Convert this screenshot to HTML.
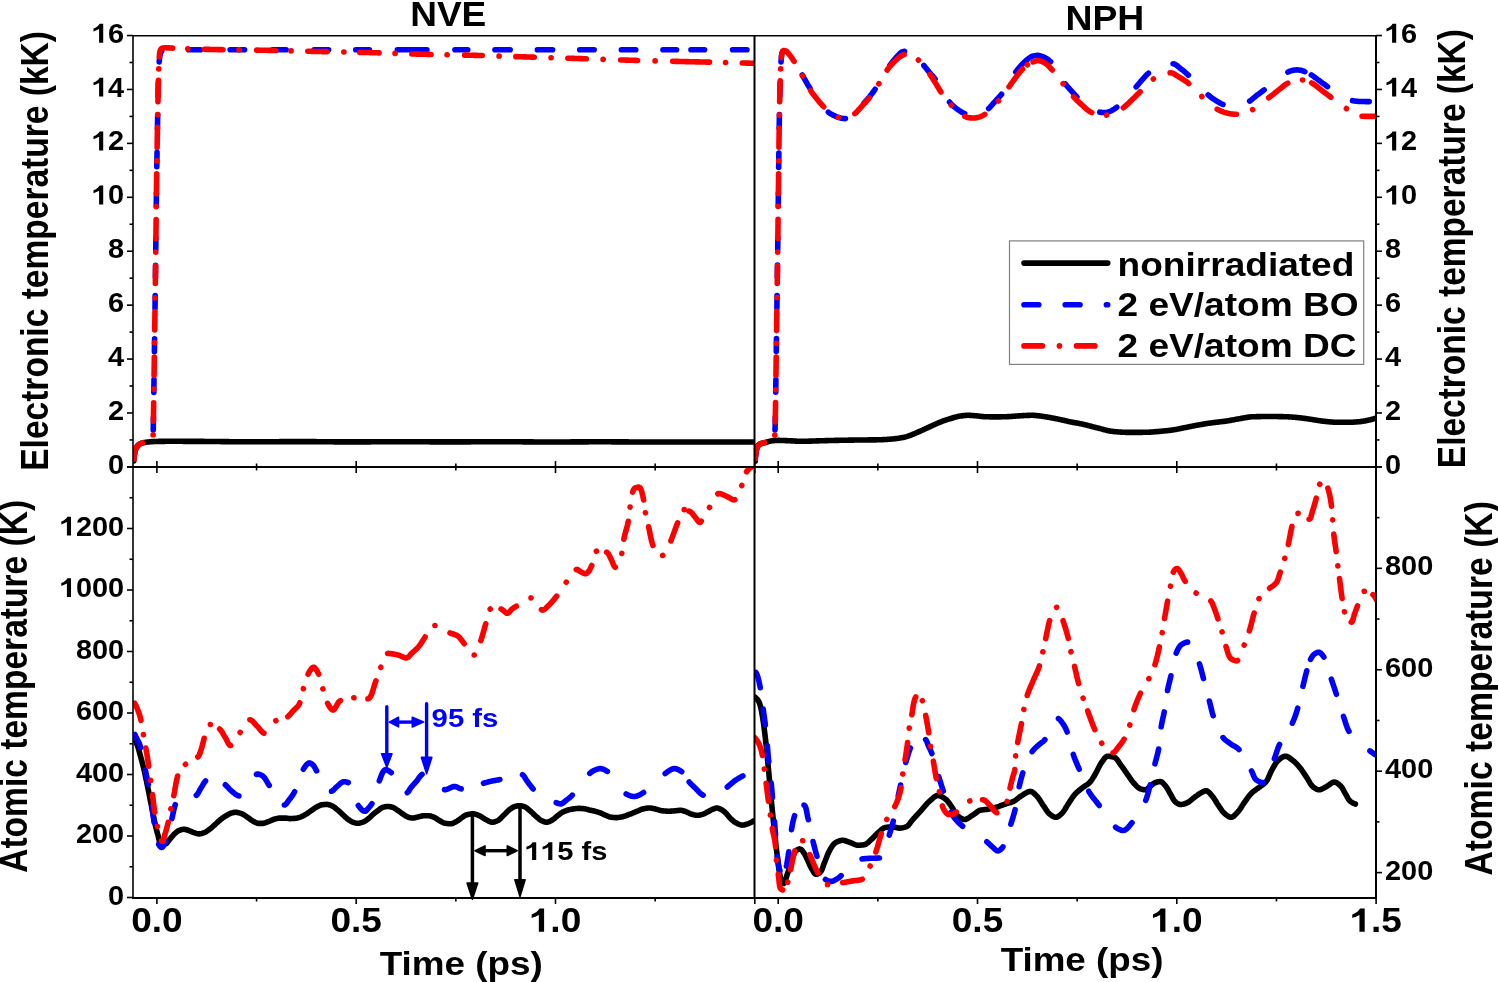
<!DOCTYPE html>
<html><head><meta charset="utf-8"><style>html,body{margin:0;padding:0;background:#fff;overflow:hidden}svg{display:block;will-change:transform}</style></head>
<body>
<svg width="1498" height="982" viewBox="0 0 1498 982">
<rect width="1498" height="982" fill="#fff"/>
<defs><clipPath id="cTL"><rect x="133.3" y="35.6" width="621" height="431.4"/></clipPath><clipPath id="cTR"><rect x="754.3" y="35.6" width="621.6" height="431.4"/></clipPath><clipPath id="cBL"><rect x="133.3" y="467" width="621" height="431.1"/></clipPath><clipPath id="cBR"><rect x="754.3" y="467" width="621.6" height="431.1"/></clipPath></defs>
<g clip-path="url(#cTL)">
<path d="M133.80,461.00 L133.81,460.18 L133.84,459.36 L133.89,458.55 L133.96,457.74 L134.04,456.94 L134.13,456.14 L134.24,455.35 L134.36,454.57 L134.48,453.79 L134.62,453.01 L134.76,452.24 L134.91,451.47 L135.13,450.69 L135.39,449.92 L135.69,449.16 L136.03,448.42 L136.38,447.71 L136.77,447.03 L137.23,446.35 L137.74,445.69 L138.30,445.09 L138.88,444.58 L139.51,444.17 L140.21,443.80 L140.96,443.46 L141.74,443.17 L142.52,442.92 L143.29,442.73 L144.07,442.57 L144.85,442.42 L145.65,442.29 L146.45,442.18 L147.25,442.08 L148.04,442.00 L148.84,441.92 L149.64,441.84 L150.44,441.77 L151.23,441.70 L152.03,441.64 L152.83,441.59 L153.63,441.55 L154.43,441.52 L155.23,441.49 L156.03,441.48 L156.83,441.46 L157.63,441.44 L158.43,441.42 L159.23,441.41 L160.04,441.39 L160.84,441.38 L161.64,441.37 L162.44,441.35 L163.24,441.34 L164.04,441.33 L164.84,441.33 L165.64,441.32 L166.44,441.31 L167.24,441.31 L168.05,441.30 L168.85,441.30 L169.65,441.30 L170.45,441.30 L171.25,441.30 L172.05,441.30 L172.85,441.30 L173.65,441.30 L174.45,441.30 L175.25,441.30 L176.05,441.31 L176.85,441.31 L177.65,441.31 L178.46,441.31 L179.26,441.31 L180.06,441.32 L180.86,441.32 L181.66,441.32 L182.46,441.32 L183.26,441.33 L184.06,441.33 L184.86,441.33 L185.66,441.34 L186.46,441.34 L187.26,441.34 L188.06,441.35 L188.87,441.35 L189.67,441.35 L190.47,441.36 L191.27,441.36 L192.07,441.36 L192.87,441.37 L193.67,441.37 L194.47,441.37 L195.27,441.38 L196.07,441.38 L196.87,441.39 L197.67,441.39 L198.47,441.39 L199.28,441.40 L200.08,441.40 L200.88,441.40 L201.68,441.41 L202.48,441.41 L203.28,441.42 L204.08,441.42 L204.88,441.43 L205.68,441.43 L206.48,441.44 L207.28,441.45 L208.08,441.45 L208.88,441.46 L209.68,441.47 L210.49,441.48 L211.29,441.48 L212.09,441.49 L212.89,441.50 L213.69,441.51 L214.49,441.51 L215.29,441.52 L216.09,441.53 L216.89,441.54 L217.69,441.55 L218.49,441.56 L219.29,441.57 L220.09,441.57 L220.90,441.58 L221.70,441.59 L222.50,441.60 L223.30,441.61 L224.10,441.62 L224.90,441.63 L225.70,441.64 L226.50,441.64 L227.30,441.65 L228.10,441.66 L228.90,441.67 L229.70,441.68 L230.50,441.69 L231.30,441.69 L232.11,441.70 L232.91,441.71 L233.71,441.72 L234.51,441.72 L235.31,441.73 L236.11,441.74 L236.91,441.74 L237.71,441.75 L238.51,441.76 L239.31,441.76 L240.11,441.77 L240.91,441.77 L241.71,441.78 L242.52,441.78 L243.32,441.78 L244.12,441.79 L244.92,441.79 L245.72,441.79 L246.52,441.80 L247.32,441.80 L248.12,441.80 L248.92,441.80 L249.72,441.80 L250.52,441.80 L251.32,441.80 L252.12,441.80 L252.92,441.80 L253.73,441.80 L254.53,441.80 L255.33,441.79 L256.13,441.79 L256.93,441.79 L257.73,441.79 L258.53,441.78 L259.33,441.78 L260.13,441.78 L260.93,441.78 L261.73,441.77 L262.53,441.77 L263.33,441.76 L264.14,441.76 L264.94,441.76 L265.74,441.75 L266.54,441.75 L267.34,441.74 L268.14,441.74 L268.94,441.74 L269.74,441.73 L270.54,441.73 L271.34,441.72 L272.14,441.72 L272.94,441.71 L273.74,441.71 L274.55,441.70 L275.35,441.70 L276.15,441.69 L276.95,441.69 L277.75,441.68 L278.55,441.68 L279.35,441.67 L280.15,441.67 L280.95,441.66 L281.75,441.66 L282.55,441.66 L283.35,441.65 L284.15,441.65 L284.96,441.64 L285.76,441.64 L286.56,441.64 L287.36,441.63 L288.16,441.63 L288.96,441.62 L289.76,441.62 L290.56,441.62 L291.36,441.62 L292.16,441.61 L292.96,441.61 L293.76,441.61 L294.56,441.61 L295.37,441.60 L296.17,441.60 L296.97,441.60 L297.77,441.60 L298.57,441.60 L299.37,441.60 L300.17,441.60 L300.97,441.60 L301.77,441.60 L302.57,441.60 L303.37,441.60 L304.17,441.61 L304.97,441.61 L305.77,441.61 L306.58,441.61 L307.38,441.62 L308.18,441.62 L308.98,441.63 L309.78,441.63 L310.58,441.63 L311.38,441.64 L312.18,441.64 L312.98,441.65 L313.78,441.66 L314.58,441.66 L315.38,441.67 L316.18,441.67 L316.99,441.68 L317.79,441.69 L318.59,441.69 L319.39,441.70 L320.19,441.71 L320.99,441.71 L321.79,441.72 L322.59,441.73 L323.39,441.74 L324.19,441.74 L324.99,441.75 L325.79,441.76 L326.59,441.76 L327.40,441.77 L328.20,441.78 L329.00,441.79 L329.80,441.79 L330.60,441.80 L331.40,441.81 L332.20,441.81 L333.00,441.82 L333.80,441.83 L334.60,441.83 L335.40,441.84 L336.20,441.84 L337.00,441.85 L337.81,441.86 L338.61,441.86 L339.41,441.87 L340.21,441.87 L341.01,441.87 L341.81,441.88 L342.61,441.88 L343.41,441.89 L344.21,441.89 L345.01,441.89 L345.81,441.89 L346.61,441.90 L347.41,441.90 L348.21,441.90 L349.02,441.90 L349.82,441.90 L350.62,441.90 L351.42,441.90 L352.22,441.90 L353.02,441.90 L353.82,441.90 L354.62,441.90 L355.42,441.89 L356.22,441.89 L357.02,441.89 L357.82,441.89 L358.62,441.88 L359.43,441.88 L360.23,441.88 L361.03,441.88 L361.83,441.87 L362.63,441.87 L363.43,441.86 L364.23,441.86 L365.03,441.86 L365.83,441.85 L366.63,441.85 L367.43,441.84 L368.23,441.84 L369.03,441.84 L369.84,441.83 L370.64,441.83 L371.44,441.82 L372.24,441.82 L373.04,441.81 L373.84,441.81 L374.64,441.80 L375.44,441.80 L376.24,441.79 L377.04,441.79 L377.84,441.78 L378.64,441.78 L379.44,441.77 L380.25,441.77 L381.05,441.76 L381.85,441.76 L382.65,441.76 L383.45,441.75 L384.25,441.75 L385.05,441.74 L385.85,441.74 L386.65,441.74 L387.45,441.73 L388.25,441.73 L389.05,441.72 L389.85,441.72 L390.66,441.72 L391.46,441.72 L392.26,441.71 L393.06,441.71 L393.86,441.71 L394.66,441.71 L395.46,441.70 L396.26,441.70 L397.06,441.70 L397.86,441.70 L398.66,441.70 L399.46,441.70 L400.26,441.70 L401.07,441.70 L401.87,441.70 L402.67,441.70 L403.47,441.70 L404.27,441.70 L405.07,441.71 L405.87,441.71 L406.67,441.71 L407.47,441.71 L408.27,441.71 L409.07,441.72 L409.87,441.72 L410.67,441.72 L411.47,441.73 L412.28,441.73 L413.08,441.73 L413.88,441.74 L414.68,441.74 L415.48,441.75 L416.28,441.75 L417.08,441.75 L417.88,441.76 L418.68,441.76 L419.48,441.77 L420.28,441.77 L421.08,441.78 L421.88,441.78 L422.69,441.79 L423.49,441.79 L424.29,441.80 L425.09,441.80 L425.89,441.81 L426.69,441.81 L427.49,441.81 L428.29,441.82 L429.09,441.82 L429.89,441.83 L430.69,441.83 L431.49,441.84 L432.29,441.84 L433.10,441.85 L433.90,441.85 L434.70,441.86 L435.50,441.86 L436.30,441.86 L437.10,441.87 L437.90,441.87 L438.70,441.87 L439.50,441.88 L440.30,441.88 L441.10,441.88 L441.90,441.89 L442.70,441.89 L443.51,441.89 L444.31,441.89 L445.11,441.89 L445.91,441.90 L446.71,441.90 L447.51,441.90 L448.31,441.90 L449.11,441.90 L449.91,441.90 L450.71,441.90 L451.51,441.90 L452.31,441.90 L453.11,441.90 L453.92,441.90 L454.72,441.89 L455.52,441.89 L456.32,441.89 L457.12,441.89 L457.92,441.89 L458.72,441.88 L459.52,441.88 L460.32,441.88 L461.12,441.87 L461.92,441.87 L462.72,441.87 L463.52,441.86 L464.33,441.86 L465.13,441.86 L465.93,441.85 L466.73,441.85 L467.53,441.84 L468.33,441.84 L469.13,441.83 L469.93,441.83 L470.73,441.83 L471.53,441.82 L472.33,441.82 L473.13,441.81 L473.93,441.81 L474.74,441.80 L475.54,441.80 L476.34,441.79 L477.14,441.79 L477.94,441.78 L478.74,441.78 L479.54,441.77 L480.34,441.77 L481.14,441.76 L481.94,441.76 L482.74,441.76 L483.54,441.75 L484.34,441.75 L485.14,441.74 L485.95,441.74 L486.75,441.73 L487.55,441.73 L488.35,441.73 L489.15,441.72 L489.95,441.72 L490.75,441.72 L491.55,441.72 L492.35,441.71 L493.15,441.71 L493.95,441.71 L494.75,441.71 L495.55,441.70 L496.36,441.70 L497.16,441.70 L497.96,441.70 L498.76,441.70 L499.56,441.70 L500.36,441.70 L501.16,441.70 L501.96,441.70 L502.76,441.70 L503.56,441.70 L504.36,441.71 L505.16,441.71 L505.96,441.71 L506.77,441.71 L507.57,441.72 L508.37,441.72 L509.17,441.73 L509.97,441.73 L510.77,441.74 L511.57,441.74 L512.37,441.75 L513.17,441.75 L513.97,441.76 L514.77,441.76 L515.57,441.77 L516.37,441.78 L517.18,441.78 L517.98,441.79 L518.78,441.80 L519.58,441.80 L520.38,441.81 L521.18,441.82 L521.98,441.82 L522.78,441.83 L523.58,441.84 L524.38,441.84 L525.18,441.85 L525.98,441.86 L526.78,441.87 L527.58,441.87 L528.39,441.88 L529.19,441.89 L529.99,441.89 L530.79,441.90 L531.59,441.91 L532.39,441.91 L533.19,441.92 L533.99,441.93 L534.79,441.93 L535.59,441.94 L536.39,441.95 L537.19,441.95 L537.99,441.96 L538.80,441.96 L539.60,441.97 L540.40,441.97 L541.20,441.98 L542.00,441.98 L542.80,441.98 L543.60,441.99 L544.40,441.99 L545.20,441.99 L546.00,441.99 L546.80,442.00 L547.60,442.00 L548.40,442.00 L549.21,442.00 L550.01,442.00 L550.81,442.00 L551.61,442.00 L552.41,442.00 L553.21,442.00 L554.01,442.00 L554.81,441.99 L555.61,441.99 L556.41,441.99 L557.21,441.99 L558.01,441.99 L558.81,441.98 L559.62,441.98 L560.42,441.98 L561.22,441.97 L562.02,441.97 L562.82,441.97 L563.62,441.96 L564.42,441.96 L565.22,441.96 L566.02,441.95 L566.82,441.95 L567.62,441.94 L568.42,441.94 L569.22,441.93 L570.02,441.93 L570.83,441.92 L571.63,441.92 L572.43,441.92 L573.23,441.91 L574.03,441.91 L574.83,441.90 L575.63,441.90 L576.43,441.89 L577.23,441.89 L578.03,441.88 L578.83,441.88 L579.63,441.87 L580.43,441.87 L581.24,441.86 L582.04,441.86 L582.84,441.85 L583.64,441.85 L584.44,441.85 L585.24,441.84 L586.04,441.84 L586.84,441.83 L587.64,441.83 L588.44,441.83 L589.24,441.82 L590.04,441.82 L590.84,441.82 L591.65,441.81 L592.45,441.81 L593.25,441.81 L594.05,441.81 L594.85,441.81 L595.65,441.80 L596.45,441.80 L597.25,441.80 L598.05,441.80 L598.85,441.80 L599.65,441.80 L600.45,441.80 L601.25,441.80 L602.06,441.80 L602.86,441.80 L603.66,441.80 L604.46,441.80 L605.26,441.81 L606.06,441.81 L606.86,441.81 L607.66,441.81 L608.46,441.82 L609.26,441.82 L610.06,441.82 L610.86,441.82 L611.66,441.83 L612.47,441.83 L613.27,441.83 L614.07,441.84 L614.87,441.84 L615.67,441.85 L616.47,441.85 L617.27,441.86 L618.07,441.86 L618.87,441.86 L619.67,441.87 L620.47,441.87 L621.27,441.88 L622.07,441.88 L622.88,441.89 L623.68,441.89 L624.48,441.90 L625.28,441.90 L626.08,441.91 L626.88,441.91 L627.68,441.92 L628.48,441.92 L629.28,441.93 L630.08,441.93 L630.88,441.93 L631.68,441.94 L632.48,441.94 L633.29,441.95 L634.09,441.95 L634.89,441.96 L635.69,441.96 L636.49,441.96 L637.29,441.97 L638.09,441.97 L638.89,441.97 L639.69,441.98 L640.49,441.98 L641.29,441.98 L642.09,441.99 L642.89,441.99 L643.69,441.99 L644.50,441.99 L645.30,442.00 L646.10,442.00 L646.90,442.00 L647.70,442.00 L648.50,442.00 L649.30,442.00 L650.10,442.00 L650.90,442.00 L651.70,442.00 L652.50,442.00 L653.30,442.00 L654.10,442.00 L654.91,442.00 L655.71,442.00 L656.51,442.00 L657.31,442.00 L658.11,442.00 L658.91,442.00 L659.71,442.00 L660.51,442.00 L661.31,442.00 L662.11,442.00 L662.91,442.00 L663.71,442.00 L664.51,442.00 L665.32,442.00 L666.12,442.00 L666.92,442.00 L667.72,442.00 L668.52,442.00 L669.32,442.00 L670.12,442.00 L670.92,442.00 L671.72,442.00 L672.52,442.00 L673.32,442.00 L674.12,442.00 L674.92,442.00 L675.73,442.00 L676.53,442.00 L677.33,442.00 L678.13,442.00 L678.93,442.00 L679.73,442.00 L680.53,442.00 L681.33,442.00 L682.13,442.00 L682.93,442.00 L683.73,442.00 L684.53,442.00 L685.33,442.00 L686.14,442.00 L686.94,442.00 L687.74,442.00 L688.54,442.00 L689.34,442.00 L690.14,442.00 L690.94,442.00 L691.74,442.00 L692.54,442.00 L693.34,442.00 L694.14,442.00 L694.94,442.00 L695.74,442.00 L696.55,442.00 L697.35,442.00 L698.15,442.00 L698.95,442.00 L699.75,442.00 L700.55,442.00 L701.35,442.00 L702.15,442.00 L702.95,442.00 L703.75,442.00 L704.55,442.00 L705.35,442.00 L706.15,442.00 L706.96,442.00 L707.76,442.00 L708.56,442.00 L709.36,442.00 L710.16,442.00 L710.96,442.00 L711.76,442.00 L712.56,442.00 L713.36,442.00 L714.16,442.00 L714.96,442.00 L715.76,442.00 L716.56,442.00 L717.37,442.00 L718.17,442.00 L718.97,442.00 L719.77,442.00 L720.57,442.00 L721.37,442.00 L722.17,442.00 L722.97,442.00 L723.77,442.00 L724.57,442.00 L725.37,442.00 L726.17,442.00 L726.97,442.00 L727.78,442.00 L728.58,442.00 L729.38,442.00 L730.18,442.00 L730.98,442.00 L731.78,442.00 L732.58,442.00 L733.38,442.00 L734.18,442.00 L734.98,442.00 L735.78,442.00 L736.58,442.00 L737.38,442.00 L738.19,442.00 L738.99,442.00 L739.79,442.00 L740.59,442.00 L741.39,442.00 L742.19,442.00 L742.99,442.00 L743.79,442.00 L744.59,442.00 L745.39,442.00 L746.19,442.00 L746.99,442.00 L747.79,442.00 L748.60,442.00 L749.40,442.00 L750.20,442.00 L751.00,442.00 L751.80,442.00 L752.60,442.00 L753.40,442.00" fill="none" stroke="#000" stroke-width="5.6" stroke-linecap="round" stroke-linejoin="round"/>
<path d="M133.80,461.00 L133.81,460.18 L133.84,459.36 L133.89,458.55 L133.96,457.74 L134.04,456.94 L134.13,456.15 L134.24,455.36 L134.36,454.57 L134.48,453.79 L134.62,453.02 L134.75,452.25 L134.91,451.47 L135.12,450.70 L135.39,449.93 L135.69,449.17 L136.02,448.43 L136.38,447.73 L136.76,447.04 L137.22,446.36 L137.73,445.70 L138.28,445.10 L138.87,444.59 L139.50,444.18 L140.20,443.81 L140.95,443.47 L141.72,443.17 L142.50,442.93 L143.27,442.74 L144.05,442.58 L144.83,442.45 L145.63,442.34 L146.43,442.23 L147.23,442.12 L148.02,442.00 L148.88,441.88 L149.79,441.77 L150.64,441.65 L151.31,441.49 L151.73,441.21 L152.09,440.65 L152.42,439.88 L152.68,438.98 L152.88,438.05 L152.99,437.18 L153.03,436.40 L153.07,435.62 L153.10,434.83 L153.13,434.05 L153.16,433.25 L153.18,432.46 L153.21,431.66 L153.23,430.86 L153.24,430.06 L153.26,429.26 L153.27,428.45 L153.29,427.64 L153.30,426.83 L153.31,426.03 L153.32,425.22 L153.33,424.41 L153.34,423.60 L153.35,422.80 L153.37,421.99 L153.38,421.19 L153.39,420.38 L153.41,419.58 L153.42,418.78 L153.44,417.98 L153.45,417.18 L153.47,416.38 L153.48,415.58 L153.49,414.78 L153.51,413.98 L153.52,413.18 L153.53,412.38 L153.55,411.58 L153.56,410.78 L153.57,409.98 L153.59,409.18 L153.60,408.38 L153.61,407.59 L153.62,406.79 L153.63,405.99 L153.65,405.19 L153.66,404.39 L153.67,403.59 L153.68,402.79 L153.69,401.99 L153.71,401.19 L153.72,400.39 L153.73,399.59 L153.74,398.79 L153.75,397.99 L153.76,397.19 L153.77,396.39 L153.78,395.59 L153.79,394.79 L153.81,393.99 L153.82,393.19 L153.83,392.39 L153.84,391.59 L153.85,390.79 L153.86,389.99 L153.87,389.19 L153.88,388.39 L153.89,387.59 L153.90,386.79 L153.92,385.99 L153.93,385.19 L153.94,384.39 L153.95,383.59 L153.96,382.79 L153.97,381.99 L153.98,381.19 L153.99,380.39 L154.01,379.59 L154.02,378.79 L154.03,377.99 L154.04,377.19 L154.05,376.39 L154.06,375.59 L154.08,374.79 L154.09,373.99 L154.10,373.19 L154.11,372.39 L154.12,371.59 L154.13,370.79 L154.14,369.99 L154.15,369.19 L154.17,368.39 L154.18,367.59 L154.19,366.79 L154.20,365.99 L154.21,365.19 L154.22,364.39 L154.23,363.59 L154.24,362.79 L154.26,361.99 L154.27,361.19 L154.28,360.39 L154.29,359.59 L154.30,358.79 L154.31,357.99 L154.32,357.19 L154.33,356.39 L154.34,355.59 L154.36,354.79 L154.37,353.99 L154.38,353.19 L154.39,352.39 L154.40,351.59 L154.41,350.79 L154.42,349.99 L154.43,349.19 L154.44,348.39 L154.46,347.59 L154.47,346.79 L154.48,345.99 L154.49,345.19 L154.50,344.39 L154.51,343.59 L154.52,342.79 L154.53,341.99 L154.54,341.19 L154.56,340.39 L154.57,339.59 L154.58,338.79 L154.59,337.99 L154.60,337.19 L154.61,336.39 L154.62,335.59 L154.63,334.79 L154.64,333.99 L154.66,333.19 L154.67,332.39 L154.68,331.59 L154.69,330.79 L154.70,329.99 L154.71,329.19 L154.72,328.39 L154.73,327.59 L154.75,326.79 L154.76,325.99 L154.77,325.19 L154.78,324.39 L154.79,323.59 L154.80,322.79 L154.81,321.99 L154.82,321.19 L154.84,320.39 L154.85,319.59 L154.86,318.79 L154.87,317.99 L154.88,317.19 L154.89,316.39 L154.90,315.59 L154.92,314.79 L154.93,313.99 L154.94,313.19 L154.95,312.39 L154.96,311.59 L154.97,310.79 L154.99,309.99 L155.00,309.19 L155.01,308.39 L155.02,307.59 L155.03,306.79 L155.04,305.99 L155.05,305.19 L155.07,304.39 L155.08,303.59 L155.09,302.79 L155.10,301.99 L155.11,301.19 L155.12,300.39 L155.13,299.59 L155.14,298.79 L155.16,297.99 L155.17,297.19 L155.18,296.39 L155.19,295.59 L155.20,294.79 L155.21,293.99 L155.22,293.19 L155.23,292.39 L155.25,291.59 L155.26,290.79 L155.27,289.99 L155.28,289.19 L155.29,288.39 L155.30,287.59 L155.31,286.79 L155.32,285.99 L155.33,285.19 L155.34,284.39 L155.35,283.59 L155.36,282.79 L155.37,281.99 L155.38,281.19 L155.39,280.39 L155.41,279.59 L155.42,278.79 L155.43,277.99 L155.44,277.19 L155.45,276.39 L155.46,275.59 L155.47,274.79 L155.48,273.99 L155.49,273.19 L155.50,272.39 L155.51,271.59 L155.52,270.79 L155.53,269.99 L155.54,269.19 L155.55,268.39 L155.56,267.59 L155.57,266.79 L155.57,265.99 L155.58,265.19 L155.59,264.39 L155.60,263.59 L155.61,262.79 L155.62,261.99 L155.63,261.19 L155.64,260.39 L155.65,259.59 L155.66,258.79 L155.67,257.99 L155.68,257.19 L155.69,256.39 L155.70,255.59 L155.71,254.79 L155.72,253.99 L155.73,253.19 L155.74,252.39 L155.75,251.59 L155.76,250.79 L155.76,249.99 L155.77,249.19 L155.78,248.39 L155.79,247.59 L155.80,246.79 L155.81,245.99 L155.82,245.19 L155.83,244.39 L155.84,243.59 L155.85,242.79 L155.86,241.99 L155.87,241.19 L155.88,240.39 L155.89,239.59 L155.90,238.79 L155.91,237.99 L155.91,237.19 L155.92,236.39 L155.93,235.59 L155.94,234.79 L155.95,233.99 L155.96,233.19 L155.97,232.39 L155.98,231.60 L155.99,230.80 L156.00,230.00 L156.01,229.20 L156.02,228.40 L156.03,227.60 L156.04,226.80 L156.05,226.00 L156.06,225.20 L156.07,224.40 L156.08,223.60 L156.08,222.80 L156.09,222.00 L156.10,221.20 L156.11,220.40 L156.12,219.60 L156.13,218.80 L156.14,218.00 L156.15,217.20 L156.16,216.40 L156.17,215.60 L156.18,214.80 L156.19,214.00 L156.19,213.20 L156.20,212.40 L156.21,211.60 L156.22,210.80 L156.23,210.00 L156.24,209.20 L156.25,208.40 L156.26,207.60 L156.27,206.80 L156.28,206.00 L156.29,205.20 L156.30,204.40 L156.30,203.60 L156.31,202.80 L156.32,202.00 L156.33,201.20 L156.34,200.40 L156.35,199.60 L156.36,198.80 L156.37,198.00 L156.38,197.20 L156.39,196.40 L156.40,195.60 L156.41,194.80 L156.42,194.00 L156.43,193.20 L156.44,192.40 L156.45,191.60 L156.46,190.80 L156.47,190.00 L156.48,189.20 L156.49,188.40 L156.50,187.60 L156.51,186.80 L156.52,186.00 L156.53,185.20 L156.54,184.40 L156.55,183.60 L156.56,182.80 L156.57,182.00 L156.58,181.20 L156.59,180.40 L156.61,179.60 L156.62,178.80 L156.63,178.00 L156.64,177.20 L156.65,176.40 L156.66,175.60 L156.67,174.80 L156.69,174.00 L156.70,173.20 L156.71,172.40 L156.72,171.60 L156.74,170.80 L156.75,170.00 L156.76,169.20 L156.77,168.40 L156.79,167.60 L156.80,166.80 L156.81,166.00 L156.82,165.20 L156.84,164.40 L156.85,163.60 L156.86,162.80 L156.88,162.00 L156.89,161.20 L156.90,160.40 L156.92,159.60 L156.93,158.80 L156.94,158.00 L156.96,157.20 L156.97,156.40 L156.98,155.60 L157.00,154.80 L157.01,154.00 L157.02,153.20 L157.04,152.40 L157.05,151.60 L157.07,150.80 L157.08,150.00 L157.09,149.20 L157.11,148.40 L157.12,147.60 L157.13,146.80 L157.15,146.00 L157.16,145.20 L157.18,144.40 L157.19,143.60 L157.20,142.80 L157.22,142.00 L157.23,141.20 L157.24,140.40 L157.26,139.60 L157.27,138.80 L157.29,138.00 L157.30,137.20 L157.31,136.40 L157.33,135.60 L157.34,134.80 L157.36,134.00 L157.37,133.20 L157.39,132.40 L157.40,131.60 L157.41,130.80 L157.43,130.00 L157.44,129.20 L157.46,128.40 L157.47,127.60 L157.49,126.80 L157.50,126.00 L157.52,125.20 L157.53,124.40 L157.55,123.60 L157.56,122.80 L157.57,122.00 L157.59,121.20 L157.60,120.40 L157.62,119.60 L157.63,118.80 L157.65,118.00 L157.66,117.20 L157.68,116.40 L157.69,115.60 L157.71,114.80 L157.72,114.00 L157.74,113.20 L157.75,112.40 L157.77,111.60 L157.78,110.80 L157.80,110.01 L157.82,109.21 L157.83,108.41 L157.85,107.61 L157.86,106.81 L157.88,106.01 L157.89,105.21 L157.90,104.41 L157.92,103.61 L157.93,102.81 L157.95,102.01 L157.96,101.21 L157.98,100.41 L157.99,99.61 L158.01,98.81 L158.02,98.01 L158.04,97.21 L158.06,96.41 L158.07,95.61 L158.09,94.81 L158.10,94.01 L158.12,93.21 L158.14,92.41 L158.15,91.61 L158.17,90.81 L158.19,90.01 L158.20,89.21 L158.22,88.41 L158.24,87.61 L158.26,86.81 L158.28,86.01 L158.29,85.21 L158.31,84.41 L158.33,83.61 L158.35,82.81 L158.37,82.01 L158.39,81.21 L158.41,80.41 L158.43,79.61 L158.45,78.81 L158.47,78.01 L158.49,77.21 L158.51,76.41 L158.53,75.61 L158.55,74.81 L158.58,74.01 L158.60,73.21 L158.63,72.41 L158.66,71.61 L158.69,70.81 L158.72,70.01 L158.75,69.21 L158.78,68.42 L158.82,67.62 L158.86,66.82 L158.90,66.02 L158.95,65.22 L159.00,64.42 L159.06,63.62 L159.12,62.82 L159.18,62.02 L159.25,61.22 L159.33,60.42 L159.41,59.63 L159.50,58.84 L159.59,58.05 L159.70,57.25 L159.82,56.42 L159.95,55.60 L160.11,54.78 L160.30,54.00 L160.52,53.25 L160.77,52.56 L161.14,51.88 L161.69,51.20 L162.34,50.63 L163.01,50.30 L163.72,50.14 L164.50,50.00 L165.32,49.90 L166.16,49.83 L166.98,49.80 L167.78,49.79 L168.58,49.78 L169.37,49.76 L170.17,49.75 L170.97,49.74 L171.77,49.74 L172.57,49.73 L173.37,49.72 L174.17,49.72 L174.98,49.71 L175.78,49.71 L176.58,49.71 L177.38,49.70 L178.18,49.70 L178.98,49.70 L179.78,49.70 L180.58,49.70 L181.38,49.70 L182.18,49.70 L182.98,49.70 L183.78,49.70 L184.58,49.70 L185.38,49.70 L186.18,49.70 L186.98,49.70 L187.78,49.70 L188.58,49.70 L189.38,49.70 L190.18,49.70 L190.98,49.70 L191.78,49.70 L192.58,49.70 L193.38,49.70 L194.18,49.70 L194.98,49.70 L195.78,49.70 L196.58,49.70 L197.38,49.70 L198.18,49.70 L198.98,49.70 L199.78,49.70 L200.58,49.70 L201.38,49.70 L202.18,49.70 L202.98,49.70 L203.78,49.70 L204.58,49.70 L205.38,49.70 L206.18,49.70 L206.98,49.70 L207.78,49.70 L208.58,49.70 L209.38,49.70 L210.18,49.70 L210.98,49.70 L211.78,49.70 L212.58,49.70 L213.38,49.70 L214.18,49.70 L214.98,49.70 L215.78,49.70 L216.58,49.70 L217.38,49.70 L218.18,49.70 L218.98,49.70 L219.78,49.70 L220.58,49.70 L221.38,49.70 L222.18,49.70 L222.98,49.70 L223.78,49.70 L224.58,49.70 L225.38,49.70 L226.18,49.70 L226.98,49.70 L227.78,49.70 L228.58,49.70 L229.38,49.70 L230.18,49.70 L230.98,49.70 L231.78,49.70 L232.58,49.70 L233.38,49.70 L234.18,49.70 L234.98,49.70 L235.78,49.70 L236.58,49.70 L237.38,49.70 L238.18,49.70 L238.98,49.70 L239.78,49.70 L240.58,49.70 L241.38,49.70 L242.18,49.70 L242.98,49.70 L243.78,49.70 L244.58,49.70 L245.38,49.70 L246.18,49.70 L246.98,49.70 L247.78,49.70 L248.58,49.70 L249.38,49.70 L250.18,49.70 L250.98,49.70 L251.78,49.70 L252.58,49.70 L253.38,49.70 L254.18,49.70 L254.98,49.70 L255.78,49.70 L256.58,49.70 L257.38,49.70 L258.18,49.70 L258.98,49.70 L259.78,49.70 L260.58,49.70 L261.38,49.70 L262.18,49.70 L262.98,49.70 L263.78,49.70 L264.58,49.70 L265.38,49.70 L266.18,49.70 L266.98,49.70 L267.78,49.70 L268.58,49.70 L269.38,49.70 L270.18,49.70 L270.98,49.70 L271.78,49.70 L272.58,49.70 L273.38,49.70 L274.18,49.70 L274.98,49.70 L275.78,49.70 L276.58,49.70 L277.38,49.70 L278.18,49.70 L278.98,49.70 L279.78,49.70 L280.58,49.70 L281.38,49.70 L282.18,49.70 L282.98,49.70 L283.78,49.70 L284.58,49.70 L285.38,49.70 L286.18,49.70 L286.98,49.70 L287.78,49.70 L288.58,49.70 L289.38,49.70 L290.18,49.70 L290.98,49.70 L291.78,49.70 L292.58,49.70 L293.38,49.70 L294.18,49.70 L294.98,49.70 L295.78,49.70 L296.58,49.70 L297.38,49.70 L298.18,49.70 L298.98,49.70 L299.78,49.70 L300.58,49.70 L301.38,49.70 L302.18,49.70 L302.98,49.70 L303.78,49.70 L304.58,49.70 L305.38,49.70 L306.18,49.70 L306.98,49.70 L307.78,49.70 L308.58,49.70 L309.38,49.70 L310.18,49.70 L310.98,49.70 L311.78,49.70 L312.58,49.70 L313.38,49.70 L314.18,49.70 L314.98,49.70 L315.78,49.70 L316.58,49.70 L317.38,49.70 L318.18,49.70 L318.98,49.70 L319.78,49.70 L320.58,49.70 L321.38,49.70 L322.18,49.70 L322.98,49.70 L323.78,49.70 L324.58,49.70 L325.38,49.70 L326.18,49.70 L326.98,49.70 L327.78,49.70 L328.58,49.70 L329.38,49.70 L330.18,49.70 L330.98,49.70 L331.78,49.70 L332.58,49.70 L333.38,49.70 L334.18,49.70 L334.98,49.70 L335.78,49.70 L336.58,49.70 L337.38,49.70 L338.18,49.70 L338.98,49.70 L339.78,49.70 L340.58,49.70 L341.38,49.70 L342.18,49.70 L342.98,49.70 L343.78,49.70 L344.58,49.70 L345.38,49.70 L346.18,49.70 L346.98,49.70 L347.78,49.70 L348.58,49.70 L349.38,49.70 L350.18,49.70 L350.98,49.70 L351.78,49.70 L352.58,49.70 L353.38,49.70 L354.18,49.70 L354.98,49.70 L355.78,49.70 L356.58,49.70 L357.38,49.70 L358.18,49.70 L358.98,49.70 L359.78,49.70 L360.58,49.70 L361.38,49.70 L362.18,49.70 L362.98,49.70 L363.78,49.70 L364.58,49.70 L365.38,49.70 L366.18,49.70 L366.98,49.70 L367.78,49.70 L368.58,49.70 L369.38,49.70 L370.18,49.70 L370.98,49.70 L371.78,49.70 L372.58,49.70 L373.38,49.70 L374.18,49.70 L374.98,49.70 L375.78,49.70 L376.58,49.70 L377.38,49.70 L378.18,49.70 L378.98,49.70 L379.78,49.70 L380.58,49.70 L381.38,49.70 L382.18,49.70 L382.98,49.70 L383.78,49.70 L384.58,49.70 L385.38,49.70 L386.18,49.70 L386.98,49.70 L387.78,49.70 L388.58,49.70 L389.38,49.70 L390.18,49.70 L390.98,49.70 L391.78,49.70 L392.59,49.70 L393.39,49.70 L394.19,49.70 L394.99,49.70 L395.79,49.70 L396.59,49.70 L397.39,49.70 L398.19,49.70 L398.99,49.70 L399.79,49.70 L400.59,49.70 L401.39,49.70 L402.19,49.70 L402.99,49.70 L403.79,49.70 L404.59,49.70 L405.39,49.70 L406.19,49.70 L406.99,49.70 L407.79,49.70 L408.59,49.70 L409.39,49.70 L410.19,49.70 L410.99,49.70 L411.79,49.70 L412.59,49.70 L413.39,49.70 L414.19,49.70 L414.99,49.70 L415.79,49.70 L416.59,49.70 L417.39,49.70 L418.19,49.70 L418.99,49.70 L419.79,49.70 L420.59,49.70 L421.39,49.70 L422.19,49.70 L422.99,49.70 L423.79,49.70 L424.59,49.70 L425.39,49.70 L426.19,49.70 L426.99,49.70 L427.79,49.70 L428.59,49.70 L429.39,49.70 L430.19,49.70 L430.99,49.70 L431.79,49.70 L432.59,49.70 L433.39,49.70 L434.19,49.70 L434.99,49.70 L435.79,49.70 L436.59,49.70 L437.39,49.70 L438.19,49.70 L438.99,49.70 L439.79,49.70 L440.59,49.70 L441.39,49.70 L442.19,49.70 L442.99,49.70 L443.79,49.70 L444.59,49.70 L445.39,49.70 L446.19,49.70 L446.99,49.70 L447.79,49.70 L448.59,49.70 L449.39,49.70 L450.19,49.70 L450.99,49.70 L451.79,49.70 L452.59,49.70 L453.39,49.70 L454.19,49.70 L454.99,49.70 L455.79,49.70 L456.59,49.70 L457.39,49.70 L458.19,49.70 L458.99,49.70 L459.79,49.70 L460.59,49.70 L461.39,49.70 L462.19,49.70 L462.99,49.70 L463.79,49.70 L464.59,49.70 L465.39,49.70 L466.19,49.70 L466.99,49.70 L467.79,49.70 L468.59,49.70 L469.39,49.70 L470.19,49.70 L470.99,49.70 L471.79,49.70 L472.59,49.70 L473.39,49.70 L474.19,49.70 L474.99,49.70 L475.79,49.70 L476.59,49.70 L477.39,49.70 L478.19,49.70 L478.99,49.70 L479.79,49.70 L480.59,49.70 L481.39,49.70 L482.19,49.70 L482.99,49.70 L483.79,49.70 L484.59,49.70 L485.39,49.70 L486.19,49.70 L486.99,49.70 L487.79,49.70 L488.59,49.70 L489.39,49.70 L490.19,49.70 L490.99,49.70 L491.79,49.70 L492.59,49.70 L493.39,49.70 L494.19,49.70 L494.99,49.70 L495.79,49.70 L496.59,49.70 L497.39,49.70 L498.19,49.70 L498.99,49.70 L499.79,49.70 L500.59,49.70 L501.39,49.70 L502.19,49.70 L502.99,49.70 L503.79,49.70 L504.59,49.70 L505.39,49.70 L506.19,49.70 L506.99,49.70 L507.79,49.70 L508.59,49.70 L509.39,49.70 L510.19,49.70 L510.99,49.70 L511.79,49.70 L512.59,49.70 L513.39,49.70 L514.19,49.70 L514.99,49.70 L515.79,49.70 L516.59,49.70 L517.39,49.70 L518.19,49.70 L518.99,49.70 L519.79,49.70 L520.59,49.70 L521.39,49.70 L522.19,49.70 L522.99,49.70 L523.79,49.70 L524.59,49.70 L525.39,49.70 L526.19,49.70 L526.99,49.70 L527.79,49.70 L528.59,49.70 L529.39,49.70 L530.19,49.70 L530.99,49.70 L531.79,49.70 L532.59,49.70 L533.39,49.70 L534.19,49.70 L534.99,49.70 L535.79,49.70 L536.59,49.70 L537.39,49.70 L538.19,49.70 L538.99,49.70 L539.79,49.70 L540.59,49.70 L541.39,49.70 L542.19,49.70 L542.99,49.70 L543.79,49.70 L544.59,49.70 L545.39,49.70 L546.19,49.70 L546.99,49.70 L547.79,49.70 L548.59,49.70 L549.39,49.70 L550.19,49.70 L550.99,49.70 L551.79,49.70 L552.59,49.70 L553.39,49.70 L554.19,49.70 L554.99,49.70 L555.79,49.70 L556.59,49.70 L557.39,49.70 L558.19,49.70 L558.99,49.70 L559.79,49.70 L560.59,49.70 L561.39,49.70 L562.19,49.70 L562.99,49.70 L563.79,49.70 L564.59,49.70 L565.39,49.70 L566.19,49.70 L566.99,49.70 L567.79,49.70 L568.59,49.70 L569.39,49.70 L570.19,49.70 L570.99,49.70 L571.79,49.70 L572.59,49.70 L573.39,49.70 L574.19,49.70 L574.99,49.70 L575.79,49.70 L576.59,49.70 L577.39,49.70 L578.19,49.70 L578.99,49.70 L579.79,49.70 L580.59,49.70 L581.39,49.70 L582.19,49.70 L582.99,49.70 L583.79,49.70 L584.59,49.70 L585.39,49.70 L586.19,49.70 L586.99,49.70 L587.79,49.70 L588.59,49.70 L589.39,49.70 L590.19,49.70 L590.99,49.70 L591.79,49.70 L592.59,49.70 L593.39,49.70 L594.19,49.70 L594.99,49.70 L595.79,49.70 L596.59,49.70 L597.39,49.70 L598.19,49.70 L598.99,49.70 L599.79,49.70 L600.59,49.70 L601.39,49.70 L602.19,49.70 L602.99,49.70 L603.79,49.70 L604.59,49.70 L605.39,49.70 L606.19,49.70 L606.99,49.70 L607.79,49.70 L608.59,49.70 L609.39,49.70 L610.19,49.70 L610.99,49.70 L611.79,49.70 L612.59,49.70 L613.39,49.70 L614.19,49.70 L614.99,49.70 L615.79,49.70 L616.59,49.70 L617.39,49.70 L618.19,49.70 L618.99,49.70 L619.79,49.70 L620.59,49.70 L621.39,49.70 L622.19,49.70 L622.99,49.70 L623.79,49.70 L624.59,49.70 L625.39,49.70 L626.19,49.70 L626.99,49.70 L627.79,49.70 L628.59,49.70 L629.39,49.70 L630.19,49.70 L630.99,49.70 L631.79,49.70 L632.59,49.70 L633.39,49.70 L634.19,49.70 L634.99,49.70 L635.79,49.70 L636.59,49.70 L637.39,49.70 L638.19,49.70 L638.99,49.70 L639.79,49.70 L640.59,49.70 L641.39,49.70 L642.19,49.70 L642.99,49.70 L643.79,49.70 L644.59,49.70 L645.39,49.70 L646.19,49.70 L646.99,49.70 L647.79,49.70 L648.59,49.70 L649.39,49.70 L650.19,49.70 L650.99,49.70 L651.79,49.70 L652.59,49.70 L653.39,49.70 L654.19,49.70 L654.99,49.70 L655.79,49.70 L656.59,49.70 L657.39,49.70 L658.19,49.70 L658.99,49.70 L659.79,49.70 L660.59,49.70 L661.39,49.70 L662.19,49.70 L662.99,49.70 L663.79,49.70 L664.60,49.70 L665.40,49.70 L666.20,49.70 L667.00,49.70 L667.80,49.70 L668.60,49.70 L669.40,49.70 L670.20,49.70 L671.00,49.70 L671.80,49.70 L672.60,49.70 L673.40,49.70 L674.20,49.70 L675.00,49.70 L675.80,49.70 L676.60,49.70 L677.40,49.70 L678.20,49.70 L679.00,49.70 L679.80,49.70 L680.60,49.70 L681.40,49.70 L682.20,49.70 L683.00,49.70 L683.80,49.70 L684.60,49.70 L685.40,49.70 L686.20,49.70 L687.00,49.70 L687.80,49.70 L688.60,49.70 L689.40,49.70 L690.20,49.70 L691.00,49.70 L691.80,49.70 L692.60,49.70 L693.40,49.70 L694.20,49.70 L695.00,49.70 L695.80,49.70 L696.60,49.70 L697.40,49.70 L698.20,49.70 L699.00,49.70 L699.80,49.70 L700.60,49.70 L701.40,49.70 L702.20,49.70 L703.00,49.70 L703.80,49.70 L704.60,49.70 L705.40,49.70 L706.20,49.70 L707.00,49.70 L707.80,49.70 L708.60,49.70 L709.40,49.70 L710.20,49.70 L711.00,49.70 L711.80,49.70 L712.60,49.70 L713.40,49.70 L714.20,49.70 L715.00,49.70 L715.80,49.70 L716.60,49.70 L717.40,49.70 L718.20,49.70 L719.00,49.70 L719.80,49.70 L720.60,49.70 L721.40,49.70 L722.20,49.70 L723.00,49.70 L723.80,49.70 L724.60,49.70 L725.40,49.70 L726.20,49.70 L727.00,49.70 L727.80,49.70 L728.60,49.70 L729.40,49.70 L730.20,49.70 L731.00,49.70 L731.80,49.70 L732.60,49.70 L733.40,49.70 L734.20,49.70 L735.00,49.70 L735.80,49.70 L736.60,49.70 L737.40,49.70 L738.20,49.70 L739.00,49.70 L739.80,49.70 L740.60,49.70 L741.40,49.70 L742.20,49.70 L743.00,49.70 L743.80,49.70 L744.60,49.70 L745.40,49.70 L746.20,49.70 L747.00,49.70 L747.80,49.70 L748.60,49.70 L749.40,49.70 L750.20,49.70 L751.00,49.70 L751.80,49.70 L752.60,49.70 L753.40,49.70" fill="none" stroke="#0000ff" stroke-width="5.6" stroke-linecap="round" stroke-linejoin="round" stroke-dasharray="13.24 24.97 12.88 24.80 12.80 28.00 12.80 30.40 12.80 18.40 12.00 15.20 12.00 32.00 12.80 26.40 14.40 24.00 13.60 18.40 13.60 20.81 11.27 27.22 12.00 29.60 14.40 28.00 13.60 28.00 14.40 27.20 13.60 28.00 29.60 28.00 12.80 27.20 15.20 27.20 15.20 27.20 14.40 27.20 14.40 27.20 13.60 14.40 13.60 28.00 14.40 1218.23" stroke-dashoffset="-4.30"/>
<path d="M133.80,461.00 L133.81,460.18 L133.84,459.36 L133.89,458.55 L133.96,457.74 L134.04,456.94 L134.13,456.15 L134.24,455.36 L134.36,454.57 L134.48,453.79 L134.62,453.01 L134.76,452.24 L134.91,451.47 L135.13,450.69 L135.39,449.92 L135.69,449.16 L136.02,448.43 L136.38,447.72 L136.77,447.04 L137.22,446.35 L137.73,445.69 L138.29,445.09 L138.88,444.59 L139.51,444.18 L140.21,443.80 L140.95,443.46 L141.73,443.17 L142.51,442.93 L143.28,442.74 L144.06,442.58 L144.84,442.45 L145.64,442.34 L146.44,442.23 L147.24,442.12 L148.03,441.99 L148.89,441.88 L149.81,441.77 L150.66,441.65 L151.32,441.48 L151.74,441.20 L152.10,440.64 L152.42,439.86 L152.69,438.96 L152.88,438.03 L152.99,437.16 L153.03,436.38 L153.07,435.60 L153.10,434.82 L153.13,434.03 L153.16,433.24 L153.18,432.44 L153.21,431.64 L153.23,430.84 L153.24,430.04 L153.26,429.24 L153.27,428.43 L153.29,427.62 L153.30,426.81 L153.31,426.00 L153.32,425.20 L153.33,424.39 L153.34,423.58 L153.35,422.77 L153.37,421.97 L153.38,421.16 L153.39,420.36 L153.41,419.56 L153.42,418.76 L153.44,417.96 L153.45,417.16 L153.47,416.36 L153.48,415.56 L153.49,414.76 L153.51,413.96 L153.52,413.16 L153.53,412.36 L153.55,411.56 L153.56,410.76 L153.57,409.96 L153.59,409.16 L153.60,408.36 L153.61,407.56 L153.62,406.75 L153.64,405.95 L153.65,405.15 L153.66,404.35 L153.67,403.55 L153.68,402.75 L153.69,401.95 L153.71,401.15 L153.72,400.35 L153.73,399.55 L153.74,398.75 L153.75,397.95 L153.76,397.15 L153.77,396.35 L153.78,395.55 L153.80,394.75 L153.81,393.95 L153.82,393.15 L153.83,392.35 L153.84,391.55 L153.85,390.75 L153.86,389.95 L153.87,389.15 L153.88,388.35 L153.89,387.55 L153.90,386.75 L153.92,385.95 L153.93,385.15 L153.94,384.35 L153.95,383.55 L153.96,382.75 L153.97,381.94 L153.98,381.14 L154.00,380.34 L154.01,379.54 L154.02,378.74 L154.03,377.94 L154.04,377.14 L154.05,376.34 L154.06,375.54 L154.08,374.74 L154.09,373.94 L154.10,373.14 L154.11,372.34 L154.12,371.54 L154.13,370.74 L154.14,369.94 L154.16,369.14 L154.17,368.34 L154.18,367.54 L154.19,366.74 L154.20,365.94 L154.21,365.14 L154.22,364.34 L154.23,363.54 L154.25,362.74 L154.26,361.94 L154.27,361.14 L154.28,360.34 L154.29,359.54 L154.30,358.74 L154.31,357.94 L154.32,357.14 L154.33,356.33 L154.35,355.53 L154.36,354.73 L154.37,353.93 L154.38,353.13 L154.39,352.33 L154.40,351.53 L154.41,350.73 L154.42,349.93 L154.43,349.13 L154.45,348.33 L154.46,347.53 L154.47,346.73 L154.48,345.93 L154.49,345.13 L154.50,344.33 L154.51,343.53 L154.52,342.73 L154.53,341.93 L154.55,341.13 L154.56,340.33 L154.57,339.53 L154.58,338.73 L154.59,337.93 L154.60,337.13 L154.61,336.33 L154.62,335.53 L154.63,334.73 L154.65,333.93 L154.66,333.13 L154.67,332.33 L154.68,331.53 L154.69,330.72 L154.70,329.92 L154.71,329.12 L154.72,328.32 L154.73,327.52 L154.75,326.72 L154.76,325.92 L154.77,325.12 L154.78,324.32 L154.79,323.52 L154.80,322.72 L154.81,321.92 L154.83,321.12 L154.84,320.32 L154.85,319.52 L154.86,318.72 L154.87,317.92 L154.88,317.12 L154.89,316.32 L154.91,315.52 L154.92,314.72 L154.93,313.92 L154.94,313.12 L154.95,312.32 L154.96,311.52 L154.97,310.72 L154.99,309.92 L155.00,309.12 L155.01,308.32 L155.02,307.52 L155.03,306.72 L155.04,305.91 L155.06,305.11 L155.07,304.31 L155.08,303.51 L155.09,302.71 L155.10,301.91 L155.11,301.11 L155.12,300.31 L155.13,299.51 L155.15,298.71 L155.16,297.91 L155.17,297.11 L155.18,296.31 L155.19,295.51 L155.20,294.71 L155.21,293.91 L155.22,293.11 L155.24,292.31 L155.25,291.51 L155.26,290.71 L155.27,289.91 L155.28,289.11 L155.29,288.31 L155.30,287.51 L155.31,286.71 L155.32,285.91 L155.33,285.11 L155.34,284.31 L155.35,283.51 L155.36,282.71 L155.38,281.91 L155.39,281.11 L155.40,280.30 L155.41,279.50 L155.42,278.70 L155.43,277.90 L155.44,277.10 L155.45,276.30 L155.46,275.50 L155.47,274.70 L155.48,273.90 L155.49,273.10 L155.50,272.30 L155.51,271.50 L155.52,270.70 L155.53,269.90 L155.54,269.10 L155.55,268.30 L155.56,267.50 L155.57,266.70 L155.58,265.90 L155.59,265.10 L155.60,264.30 L155.60,263.50 L155.61,262.70 L155.62,261.90 L155.63,261.10 L155.64,260.30 L155.65,259.50 L155.66,258.70 L155.67,257.90 L155.68,257.10 L155.69,256.29 L155.70,255.49 L155.71,254.69 L155.72,253.89 L155.73,253.09 L155.74,252.29 L155.75,251.49 L155.76,250.69 L155.77,249.89 L155.78,249.09 L155.78,248.29 L155.79,247.49 L155.80,246.69 L155.81,245.89 L155.82,245.09 L155.83,244.29 L155.84,243.49 L155.85,242.69 L155.86,241.89 L155.87,241.09 L155.88,240.29 L155.89,239.49 L155.90,238.69 L155.91,237.89 L155.92,237.09 L155.93,236.29 L155.93,235.49 L155.94,234.69 L155.95,233.89 L155.96,233.08 L155.97,232.28 L155.98,231.48 L155.99,230.68 L156.00,229.88 L156.01,229.08 L156.02,228.28 L156.03,227.48 L156.04,226.68 L156.05,225.88 L156.06,225.08 L156.07,224.28 L156.08,223.48 L156.09,222.68 L156.10,221.88 L156.10,221.08 L156.11,220.28 L156.12,219.48 L156.13,218.68 L156.14,217.88 L156.15,217.08 L156.16,216.28 L156.17,215.48 L156.18,214.68 L156.19,213.88 L156.20,213.08 L156.20,212.28 L156.21,211.48 L156.22,210.68 L156.23,209.88 L156.24,209.07 L156.25,208.27 L156.26,207.47 L156.27,206.67 L156.28,205.87 L156.29,205.07 L156.30,204.27 L156.31,203.47 L156.32,202.67 L156.32,201.87 L156.33,201.07 L156.34,200.27 L156.35,199.47 L156.36,198.67 L156.37,197.87 L156.38,197.07 L156.39,196.27 L156.40,195.47 L156.41,194.67 L156.42,193.87 L156.43,193.07 L156.44,192.27 L156.45,191.47 L156.46,190.67 L156.47,189.87 L156.48,189.07 L156.49,188.27 L156.50,187.47 L156.51,186.67 L156.52,185.86 L156.53,185.06 L156.54,184.26 L156.55,183.46 L156.56,182.66 L156.57,181.86 L156.59,181.06 L156.60,180.26 L156.61,179.46 L156.62,178.66 L156.63,177.86 L156.64,177.06 L156.65,176.26 L156.67,175.46 L156.68,174.66 L156.69,173.86 L156.70,173.06 L156.71,172.26 L156.73,171.46 L156.74,170.66 L156.75,169.86 L156.76,169.06 L156.78,168.26 L156.79,167.46 L156.80,166.66 L156.81,165.86 L156.83,165.06 L156.84,164.26 L156.85,163.46 L156.87,162.66 L156.88,161.86 L156.89,161.06 L156.91,160.26 L156.92,159.45 L156.93,158.65 L156.95,157.85 L156.96,157.05 L156.97,156.25 L156.99,155.45 L157.00,154.65 L157.01,153.85 L157.03,153.05 L157.04,152.25 L157.05,151.45 L157.07,150.65 L157.08,149.85 L157.10,149.05 L157.11,148.25 L157.12,147.45 L157.14,146.65 L157.15,145.85 L157.16,145.05 L157.18,144.25 L157.19,143.45 L157.21,142.65 L157.22,141.85 L157.23,141.05 L157.25,140.25 L157.26,139.45 L157.28,138.65 L157.29,137.85 L157.30,137.05 L157.32,136.25 L157.33,135.45 L157.35,134.65 L157.36,133.85 L157.37,133.05 L157.39,132.25 L157.40,131.45 L157.42,130.65 L157.43,129.84 L157.45,129.04 L157.46,128.24 L157.47,127.44 L157.49,126.64 L157.50,125.84 L157.52,125.04 L157.53,124.24 L157.55,123.44 L157.56,122.64 L157.58,121.84 L157.59,121.04 L157.61,120.24 L157.62,119.44 L157.64,118.64 L157.65,117.84 L157.67,117.04 L157.68,116.24 L157.70,115.44 L157.71,114.64 L157.73,113.84 L157.74,113.04 L157.76,112.24 L157.77,111.44 L157.79,110.64 L157.80,109.84 L157.82,109.04 L157.83,108.24 L157.85,107.44 L157.86,106.64 L157.88,105.84 L157.89,105.04 L157.91,104.24 L157.92,103.44 L157.94,102.64 L157.95,101.84 L157.97,101.04 L157.98,100.24 L158.00,99.43 L158.01,98.63 L158.03,97.83 L158.04,97.03 L158.06,96.23 L158.07,95.43 L158.09,94.63 L158.11,93.83 L158.12,93.03 L158.14,92.23 L158.16,91.43 L158.17,90.63 L158.19,89.83 L158.21,89.03 L158.22,88.23 L158.24,87.43 L158.26,86.63 L158.28,85.83 L158.30,85.03 L158.32,84.23 L158.34,83.43 L158.36,82.63 L158.38,81.83 L158.40,81.03 L158.42,80.23 L158.44,79.43 L158.46,78.63 L158.49,77.83 L158.51,77.03 L158.53,76.23 L158.56,75.43 L158.58,74.63 L158.60,73.83 L158.63,73.03 L158.66,72.23 L158.68,71.43 L158.71,70.63 L158.74,69.83 L158.76,69.03 L158.79,68.23 L158.82,67.43 L158.85,66.63 L158.88,65.83 L158.91,65.03 L158.93,64.23 L158.96,63.43 L159.00,62.63 L159.03,61.83 L159.07,61.03 L159.11,60.23 L159.15,59.43 L159.19,58.63 L159.24,57.83 L159.30,57.04 L159.36,56.23 L159.42,55.41 L159.50,54.58 L159.59,53.75 L159.70,52.94 L159.83,52.15 L159.98,51.39 L160.15,50.67 L160.42,49.95 L160.90,49.21 L161.50,48.59 L162.13,48.26 L162.85,48.06 L163.67,47.91 L164.52,47.82 L165.32,47.80 L166.12,47.81 L166.91,47.83 L167.71,47.85 L168.51,47.88 L169.31,47.92 L170.11,47.96 L170.91,48.00 L171.72,48.04 L172.52,48.09 L173.32,48.13 L174.12,48.16 L174.92,48.20 L175.72,48.23 L176.52,48.26 L177.32,48.29 L178.12,48.32 L178.92,48.35 L179.72,48.38 L180.52,48.41 L181.32,48.44 L182.12,48.47 L182.92,48.50 L183.72,48.53 L184.52,48.57 L185.32,48.60 L186.12,48.63 L186.92,48.66 L187.72,48.69 L188.52,48.72 L189.32,48.75 L190.12,48.78 L190.92,48.81 L191.72,48.84 L192.52,48.87 L193.32,48.90 L194.12,48.93 L194.92,48.96 L195.72,48.99 L196.52,49.02 L197.32,49.05 L198.12,49.07 L198.92,49.10 L199.72,49.13 L200.52,49.15 L201.32,49.18 L202.12,49.21 L202.92,49.23 L203.72,49.26 L204.52,49.28 L205.32,49.30 L206.12,49.33 L206.92,49.35 L207.72,49.37 L208.52,49.39 L209.32,49.41 L210.12,49.43 L210.92,49.45 L211.72,49.47 L212.52,49.49 L213.32,49.51 L214.12,49.52 L214.92,49.54 L215.72,49.56 L216.52,49.57 L217.32,49.59 L218.12,49.60 L218.92,49.62 L219.72,49.63 L220.52,49.65 L221.32,49.66 L222.12,49.67 L222.92,49.69 L223.72,49.70 L224.52,49.71 L225.32,49.72 L226.12,49.74 L226.92,49.75 L227.72,49.76 L228.52,49.77 L229.32,49.78 L230.12,49.80 L230.92,49.81 L231.72,49.82 L232.52,49.83 L233.32,49.84 L234.12,49.85 L234.92,49.86 L235.72,49.87 L236.53,49.88 L237.33,49.89 L238.13,49.90 L238.93,49.91 L239.73,49.92 L240.53,49.93 L241.33,49.94 L242.13,49.95 L242.93,49.96 L243.73,49.97 L244.53,49.98 L245.33,49.99 L246.13,50.00 L246.93,50.02 L247.73,50.03 L248.53,50.04 L249.33,50.05 L250.13,50.06 L250.93,50.07 L251.73,50.08 L252.53,50.09 L253.33,50.10 L254.13,50.11 L254.93,50.12 L255.73,50.13 L256.53,50.15 L257.33,50.16 L258.13,50.17 L258.94,50.18 L259.74,50.19 L260.54,50.21 L261.34,50.22 L262.14,50.23 L262.94,50.25 L263.74,50.26 L264.54,50.27 L265.34,50.29 L266.14,50.30 L266.94,50.32 L267.74,50.33 L268.54,50.35 L269.34,50.36 L270.14,50.38 L270.94,50.39 L271.74,50.41 L272.54,50.43 L273.34,50.44 L274.14,50.46 L274.94,50.48 L275.74,50.50 L276.54,50.51 L277.34,50.53 L278.14,50.55 L278.94,50.57 L279.74,50.58 L280.54,50.60 L281.34,50.62 L282.14,50.64 L282.94,50.66 L283.74,50.68 L284.54,50.70 L285.34,50.71 L286.14,50.73 L286.94,50.75 L287.74,50.77 L288.54,50.79 L289.34,50.81 L290.14,50.83 L290.94,50.85 L291.74,50.87 L292.54,50.89 L293.34,50.91 L294.14,50.93 L294.94,50.95 L295.74,50.97 L296.54,50.99 L297.35,51.01 L298.15,51.03 L298.95,51.05 L299.75,51.07 L300.55,51.09 L301.35,51.11 L302.15,51.13 L302.95,51.15 L303.75,51.16 L304.55,51.18 L305.35,51.20 L306.15,51.22 L306.95,51.24 L307.75,51.26 L308.55,51.28 L309.35,51.30 L310.15,51.32 L310.95,51.34 L311.75,51.36 L312.55,51.38 L313.35,51.39 L314.15,51.41 L314.95,51.43 L315.75,51.45 L316.55,51.47 L317.35,51.49 L318.15,51.50 L318.95,51.52 L319.75,51.54 L320.55,51.56 L321.35,51.57 L322.15,51.59 L322.95,51.61 L323.75,51.62 L324.55,51.64 L325.35,51.66 L326.15,51.67 L326.95,51.69 L327.75,51.71 L328.55,51.72 L329.35,51.74 L330.15,51.75 L330.95,51.77 L331.75,51.79 L332.55,51.80 L333.35,51.82 L334.15,51.83 L334.95,51.85 L335.75,51.87 L336.55,51.88 L337.36,51.90 L338.16,51.91 L338.96,51.93 L339.76,51.95 L340.56,51.96 L341.36,51.98 L342.16,51.99 L342.96,52.01 L343.76,52.02 L344.56,52.04 L345.36,52.06 L346.16,52.07 L346.96,52.09 L347.76,52.10 L348.56,52.12 L349.36,52.14 L350.16,52.15 L350.96,52.17 L351.76,52.19 L352.56,52.20 L353.36,52.22 L354.16,52.24 L354.96,52.25 L355.76,52.27 L356.56,52.29 L357.36,52.30 L358.16,52.32 L358.96,52.34 L359.76,52.36 L360.56,52.38 L361.36,52.39 L362.16,52.41 L362.96,52.43 L363.76,52.45 L364.56,52.47 L365.36,52.49 L366.16,52.51 L366.96,52.52 L367.76,52.54 L368.56,52.56 L369.36,52.58 L370.16,52.60 L370.96,52.62 L371.76,52.65 L372.56,52.67 L373.36,52.69 L374.16,52.71 L374.96,52.73 L375.76,52.76 L376.56,52.78 L377.36,52.80 L378.16,52.83 L378.96,52.85 L379.76,52.88 L380.56,52.90 L381.36,52.93 L382.16,52.95 L382.96,52.98 L383.76,53.00 L384.56,53.03 L385.36,53.06 L386.16,53.08 L386.96,53.11 L387.76,53.14 L388.56,53.16 L389.36,53.19 L390.16,53.22 L390.96,53.24 L391.76,53.27 L392.56,53.30 L393.36,53.33 L394.16,53.35 L394.96,53.38 L395.76,53.41 L396.56,53.44 L397.36,53.46 L398.16,53.49 L398.96,53.52 L399.76,53.55 L400.56,53.57 L401.36,53.60 L402.16,53.63 L402.96,53.65 L403.76,53.68 L404.56,53.71 L405.36,53.73 L406.16,53.76 L406.96,53.79 L407.76,53.81 L408.56,53.84 L409.36,53.86 L410.16,53.89 L410.96,53.91 L411.76,53.94 L412.56,53.96 L413.36,53.99 L414.16,54.01 L414.96,54.04 L415.76,54.06 L416.56,54.08 L417.36,54.10 L418.16,54.13 L418.96,54.15 L419.76,54.17 L420.56,54.19 L421.36,54.21 L422.16,54.23 L422.96,54.25 L423.76,54.27 L424.56,54.29 L425.36,54.31 L426.16,54.32 L426.96,54.34 L427.76,54.36 L428.56,54.38 L429.37,54.40 L430.17,54.41 L430.97,54.43 L431.77,54.45 L432.57,54.47 L433.37,54.48 L434.17,54.50 L434.97,54.52 L435.77,54.53 L436.57,54.55 L437.37,54.56 L438.17,54.58 L438.97,54.60 L439.77,54.61 L440.57,54.63 L441.37,54.64 L442.17,54.66 L442.97,54.67 L443.77,54.69 L444.57,54.70 L445.37,54.72 L446.17,54.74 L446.97,54.75 L447.77,54.77 L448.57,54.78 L449.37,54.80 L450.17,54.81 L450.97,54.83 L451.77,54.84 L452.57,54.86 L453.37,54.87 L454.17,54.89 L454.97,54.91 L455.77,54.92 L456.57,54.94 L457.37,54.95 L458.17,54.97 L458.97,54.99 L459.77,55.00 L460.57,55.02 L461.38,55.03 L462.18,55.05 L462.98,55.07 L463.78,55.09 L464.58,55.10 L465.38,55.12 L466.18,55.14 L466.98,55.16 L467.78,55.17 L468.58,55.19 L469.38,55.21 L470.18,55.23 L470.98,55.25 L471.78,55.27 L472.58,55.29 L473.38,55.31 L474.18,55.33 L474.98,55.35 L475.78,55.37 L476.58,55.39 L477.38,55.41 L478.18,55.44 L478.98,55.46 L479.78,55.48 L480.58,55.50 L481.38,55.52 L482.18,55.55 L482.98,55.57 L483.78,55.59 L484.58,55.62 L485.38,55.64 L486.18,55.66 L486.98,55.69 L487.78,55.71 L488.58,55.74 L489.38,55.76 L490.18,55.78 L490.98,55.81 L491.78,55.83 L492.58,55.86 L493.38,55.88 L494.18,55.91 L494.98,55.93 L495.78,55.96 L496.58,55.99 L497.38,56.01 L498.18,56.04 L498.98,56.06 L499.78,56.09 L500.58,56.11 L501.38,56.14 L502.18,56.17 L502.98,56.19 L503.78,56.22 L504.58,56.24 L505.38,56.27 L506.18,56.30 L506.98,56.32 L507.78,56.35 L508.58,56.37 L509.38,56.40 L510.18,56.43 L510.98,56.45 L511.78,56.48 L512.58,56.50 L513.38,56.53 L514.18,56.56 L514.98,56.58 L515.78,56.61 L516.58,56.63 L517.38,56.66 L518.18,56.69 L518.98,56.71 L519.78,56.74 L520.58,56.76 L521.38,56.79 L522.18,56.81 L522.98,56.84 L523.78,56.86 L524.58,56.89 L525.38,56.91 L526.18,56.94 L526.98,56.96 L527.78,56.99 L528.58,57.01 L529.38,57.03 L530.18,57.06 L530.98,57.08 L531.78,57.11 L532.58,57.13 L533.38,57.16 L534.18,57.18 L534.98,57.21 L535.78,57.23 L536.58,57.25 L537.38,57.28 L538.18,57.30 L538.98,57.33 L539.78,57.35 L540.58,57.38 L541.38,57.40 L542.18,57.43 L542.98,57.45 L543.78,57.47 L544.58,57.50 L545.38,57.52 L546.18,57.55 L546.98,57.57 L547.78,57.60 L548.58,57.62 L549.38,57.64 L550.18,57.67 L550.98,57.69 L551.78,57.72 L552.58,57.74 L553.38,57.77 L554.18,57.79 L554.98,57.82 L555.78,57.84 L556.58,57.86 L557.38,57.89 L558.18,57.91 L558.98,57.94 L559.78,57.96 L560.58,57.99 L561.38,58.01 L562.18,58.04 L562.98,58.06 L563.78,58.09 L564.58,58.11 L565.38,58.14 L566.18,58.16 L566.98,58.19 L567.78,58.21 L568.58,58.24 L569.38,58.26 L570.18,58.29 L570.98,58.31 L571.78,58.34 L572.58,58.36 L573.38,58.39 L574.18,58.41 L574.98,58.44 L575.78,58.46 L576.58,58.49 L577.38,58.51 L578.18,58.54 L578.98,58.56 L579.78,58.59 L580.58,58.61 L581.38,58.64 L582.18,58.67 L582.98,58.69 L583.78,58.72 L584.58,58.75 L585.38,58.77 L586.18,58.80 L586.98,58.83 L587.78,58.85 L588.58,58.88 L589.38,58.91 L590.18,58.93 L590.98,58.96 L591.78,58.99 L592.58,59.02 L593.38,59.04 L594.18,59.07 L594.98,59.10 L595.78,59.13 L596.58,59.15 L597.38,59.18 L598.18,59.21 L598.98,59.24 L599.78,59.26 L600.58,59.29 L601.38,59.32 L602.18,59.34 L602.98,59.37 L603.78,59.40 L604.58,59.43 L605.38,59.45 L606.18,59.48 L606.98,59.51 L607.78,59.53 L608.58,59.56 L609.38,59.59 L610.18,59.61 L610.98,59.64 L611.78,59.67 L612.58,59.69 L613.38,59.72 L614.18,59.75 L614.98,59.77 L615.78,59.80 L616.58,59.82 L617.38,59.85 L618.18,59.88 L618.98,59.90 L619.78,59.93 L620.58,59.95 L621.38,59.97 L622.18,60.00 L622.98,60.02 L623.78,60.05 L624.58,60.07 L625.38,60.10 L626.18,60.12 L626.98,60.14 L627.78,60.17 L628.58,60.19 L629.38,60.21 L630.18,60.23 L630.98,60.26 L631.78,60.28 L632.58,60.30 L633.38,60.32 L634.18,60.34 L634.98,60.36 L635.78,60.39 L636.58,60.41 L637.38,60.43 L638.18,60.45 L638.98,60.47 L639.78,60.49 L640.58,60.51 L641.38,60.53 L642.18,60.55 L642.98,60.57 L643.78,60.59 L644.58,60.61 L645.38,60.63 L646.18,60.65 L646.98,60.67 L647.78,60.69 L648.58,60.71 L649.38,60.73 L650.18,60.75 L650.98,60.77 L651.78,60.79 L652.58,60.81 L653.38,60.83 L654.18,60.85 L654.98,60.87 L655.78,60.89 L656.58,60.91 L657.38,60.93 L658.18,60.95 L658.98,60.97 L659.78,60.98 L660.58,61.00 L661.38,61.02 L662.18,61.04 L662.98,61.06 L663.78,61.08 L664.58,61.10 L665.38,61.12 L666.18,61.13 L666.98,61.15 L667.78,61.17 L668.58,61.19 L669.38,61.21 L670.18,61.23 L670.98,61.25 L671.79,61.27 L672.59,61.28 L673.39,61.30 L674.19,61.32 L674.99,61.34 L675.79,61.36 L676.59,61.38 L677.39,61.40 L678.19,61.42 L678.99,61.44 L679.79,61.45 L680.59,61.47 L681.39,61.49 L682.19,61.51 L682.99,61.53 L683.79,61.55 L684.59,61.57 L685.39,61.59 L686.19,61.61 L686.99,61.63 L687.79,61.65 L688.59,61.67 L689.39,61.69 L690.19,61.70 L690.99,61.72 L691.79,61.74 L692.59,61.76 L693.39,61.78 L694.19,61.80 L694.99,61.82 L695.79,61.84 L696.59,61.86 L697.39,61.88 L698.19,61.90 L698.99,61.92 L699.79,61.94 L700.59,61.95 L701.39,61.97 L702.19,61.99 L702.99,62.01 L703.79,62.03 L704.59,62.05 L705.39,62.07 L706.19,62.09 L706.99,62.10 L707.79,62.12 L708.59,62.14 L709.39,62.16 L710.19,62.18 L710.99,62.20 L711.79,62.22 L712.59,62.23 L713.39,62.25 L714.19,62.27 L714.99,62.29 L715.79,62.31 L716.59,62.33 L717.40,62.35 L718.20,62.37 L719.00,62.38 L719.80,62.40 L720.60,62.42 L721.40,62.44 L722.20,62.46 L723.00,62.48 L723.80,62.50 L724.60,62.52 L725.40,62.54 L726.20,62.56 L727.00,62.58 L727.80,62.60 L728.60,62.62 L729.40,62.64 L730.20,62.66 L731.00,62.68 L731.80,62.70 L732.60,62.72 L733.40,62.74 L734.20,62.76 L735.00,62.78 L735.80,62.80 L736.60,62.82 L737.40,62.84 L738.20,62.86 L739.00,62.88 L739.80,62.90 L740.60,62.92 L741.40,62.94 L742.20,62.97 L743.00,62.99 L743.80,63.01 L744.60,63.03 L745.40,63.05 L746.20,63.08 L747.00,63.10 L747.80,63.12 L748.60,63.15 L749.40,63.17 L750.20,63.20 L751.00,63.22 L751.80,63.25 L752.60,63.27 L753.40,63.30" fill="none" stroke="#ff0000" stroke-width="5.6" stroke-linecap="round" stroke-linejoin="round" stroke-dasharray="20.06 16.06 0.10 13.56 18.41 13.61 0.10 13.51 18.41 14.41 0.10 12.71 18.41 13.61 0.10 14.31 17.61 13.61 0.10 13.51 19.21 12.81 0.10 12.71 20.01 12.81 0.10 13.51 20.01 12.81 0.10 12.71 21.61 11.21 0.10 11.91 20.10 15.21 0.10 16.71 18.41 16.01 0.10 17.51 19.21 15.21 0.10 16.71 19.21 16.81 0.10 15.91 19.21 16.01 0.10 16.71 19.21 16.01 0.10 17.51 17.61 16.81 0.10 16.71 18.41 16.81 0.10 16.71 18.41 16.81 0.10 17.51 16.81 17.61 0.10 17.51 36.82 16.01 0.10 16.71 11.21 1218.43" stroke-dashoffset="-1.64"/>
</g>
<g clip-path="url(#cTR)">
<path d="M755.20,461.20 L755.21,460.39 L755.23,459.58 L755.27,458.77 L755.32,457.97 L755.39,457.17 L755.46,456.37 L755.54,455.58 L755.64,454.79 L755.73,454.00 L755.84,453.21 L755.94,452.42 L756.05,451.64 L756.19,450.83 L756.35,450.02 L756.54,449.21 L756.76,448.42 L757.01,447.66 L757.30,446.94 L757.62,446.28 L758.07,445.62 L758.65,444.99 L759.29,444.44 L759.95,444.03 L760.63,443.73 L761.36,443.48 L762.14,443.27 L762.94,443.08 L763.76,442.90 L764.56,442.72 L765.33,442.51 L766.11,442.28 L766.87,442.04 L767.64,441.80 L768.42,441.57 L769.19,441.36 L769.96,441.18 L770.75,441.04 L771.53,440.93 L772.32,440.83 L773.12,440.73 L773.91,440.64 L774.71,440.56 L775.52,440.49 L776.32,440.44 L777.12,440.41 L777.92,440.40 L778.72,440.40 L779.51,440.41 L780.31,440.43 L781.11,440.45 L781.91,440.47 L782.71,440.50 L783.51,440.53 L784.31,440.56 L785.11,440.59 L785.92,440.63 L786.72,440.66 L787.52,440.70 L788.32,440.73 L789.12,440.77 L789.92,440.80 L790.72,440.83 L791.52,440.87 L792.31,440.91 L793.11,440.95 L793.91,441.00 L794.71,441.05 L795.51,441.10 L796.31,441.14 L797.11,441.18 L797.91,441.22 L798.71,441.25 L799.51,441.28 L800.31,441.29 L801.11,441.30 L801.91,441.30 L802.71,441.29 L803.51,441.29 L804.31,441.28 L805.11,441.26 L805.91,441.25 L806.71,441.23 L807.51,441.21 L808.31,441.18 L809.11,441.16 L809.91,441.14 L810.71,441.11 L811.51,441.08 L812.31,441.05 L813.11,441.03 L813.91,441.00 L814.71,440.97 L815.51,440.94 L816.31,440.91 L817.11,440.89 L817.91,440.86 L818.71,440.84 L819.51,440.81 L820.31,440.79 L821.11,440.77 L821.91,440.75 L822.71,440.73 L823.51,440.71 L824.31,440.68 L825.11,440.66 L825.91,440.64 L826.71,440.62 L827.51,440.59 L828.31,440.57 L829.11,440.55 L829.91,440.53 L830.71,440.51 L831.51,440.49 L832.31,440.47 L833.11,440.45 L833.91,440.43 L834.71,440.42 L835.51,440.40 L836.31,440.38 L837.11,440.37 L837.91,440.35 L838.71,440.34 L839.51,440.32 L840.31,440.31 L841.11,440.29 L841.92,440.28 L842.72,440.26 L843.52,440.25 L844.32,440.23 L845.12,440.22 L845.92,440.21 L846.72,440.19 L847.52,440.18 L848.32,440.17 L849.12,440.16 L849.92,440.14 L850.72,440.13 L851.52,440.12 L852.32,440.11 L853.12,440.09 L853.92,440.08 L854.72,440.07 L855.52,440.06 L856.32,440.05 L857.12,440.04 L857.92,440.03 L858.72,440.02 L859.52,440.01 L860.32,440.00 L861.12,439.99 L861.92,439.98 L862.72,439.97 L863.52,439.96 L864.32,439.95 L865.12,439.95 L865.92,439.94 L866.72,439.93 L867.53,439.93 L868.33,439.92 L869.13,439.91 L869.93,439.91 L870.73,439.90 L871.53,439.89 L872.33,439.88 L873.13,439.87 L873.93,439.87 L874.73,439.86 L875.53,439.84 L876.33,439.83 L877.13,439.82 L877.93,439.81 L878.73,439.79 L879.53,439.77 L880.33,439.74 L881.13,439.72 L881.93,439.68 L882.73,439.65 L883.53,439.61 L884.33,439.57 L885.13,439.52 L885.93,439.47 L886.73,439.42 L887.53,439.37 L888.32,439.32 L889.12,439.26 L889.92,439.21 L890.72,439.15 L891.51,439.08 L892.31,439.00 L893.11,438.93 L893.90,438.84 L894.70,438.75 L895.50,438.65 L896.29,438.55 L897.08,438.44 L897.88,438.34 L898.67,438.22 L899.46,438.11 L900.25,437.98 L901.04,437.85 L901.83,437.71 L902.62,437.56 L903.41,437.40 L904.19,437.23 L904.97,437.06 L905.74,436.87 L906.51,436.66 L907.27,436.43 L908.03,436.18 L908.79,435.91 L909.54,435.63 L910.29,435.34 L911.04,435.04 L911.78,434.74 L912.53,434.45 L913.27,434.15 L914.01,433.85 L914.75,433.54 L915.48,433.22 L916.21,432.90 L916.95,432.58 L917.68,432.25 L918.41,431.92 L919.14,431.59 L919.87,431.26 L920.60,430.93 L921.33,430.60 L922.06,430.27 L922.79,429.95 L923.51,429.61 L924.24,429.28 L924.97,428.95 L925.70,428.61 L926.42,428.27 L927.15,427.94 L927.87,427.60 L928.60,427.27 L929.33,426.93 L930.06,426.60 L930.78,426.27 L931.51,425.94 L932.24,425.61 L932.97,425.28 L933.70,424.95 L934.43,424.62 L935.16,424.28 L935.89,423.95 L936.62,423.63 L937.36,423.30 L938.09,422.98 L938.83,422.67 L939.57,422.37 L940.31,422.07 L941.05,421.78 L941.80,421.50 L942.55,421.22 L943.30,420.95 L944.06,420.68 L944.81,420.42 L945.57,420.16 L946.33,419.90 L947.09,419.65 L947.86,419.41 L948.62,419.17 L949.38,418.93 L950.15,418.70 L950.91,418.47 L951.68,418.23 L952.45,418.00 L953.22,417.76 L953.99,417.53 L954.76,417.30 L955.53,417.08 L956.30,416.87 L957.08,416.68 L957.86,416.51 L958.64,416.36 L959.43,416.23 L960.21,416.10 L961.00,415.98 L961.80,415.86 L962.59,415.74 L963.39,415.63 L964.19,415.53 L964.99,415.45 L965.79,415.38 L966.58,415.33 L967.38,415.31 L968.18,415.30 L968.98,415.31 L969.78,415.34 L970.58,415.38 L971.38,415.43 L972.17,415.49 L972.97,415.55 L973.77,415.62 L974.57,415.69 L975.37,415.75 L976.17,415.81 L976.97,415.88 L977.76,415.97 L978.56,416.06 L979.35,416.16 L980.15,416.25 L980.95,416.35 L981.74,416.44 L982.54,416.53 L983.33,416.60 L984.13,416.66 L984.93,416.70 L985.73,416.72 L986.53,416.75 L987.33,416.77 L988.13,416.80 L988.93,416.82 L989.73,416.84 L990.53,416.85 L991.33,416.87 L992.13,416.88 L992.93,416.89 L993.73,416.90 L994.53,416.90 L995.33,416.90 L996.13,416.90 L996.93,416.89 L997.73,416.88 L998.53,416.87 L999.33,416.86 L1000.13,416.85 L1000.93,416.83 L1001.74,416.82 L1002.54,416.80 L1003.34,416.78 L1004.14,416.76 L1004.94,416.74 L1005.74,416.72 L1006.53,416.70 L1007.33,416.67 L1008.13,416.63 L1008.93,416.59 L1009.73,416.54 L1010.53,416.49 L1011.33,416.43 L1012.13,416.37 L1012.92,416.31 L1013.72,416.25 L1014.52,416.18 L1015.32,416.12 L1016.12,416.06 L1016.92,416.00 L1017.71,415.94 L1018.51,415.89 L1019.31,415.84 L1020.11,415.79 L1020.91,415.75 L1021.71,415.71 L1022.51,415.66 L1023.31,415.62 L1024.11,415.57 L1024.91,415.53 L1025.71,415.49 L1026.51,415.45 L1027.31,415.41 L1028.11,415.38 L1028.91,415.35 L1029.71,415.33 L1030.51,415.31 L1031.31,415.30 L1032.11,415.30 L1032.90,415.31 L1033.70,415.35 L1034.50,415.39 L1035.30,415.46 L1036.10,415.53 L1036.90,415.61 L1037.69,415.70 L1038.49,415.80 L1039.29,415.89 L1040.08,415.99 L1040.88,416.09 L1041.67,416.18 L1042.46,416.29 L1043.25,416.40 L1044.04,416.52 L1044.83,416.65 L1045.62,416.79 L1046.41,416.93 L1047.20,417.06 L1047.99,417.20 L1048.78,417.34 L1049.57,417.48 L1050.36,417.62 L1051.14,417.76 L1051.93,417.91 L1052.72,418.05 L1053.50,418.20 L1054.29,418.35 L1055.08,418.50 L1055.86,418.66 L1056.65,418.81 L1057.43,418.97 L1058.22,419.13 L1059.00,419.29 L1059.78,419.45 L1060.57,419.62 L1061.35,419.79 L1062.13,419.97 L1062.91,420.15 L1063.69,420.34 L1064.47,420.53 L1065.24,420.71 L1066.02,420.90 L1066.80,421.09 L1067.58,421.27 L1068.36,421.45 L1069.14,421.62 L1069.92,421.78 L1070.71,421.94 L1071.49,422.09 L1072.28,422.24 L1073.07,422.38 L1073.86,422.52 L1074.65,422.66 L1075.44,422.80 L1076.23,422.93 L1077.01,423.07 L1077.80,423.21 L1078.59,423.35 L1079.38,423.50 L1080.16,423.65 L1080.95,423.81 L1081.73,423.97 L1082.51,424.14 L1083.29,424.32 L1084.07,424.50 L1084.85,424.69 L1085.62,424.88 L1086.40,425.07 L1087.17,425.27 L1087.95,425.47 L1088.72,425.67 L1089.50,425.88 L1090.27,426.08 L1091.05,426.29 L1091.82,426.49 L1092.60,426.69 L1093.37,426.89 L1094.15,427.09 L1094.92,427.29 L1095.70,427.49 L1096.48,427.68 L1097.26,427.86 L1098.03,428.05 L1098.81,428.25 L1099.59,428.45 L1100.37,428.66 L1101.15,428.87 L1101.92,429.08 L1102.70,429.29 L1103.48,429.50 L1104.26,429.71 L1105.04,429.91 L1105.81,430.11 L1106.59,430.30 L1107.37,430.48 L1108.16,430.66 L1108.94,430.82 L1109.72,430.98 L1110.51,431.12 L1111.29,431.24 L1112.08,431.35 L1112.87,431.45 L1113.66,431.52 L1114.45,431.60 L1115.24,431.67 L1116.03,431.74 L1116.83,431.80 L1117.63,431.87 L1118.43,431.93 L1119.22,431.99 L1120.02,432.05 L1120.83,432.10 L1121.63,432.16 L1122.43,432.20 L1123.23,432.24 L1124.03,432.28 L1124.83,432.32 L1125.64,432.34 L1126.44,432.37 L1127.24,432.38 L1128.04,432.40 L1128.84,432.40 L1129.64,432.40 L1130.44,432.40 L1131.24,432.40 L1132.04,432.40 L1132.84,432.39 L1133.64,432.39 L1134.44,432.39 L1135.24,432.38 L1136.04,432.38 L1136.84,432.38 L1137.64,432.37 L1138.45,432.37 L1139.25,432.36 L1140.05,432.35 L1140.85,432.35 L1141.65,432.34 L1142.45,432.33 L1143.25,432.32 L1144.05,432.32 L1144.85,432.31 L1145.65,432.30 L1146.45,432.28 L1147.25,432.26 L1148.05,432.23 L1148.84,432.19 L1149.64,432.14 L1150.44,432.09 L1151.24,432.04 L1152.04,431.98 L1152.84,431.92 L1153.64,431.86 L1154.44,431.79 L1155.23,431.73 L1156.03,431.66 L1156.83,431.59 L1157.63,431.53 L1158.43,431.47 L1159.22,431.40 L1160.02,431.34 L1160.82,431.27 L1161.62,431.20 L1162.42,431.13 L1163.21,431.06 L1164.01,430.99 L1164.81,430.91 L1165.61,430.83 L1166.40,430.75 L1167.20,430.66 L1167.99,430.57 L1168.79,430.48 L1169.58,430.39 L1170.38,430.29 L1171.17,430.19 L1171.96,430.08 L1172.75,429.97 L1173.54,429.84 L1174.33,429.71 L1175.11,429.57 L1175.90,429.42 L1176.69,429.28 L1177.47,429.12 L1178.26,428.96 L1179.05,428.81 L1179.83,428.64 L1180.62,428.48 L1181.40,428.32 L1182.19,428.16 L1182.97,428.00 L1183.76,427.84 L1184.54,427.69 L1185.33,427.54 L1186.11,427.39 L1186.90,427.23 L1187.68,427.08 L1188.47,426.92 L1189.26,426.76 L1190.04,426.61 L1190.82,426.45 L1191.61,426.29 L1192.39,426.13 L1193.18,425.98 L1193.97,425.82 L1194.75,425.67 L1195.54,425.52 L1196.32,425.37 L1197.11,425.22 L1197.90,425.08 L1198.68,424.94 L1199.47,424.80 L1200.26,424.66 L1201.05,424.53 L1201.84,424.39 L1202.63,424.26 L1203.42,424.13 L1204.21,423.99 L1205.00,423.86 L1205.79,423.74 L1206.58,423.61 L1207.37,423.49 L1208.16,423.36 L1208.95,423.24 L1209.74,423.13 L1210.53,423.01 L1211.33,422.90 L1212.12,422.78 L1212.91,422.68 L1213.70,422.57 L1214.50,422.47 L1215.29,422.37 L1216.09,422.28 L1216.88,422.19 L1217.68,422.10 L1218.47,422.01 L1219.27,421.92 L1220.07,421.82 L1220.86,421.73 L1221.66,421.64 L1222.45,421.55 L1223.25,421.45 L1224.04,421.35 L1224.83,421.25 L1225.63,421.14 L1226.42,421.03 L1227.21,420.91 L1228.00,420.78 L1228.79,420.65 L1229.58,420.52 L1230.36,420.38 L1231.15,420.23 L1231.94,420.09 L1232.73,419.94 L1233.51,419.79 L1234.30,419.64 L1235.09,419.49 L1235.87,419.35 L1236.66,419.20 L1237.45,419.06 L1238.24,418.93 L1239.03,418.80 L1239.82,418.66 L1240.61,418.52 L1241.40,418.38 L1242.19,418.23 L1242.98,418.08 L1243.77,417.93 L1244.56,417.78 L1245.35,417.64 L1246.14,417.50 L1246.93,417.37 L1247.72,417.25 L1248.51,417.13 L1249.31,417.04 L1250.10,416.95 L1250.89,416.88 L1251.69,416.83 L1252.48,416.79 L1253.28,416.77 L1254.08,416.74 L1254.87,416.72 L1255.67,416.69 L1256.47,416.67 L1257.27,416.65 L1258.07,416.63 L1258.87,416.61 L1259.67,416.59 L1260.48,416.58 L1261.28,416.56 L1262.08,416.55 L1262.88,416.54 L1263.68,416.53 L1264.48,416.52 L1265.29,416.51 L1266.09,416.51 L1266.89,416.50 L1267.69,416.50 L1268.49,416.50 L1269.29,416.50 L1270.09,416.50 L1270.89,416.51 L1271.69,416.51 L1272.49,416.52 L1273.29,416.53 L1274.09,416.53 L1274.89,416.54 L1275.69,416.55 L1276.49,416.56 L1277.29,416.57 L1278.09,416.58 L1278.89,416.60 L1279.69,416.61 L1280.50,416.63 L1281.30,416.64 L1282.10,416.66 L1282.89,416.67 L1283.69,416.69 L1284.49,416.70 L1285.29,416.73 L1286.09,416.75 L1286.89,416.79 L1287.69,416.82 L1288.49,416.87 L1289.29,416.91 L1290.09,416.96 L1290.89,417.02 L1291.69,417.07 L1292.49,417.13 L1293.29,417.20 L1294.09,417.26 L1294.88,417.33 L1295.68,417.40 L1296.48,417.47 L1297.27,417.54 L1298.07,417.61 L1298.87,417.68 L1299.66,417.76 L1300.46,417.85 L1301.25,417.94 L1302.04,418.04 L1302.84,418.15 L1303.63,418.26 L1304.42,418.37 L1305.22,418.48 L1306.01,418.60 L1306.80,418.72 L1307.59,418.83 L1308.39,418.95 L1309.18,419.07 L1309.97,419.19 L1310.76,419.31 L1311.56,419.42 L1312.35,419.54 L1313.14,419.65 L1313.93,419.77 L1314.72,419.90 L1315.51,420.03 L1316.30,420.15 L1317.09,420.29 L1317.89,420.41 L1318.68,420.54 L1319.47,420.67 L1320.26,420.79 L1321.05,420.91 L1321.84,421.02 L1322.63,421.13 L1323.43,421.23 L1324.22,421.32 L1325.02,421.40 L1325.81,421.48 L1326.61,421.56 L1327.40,421.64 L1328.20,421.71 L1329.00,421.79 L1329.80,421.87 L1330.60,421.94 L1331.39,422.01 L1332.19,422.07 L1332.99,422.13 L1333.79,422.18 L1334.59,422.22 L1335.39,422.25 L1336.19,422.28 L1336.99,422.30 L1337.79,422.30 L1338.59,422.30 L1339.39,422.30 L1340.19,422.30 L1340.99,422.30 L1341.79,422.30 L1342.59,422.30 L1343.39,422.30 L1344.19,422.30 L1344.99,422.30 L1345.79,422.30 L1346.60,422.30 L1347.40,422.30 L1348.20,422.30 L1349.00,422.30 L1349.80,422.29 L1350.60,422.28 L1351.40,422.25 L1352.20,422.22 L1353.00,422.18 L1353.80,422.13 L1354.60,422.07 L1355.40,422.01 L1356.19,421.95 L1356.99,421.88 L1357.79,421.81 L1358.59,421.74 L1359.38,421.67 L1360.18,421.59 L1360.97,421.50 L1361.77,421.40 L1362.56,421.29 L1363.35,421.16 L1364.14,421.03 L1364.94,420.89 L1365.72,420.75 L1366.51,420.60 L1367.29,420.44 L1368.07,420.28 L1368.85,420.11 L1369.63,419.93 L1370.40,419.73 L1371.17,419.52 L1371.94,419.29 L1372.71,419.06 L1373.48,418.81 L1374.24,418.56 L1375.00,418.30" fill="none" stroke="#000" stroke-width="5.6" stroke-linecap="round" stroke-linejoin="round"/>
<path d="M755.20,461.20 L755.21,460.39 L755.23,459.58 L755.27,458.78 L755.32,457.97 L755.39,457.17 L755.46,456.37 L755.54,455.58 L755.64,454.79 L755.73,454.00 L755.84,453.21 L755.94,452.42 L756.05,451.64 L756.19,450.83 L756.35,450.02 L756.54,449.21 L756.76,448.42 L757.01,447.66 L757.30,446.94 L757.62,446.28 L758.07,445.62 L758.65,445.00 L759.29,444.45 L759.95,444.03 L760.62,443.73 L761.36,443.48 L762.13,443.26 L762.94,443.07 L763.75,442.89 L764.55,442.71 L765.33,442.52 L766.12,442.34 L766.91,442.18 L767.70,442.02 L768.49,441.86 L769.27,441.68 L770.04,441.49 L770.80,441.27 L771.59,441.00 L772.49,440.69 L773.34,440.33 L774.00,439.92 L774.31,439.46 L774.43,438.92 L774.52,438.29 L774.61,437.58 L774.68,436.81 L774.75,435.98 L774.80,435.11 L774.85,434.22 L774.88,433.32 L774.92,432.41 L774.95,431.53 L774.98,430.67 L775.01,429.85 L775.03,429.06 L775.06,428.26 L775.08,427.46 L775.11,426.66 L775.13,425.86 L775.15,425.06 L775.17,424.26 L775.19,423.46 L775.21,422.66 L775.23,421.86 L775.25,421.06 L775.27,420.26 L775.28,419.46 L775.30,418.66 L775.32,417.86 L775.33,417.06 L775.35,416.26 L775.36,415.46 L775.37,414.66 L775.39,413.86 L775.40,413.06 L775.41,412.26 L775.43,411.46 L775.44,410.66 L775.45,409.86 L775.46,409.06 L775.47,408.26 L775.49,407.46 L775.50,406.66 L775.51,405.86 L775.52,405.06 L775.53,404.26 L775.55,403.45 L775.56,402.65 L775.57,401.85 L775.58,401.05 L775.60,400.25 L775.61,399.45 L775.62,398.65 L775.64,397.85 L775.65,397.05 L775.66,396.25 L775.67,395.45 L775.69,394.65 L775.70,393.85 L775.71,393.05 L775.72,392.25 L775.74,391.45 L775.75,390.65 L775.76,389.85 L775.77,389.05 L775.78,388.25 L775.79,387.45 L775.81,386.65 L775.82,385.85 L775.83,385.05 L775.84,384.25 L775.85,383.45 L775.86,382.65 L775.87,381.85 L775.89,381.05 L775.90,380.25 L775.91,379.45 L775.92,378.65 L775.93,377.85 L775.94,377.05 L775.95,376.25 L775.96,375.45 L775.97,374.65 L775.98,373.85 L775.99,373.05 L776.00,372.25 L776.01,371.45 L776.02,370.65 L776.03,369.85 L776.05,369.05 L776.06,368.25 L776.07,367.45 L776.08,366.65 L776.09,365.85 L776.10,365.05 L776.11,364.25 L776.12,363.45 L776.13,362.65 L776.14,361.85 L776.15,361.05 L776.16,360.25 L776.17,359.45 L776.18,358.65 L776.19,357.85 L776.20,357.05 L776.21,356.25 L776.23,355.45 L776.24,354.65 L776.25,353.85 L776.26,353.05 L776.27,352.25 L776.28,351.45 L776.29,350.65 L776.30,349.85 L776.31,349.05 L776.32,348.25 L776.34,347.45 L776.35,346.65 L776.36,345.85 L776.37,345.05 L776.38,344.25 L776.39,343.45 L776.40,342.65 L776.41,341.85 L776.43,341.05 L776.44,340.25 L776.45,339.45 L776.46,338.65 L776.47,337.85 L776.48,337.05 L776.49,336.25 L776.50,335.45 L776.51,334.65 L776.53,333.85 L776.54,333.05 L776.55,332.25 L776.56,331.45 L776.57,330.65 L776.58,329.85 L776.59,329.05 L776.60,328.25 L776.62,327.45 L776.63,326.65 L776.64,325.85 L776.65,325.05 L776.66,324.25 L776.67,323.45 L776.68,322.65 L776.69,321.85 L776.71,321.05 L776.72,320.25 L776.73,319.45 L776.74,318.65 L776.75,317.85 L776.76,317.05 L776.77,316.25 L776.78,315.45 L776.79,314.65 L776.81,313.85 L776.82,313.05 L776.83,312.25 L776.84,311.45 L776.85,310.65 L776.86,309.85 L776.87,309.05 L776.88,308.25 L776.90,307.45 L776.91,306.65 L776.92,305.84 L776.93,305.04 L776.94,304.24 L776.95,303.44 L776.96,302.64 L776.97,301.84 L776.99,301.04 L777.00,300.24 L777.01,299.44 L777.02,298.64 L777.03,297.84 L777.04,297.04 L777.05,296.24 L777.06,295.44 L777.08,294.64 L777.09,293.84 L777.10,293.04 L777.11,292.24 L777.12,291.44 L777.13,290.64 L777.14,289.84 L777.16,289.04 L777.17,288.24 L777.18,287.44 L777.19,286.64 L777.20,285.84 L777.21,285.04 L777.22,284.24 L777.24,283.44 L777.25,282.64 L777.26,281.84 L777.27,281.04 L777.28,280.24 L777.29,279.44 L777.30,278.64 L777.32,277.84 L777.33,277.04 L777.34,276.24 L777.35,275.44 L777.36,274.64 L777.37,273.84 L777.38,273.04 L777.40,272.24 L777.41,271.44 L777.42,270.64 L777.43,269.84 L777.44,269.04 L777.45,268.24 L777.46,267.44 L777.47,266.64 L777.49,265.84 L777.50,265.04 L777.51,264.24 L777.52,263.44 L777.53,262.64 L777.54,261.84 L777.55,261.04 L777.56,260.24 L777.57,259.44 L777.59,258.64 L777.60,257.84 L777.61,257.04 L777.62,256.24 L777.63,255.44 L777.64,254.64 L777.65,253.84 L777.66,253.04 L777.67,252.24 L777.68,251.44 L777.69,250.64 L777.70,249.84 L777.71,249.04 L777.72,248.24 L777.73,247.44 L777.74,246.64 L777.75,245.84 L777.76,245.04 L777.77,244.24 L777.78,243.44 L777.79,242.64 L777.80,241.84 L777.81,241.04 L777.82,240.24 L777.83,239.44 L777.84,238.64 L777.85,237.84 L777.86,237.04 L777.87,236.24 L777.88,235.44 L777.89,234.64 L777.90,233.84 L777.91,233.04 L777.92,232.24 L777.93,231.44 L777.94,230.64 L777.95,229.84 L777.96,229.04 L777.97,228.24 L777.98,227.44 L777.99,226.64 L778.00,225.84 L778.01,225.04 L778.01,224.24 L778.02,223.44 L778.03,222.64 L778.04,221.84 L778.05,221.04 L778.06,220.24 L778.07,219.44 L778.08,218.64 L778.09,217.84 L778.10,217.04 L778.11,216.24 L778.12,215.44 L778.13,214.64 L778.14,213.84 L778.15,213.03 L778.16,212.23 L778.16,211.43 L778.17,210.63 L778.18,209.83 L778.19,209.03 L778.20,208.23 L778.21,207.43 L778.22,206.63 L778.23,205.83 L778.24,205.03 L778.25,204.23 L778.26,203.43 L778.27,202.63 L778.28,201.83 L778.29,201.03 L778.30,200.23 L778.31,199.43 L778.32,198.63 L778.33,197.83 L778.34,197.03 L778.34,196.23 L778.35,195.43 L778.36,194.63 L778.37,193.83 L778.38,193.03 L778.39,192.23 L778.40,191.43 L778.41,190.63 L778.42,189.83 L778.43,189.03 L778.44,188.23 L778.45,187.43 L778.46,186.63 L778.47,185.83 L778.48,185.03 L778.48,184.23 L778.49,183.43 L778.50,182.63 L778.51,181.83 L778.52,181.03 L778.53,180.23 L778.54,179.43 L778.55,178.63 L778.56,177.83 L778.57,177.03 L778.58,176.23 L778.59,175.43 L778.60,174.63 L778.60,173.83 L778.61,173.03 L778.62,172.23 L778.63,171.43 L778.64,170.63 L778.65,169.83 L778.66,169.03 L778.67,168.23 L778.68,167.43 L778.69,166.63 L778.70,165.83 L778.71,165.03 L778.72,164.23 L778.73,163.43 L778.74,162.63 L778.75,161.83 L778.76,161.03 L778.77,160.23 L778.78,159.43 L778.79,158.63 L778.80,157.83 L778.81,157.03 L778.82,156.23 L778.83,155.43 L778.84,154.63 L778.85,153.83 L778.86,153.03 L778.87,152.23 L778.88,151.43 L778.89,150.63 L778.90,149.83 L778.91,149.03 L778.92,148.23 L778.93,147.43 L778.95,146.63 L778.96,145.83 L778.97,145.03 L778.98,144.23 L778.99,143.43 L779.00,142.63 L779.01,141.83 L779.02,141.03 L779.03,140.23 L779.04,139.43 L779.05,138.63 L779.06,137.83 L779.07,137.03 L779.09,136.23 L779.10,135.43 L779.11,134.63 L779.12,133.83 L779.13,133.03 L779.14,132.23 L779.15,131.43 L779.16,130.62 L779.18,129.82 L779.19,129.02 L779.20,128.22 L779.21,127.42 L779.22,126.62 L779.23,125.82 L779.25,125.02 L779.26,124.22 L779.27,123.42 L779.28,122.62 L779.30,121.82 L779.31,121.02 L779.32,120.22 L779.34,119.42 L779.35,118.62 L779.36,117.82 L779.37,117.02 L779.39,116.22 L779.40,115.42 L779.42,114.62 L779.43,113.82 L779.44,113.02 L779.46,112.22 L779.47,111.42 L779.49,110.62 L779.50,109.82 L779.52,109.02 L779.53,108.22 L779.55,107.42 L779.57,106.62 L779.58,105.82 L779.60,105.02 L779.61,104.22 L779.63,103.42 L779.65,102.62 L779.67,101.82 L779.68,101.02 L779.70,100.22 L779.72,99.42 L779.74,98.62 L779.76,97.82 L779.78,97.02 L779.80,96.22 L779.82,95.42 L779.84,94.62 L779.86,93.82 L779.88,93.02 L779.90,92.22 L779.92,91.42 L779.94,90.62 L779.96,89.82 L779.98,89.03 L780.01,88.23 L780.03,87.43 L780.05,86.63 L780.08,85.83 L780.10,85.03 L780.12,84.23 L780.15,83.43 L780.17,82.63 L780.20,81.83 L780.23,81.03 L780.25,80.23 L780.28,79.43 L780.31,78.63 L780.34,77.83 L780.37,77.03 L780.40,76.23 L780.43,75.43 L780.46,74.63 L780.49,73.83 L780.52,73.03 L780.56,72.23 L780.59,71.43 L780.63,70.63 L780.66,69.83 L780.70,69.03 L780.73,68.23 L780.77,67.43 L780.80,66.63 L780.84,65.83 L780.87,65.03 L780.91,64.23 L780.95,63.43 L780.99,62.62 L781.03,61.82 L781.08,61.02 L781.13,60.23 L781.19,59.43 L781.25,58.63 L781.32,57.84 L781.39,57.05 L781.48,56.24 L781.59,55.41 L781.72,54.56 L781.88,53.73 L782.08,52.94 L782.31,52.21 L782.57,51.56 L783.01,50.92 L783.69,50.31 L784.42,50.00 L785.09,50.14 L785.80,50.56 L786.50,51.10 L787.14,51.61 L787.75,52.12 L788.34,52.67 L788.90,53.25 L789.45,53.85 L789.96,54.46 L790.46,55.07 L790.93,55.71 L791.39,56.36 L791.84,57.03 L792.27,57.71 L792.70,58.39 L793.12,59.08 L793.54,59.76 L793.96,60.44 L794.38,61.12 L794.80,61.81 L795.21,62.49 L795.62,63.18 L796.02,63.87 L796.42,64.56 L796.82,65.26 L797.21,65.95 L797.60,66.65 L798.00,67.35 L798.39,68.05 L798.77,68.75 L799.16,69.45 L799.55,70.15 L799.94,70.85 L800.33,71.55 L800.72,72.25 L801.11,72.95 L801.51,73.64 L801.91,74.34 L802.30,75.03 L802.70,75.73 L803.10,76.42 L803.49,77.12 L803.88,77.82 L804.27,78.52 L804.67,79.22 L805.06,79.91 L805.45,80.61 L805.84,81.31 L806.24,82.01 L806.64,82.70 L807.04,83.40 L807.44,84.09 L807.84,84.78 L808.25,85.46 L808.66,86.15 L809.08,86.83 L809.50,87.51 L809.93,88.19 L810.36,88.86 L810.79,89.53 L811.23,90.20 L811.67,90.87 L812.12,91.53 L812.57,92.20 L813.02,92.86 L813.48,93.52 L813.94,94.17 L814.40,94.83 L814.87,95.48 L815.34,96.12 L815.82,96.76 L816.30,97.40 L816.79,98.03 L817.28,98.66 L817.79,99.28 L818.31,99.88 L818.84,100.49 L819.37,101.08 L819.91,101.68 L820.45,102.27 L820.99,102.86 L821.53,103.45 L822.06,104.05 L822.59,104.66 L823.11,105.27 L823.61,105.89 L824.09,106.53 L824.56,107.19 L825.00,107.88 L825.44,108.58 L825.88,109.27 L826.33,109.94 L826.80,110.59 L827.30,111.19 L827.83,111.73 L828.40,112.23 L829.02,112.70 L829.68,113.15 L830.36,113.58 L831.07,113.99 L831.79,114.38 L832.52,114.76 L833.25,115.13 L833.97,115.48 L834.68,115.84 L835.40,116.20 L836.13,116.55 L836.87,116.88 L837.62,117.17 L838.37,117.43 L839.13,117.63 L839.91,117.82 L840.69,118.00 L841.49,118.16 L842.29,118.31 L843.09,118.44 L843.89,118.53 L844.68,118.59 L845.45,118.59 L846.23,118.49 L847.02,118.29 L847.79,118.01 L848.55,117.69 L849.29,117.34 L850.00,117.00 L850.68,116.63 L851.34,116.20 L851.99,115.71 L852.62,115.20 L853.23,114.65 L853.84,114.11 L854.43,113.57 L855.01,113.03 L855.58,112.48 L856.14,111.91 L856.69,111.33 L857.24,110.75 L857.77,110.15 L858.31,109.55 L858.83,108.95 L859.36,108.34 L859.88,107.73 L860.41,107.12 L860.93,106.51 L861.46,105.90 L861.99,105.31 L862.53,104.71 L863.07,104.12 L863.61,103.53 L864.15,102.93 L864.68,102.34 L865.22,101.75 L865.76,101.15 L866.29,100.55 L866.82,99.95 L867.35,99.35 L867.87,98.75 L868.39,98.14 L868.90,97.53 L869.41,96.91 L869.91,96.29 L870.41,95.66 L870.90,95.03 L871.39,94.39 L871.87,93.76 L872.35,93.11 L872.82,92.47 L873.30,91.82 L873.76,91.17 L874.23,90.52 L874.70,89.87 L875.16,89.22 L875.62,88.56 L876.08,87.91 L876.53,87.25 L876.98,86.59 L877.43,85.92 L877.87,85.26 L878.31,84.59 L878.74,83.91 L879.16,83.24 L879.58,82.55 L879.99,81.87 L880.39,81.17 L880.79,80.48 L881.18,79.78 L881.56,79.08 L881.95,78.37 L882.33,77.67 L882.71,76.96 L883.09,76.25 L883.47,75.55 L883.86,74.84 L884.24,74.14 L884.63,73.44 L885.03,72.75 L885.43,72.06 L885.84,71.37 L886.25,70.69 L886.67,70.01 L887.10,69.34 L887.54,68.68 L887.99,68.01 L888.45,67.36 L888.91,66.70 L889.37,66.05 L889.85,65.40 L890.32,64.76 L890.81,64.12 L891.29,63.48 L891.78,62.85 L892.28,62.21 L892.77,61.59 L893.27,60.96 L893.77,60.34 L894.27,59.71 L894.78,59.09 L895.30,58.47 L895.82,57.86 L896.34,57.26 L896.88,56.67 L897.43,56.09 L897.98,55.52 L898.55,54.93 L899.11,54.31 L899.69,53.69 L900.29,53.11 L900.90,52.60 L901.55,52.19 L902.23,51.92 L902.97,51.69 L903.76,51.49 L904.58,51.33 L905.39,51.23 L906.18,51.20 L906.97,51.29 L907.76,51.48 L908.54,51.73 L909.30,52.02 L910.03,52.31 L910.74,52.64 L911.42,53.03 L912.09,53.47 L912.75,53.95 L913.39,54.46 L914.02,54.98 L914.64,55.50 L915.25,56.01 L915.85,56.54 L916.44,57.08 L917.01,57.63 L917.58,58.20 L918.14,58.78 L918.69,59.37 L919.24,59.96 L919.78,60.55 L920.31,61.15 L920.83,61.75 L921.34,62.37 L921.84,62.99 L922.34,63.62 L922.84,64.24 L923.34,64.87 L923.84,65.50 L924.34,66.12 L924.84,66.74 L925.34,67.37 L925.85,67.99 L926.35,68.61 L926.85,69.24 L927.35,69.86 L927.85,70.48 L928.35,71.11 L928.86,71.73 L929.37,72.34 L929.88,72.96 L930.41,73.56 L930.94,74.17 L931.47,74.76 L932.01,75.36 L932.54,75.96 L933.07,76.56 L933.60,77.17 L934.11,77.78 L934.61,78.40 L935.10,79.03 L935.57,79.67 L936.03,80.32 L936.48,80.98 L936.92,81.64 L937.35,82.31 L937.78,82.99 L938.20,83.67 L938.61,84.36 L939.03,85.04 L939.44,85.73 L939.85,86.42 L940.26,87.12 L940.67,87.81 L941.08,88.49 L941.49,89.18 L941.91,89.86 L942.33,90.54 L942.75,91.23 L943.15,91.93 L943.56,92.63 L943.95,93.34 L944.35,94.04 L944.75,94.75 L945.15,95.45 L945.55,96.15 L945.95,96.85 L946.37,97.54 L946.78,98.22 L947.21,98.90 L947.65,99.56 L948.10,100.21 L948.56,100.85 L949.03,101.47 L949.53,102.07 L950.04,102.67 L950.57,103.26 L951.12,103.85 L951.68,104.43 L952.25,104.99 L952.84,105.55 L953.44,106.10 L954.05,106.64 L954.67,107.16 L955.29,107.68 L955.91,108.18 L956.55,108.66 L957.18,109.13 L957.82,109.60 L958.48,110.06 L959.14,110.51 L959.82,110.95 L960.50,111.38 L961.19,111.80 L961.89,112.21 L962.60,112.59 L963.31,112.96 L964.03,113.30 L964.75,113.62 L965.48,113.94 L966.22,114.28 L966.97,114.62 L967.73,114.95 L968.49,115.25 L969.26,115.52 L970.04,115.74 L970.81,115.90 L971.59,115.99 L972.37,116.00 L973.16,115.96 L973.96,115.90 L974.77,115.81 L975.58,115.69 L976.38,115.55 L977.18,115.40 L977.96,115.24 L978.72,115.07 L979.47,114.87 L980.20,114.59 L980.92,114.24 L981.63,113.84 L982.33,113.41 L983.01,112.96 L983.69,112.51 L984.35,112.07 L985.00,111.61 L985.65,111.13 L986.28,110.63 L986.90,110.12 L987.51,109.59 L988.11,109.06 L988.69,108.52 L989.26,107.97 L989.82,107.40 L990.36,106.82 L990.90,106.23 L991.43,105.63 L991.96,105.02 L992.48,104.41 L993.00,103.80 L993.52,103.19 L994.05,102.58 L994.58,101.97 L995.11,101.38 L995.65,100.79 L996.20,100.20 L996.75,99.62 L997.30,99.04 L997.86,98.45 L998.41,97.87 L998.96,97.28 L999.50,96.69 L1000.03,96.10 L1000.55,95.49 L1001.06,94.88 L1001.55,94.26 L1002.04,93.63 L1002.51,92.99 L1002.97,92.34 L1003.42,91.68 L1003.87,91.02 L1004.31,90.35 L1004.74,89.67 L1005.18,89.00 L1005.60,88.32 L1006.03,87.64 L1006.46,86.96 L1006.88,86.27 L1007.31,85.59 L1007.73,84.92 L1008.16,84.24 L1008.59,83.56 L1009.01,82.88 L1009.42,82.19 L1009.83,81.50 L1010.24,80.81 L1010.65,80.12 L1011.05,79.43 L1011.46,78.73 L1011.87,78.04 L1012.27,77.35 L1012.69,76.67 L1013.10,75.98 L1013.53,75.30 L1013.95,74.63 L1014.39,73.96 L1014.83,73.30 L1015.28,72.64 L1015.75,72.00 L1016.22,71.36 L1016.70,70.72 L1017.19,70.08 L1017.68,69.45 L1018.19,68.83 L1018.70,68.21 L1019.21,67.59 L1019.74,66.98 L1020.27,66.38 L1020.80,65.78 L1021.34,65.20 L1021.89,64.62 L1022.44,64.04 L1023.00,63.47 L1023.57,62.90 L1024.14,62.34 L1024.73,61.79 L1025.32,61.24 L1025.92,60.70 L1026.53,60.18 L1027.14,59.67 L1027.77,59.18 L1028.40,58.69 L1029.04,58.18 L1029.70,57.68 L1030.37,57.20 L1031.05,56.79 L1031.76,56.48 L1032.49,56.26 L1033.25,56.05 L1034.04,55.87 L1034.84,55.70 L1035.65,55.56 L1036.45,55.46 L1037.25,55.41 L1038.04,55.41 L1038.83,55.49 L1039.61,55.65 L1040.40,55.87 L1041.18,56.13 L1041.95,56.40 L1042.69,56.69 L1043.42,56.96 L1044.15,57.28 L1044.88,57.63 L1045.60,58.02 L1046.32,58.43 L1047.01,58.87 L1047.69,59.33 L1048.35,59.81 L1048.97,60.30 L1049.57,60.80 L1050.13,61.30 L1050.67,61.85 L1051.19,62.42 L1051.69,63.02 L1052.18,63.64 L1052.65,64.29 L1053.11,64.95 L1053.57,65.62 L1054.01,66.31 L1054.45,67.00 L1054.89,67.70 L1055.32,68.40 L1055.76,69.10 L1056.20,69.78 L1056.64,70.46 L1057.09,71.13 L1057.53,71.79 L1057.97,72.46 L1058.40,73.14 L1058.83,73.82 L1059.25,74.50 L1059.67,75.18 L1060.09,75.87 L1060.50,76.56 L1060.92,77.24 L1061.34,77.93 L1061.76,78.61 L1062.18,79.29 L1062.61,79.97 L1063.04,80.64 L1063.48,81.31 L1063.92,81.97 L1064.38,82.63 L1064.84,83.28 L1065.31,83.91 L1065.80,84.54 L1066.29,85.17 L1066.81,85.78 L1067.32,86.39 L1067.85,86.99 L1068.38,87.59 L1068.92,88.19 L1069.46,88.78 L1070.00,89.38 L1070.53,89.98 L1071.07,90.57 L1071.60,91.17 L1072.13,91.77 L1072.66,92.36 L1073.20,92.96 L1073.74,93.55 L1074.28,94.14 L1074.81,94.74 L1075.36,95.33 L1075.90,95.91 L1076.44,96.50 L1076.98,97.09 L1077.52,97.68 L1078.06,98.28 L1078.60,98.88 L1079.13,99.48 L1079.66,100.09 L1080.20,100.69 L1080.74,101.28 L1081.29,101.87 L1081.84,102.45 L1082.40,103.02 L1082.97,103.57 L1083.55,104.11 L1084.15,104.63 L1084.75,105.15 L1085.37,105.67 L1085.99,106.19 L1086.63,106.71 L1087.27,107.21 L1087.93,107.69 L1088.59,108.15 L1089.27,108.58 L1089.95,108.98 L1090.65,109.34 L1091.35,109.65 L1092.07,109.96 L1092.81,110.27 L1093.56,110.56 L1094.32,110.84 L1095.09,111.10 L1095.86,111.35 L1096.65,111.57 L1097.43,111.77 L1098.22,111.95 L1099.01,112.09 L1099.79,112.20 L1100.58,112.29 L1101.38,112.38 L1102.18,112.46 L1102.99,112.52 L1103.79,112.57 L1104.58,112.60 L1105.37,112.59 L1106.16,112.50 L1106.95,112.33 L1107.74,112.10 L1108.51,111.84 L1109.27,111.57 L1110.01,111.30 L1110.74,111.01 L1111.46,110.68 L1112.18,110.31 L1112.88,109.91 L1113.58,109.49 L1114.26,109.05 L1114.93,108.59 L1115.59,108.12 L1116.24,107.65 L1116.87,107.18 L1117.48,106.69 L1118.09,106.18 L1118.68,105.66 L1119.26,105.12 L1119.84,104.57 L1120.41,104.01 L1120.97,103.43 L1121.53,102.85 L1122.08,102.26 L1122.63,101.66 L1123.17,101.06 L1123.72,100.47 L1124.26,99.87 L1124.81,99.27 L1125.35,98.68 L1125.90,98.10 L1126.46,97.52 L1127.01,96.94 L1127.56,96.36 L1128.10,95.78 L1128.65,95.19 L1129.19,94.60 L1129.74,94.02 L1130.28,93.43 L1130.82,92.84 L1131.36,92.24 L1131.89,91.65 L1132.43,91.06 L1132.97,90.46 L1133.50,89.86 L1134.03,89.27 L1134.56,88.67 L1135.09,88.07 L1135.62,87.47 L1136.15,86.87 L1136.68,86.27 L1137.20,85.66 L1137.72,85.05 L1138.23,84.44 L1138.74,83.82 L1139.26,83.21 L1139.77,82.59 L1140.29,81.98 L1140.80,81.37 L1141.33,80.76 L1141.85,80.16 L1142.39,79.57 L1142.92,78.97 L1143.45,78.36 L1143.98,77.76 L1144.52,77.16 L1145.06,76.56 L1145.60,75.97 L1146.15,75.39 L1146.71,74.82 L1147.27,74.25 L1147.85,73.70 L1148.43,73.17 L1149.03,72.64 L1149.63,72.12 L1150.25,71.60 L1150.87,71.08 L1151.50,70.57 L1152.13,70.07 L1152.78,69.58 L1153.43,69.11 L1154.10,68.66 L1154.76,68.23 L1155.44,67.82 L1156.13,67.43 L1156.82,67.06 L1157.53,66.69 L1158.25,66.33 L1158.99,65.99 L1159.73,65.66 L1160.47,65.35 L1161.23,65.06 L1161.98,64.80 L1162.74,64.57 L1163.51,64.36 L1164.28,64.14 L1165.06,63.94 L1165.85,63.75 L1166.65,63.61 L1167.44,63.52 L1168.23,63.50 L1169.04,63.51 L1169.86,63.54 L1170.68,63.58 L1171.49,63.64 L1172.28,63.70 L1173.05,63.77 L1173.78,63.88 L1174.49,64.09 L1175.19,64.40 L1175.88,64.80 L1176.55,65.26 L1177.21,65.77 L1177.87,66.31 L1178.52,66.87 L1179.16,67.42 L1179.80,67.96 L1180.44,68.46 L1181.08,68.93 L1181.72,69.42 L1182.34,69.91 L1182.97,70.42 L1183.59,70.93 L1184.20,71.44 L1184.81,71.96 L1185.42,72.49 L1186.02,73.02 L1186.62,73.55 L1187.21,74.09 L1187.80,74.63 L1188.39,75.17 L1188.97,75.72 L1189.54,76.28 L1190.11,76.84 L1190.67,77.41 L1191.23,77.98 L1191.78,78.55 L1192.34,79.13 L1192.89,79.71 L1193.44,80.30 L1193.99,80.88 L1194.54,81.46 L1195.09,82.04 L1195.65,82.62 L1196.21,83.20 L1196.77,83.77 L1197.33,84.33 L1197.89,84.90 L1198.45,85.48 L1199.01,86.05 L1199.57,86.63 L1200.13,87.20 L1200.69,87.78 L1201.25,88.36 L1201.81,88.93 L1202.37,89.50 L1202.94,90.07 L1203.51,90.64 L1204.08,91.20 L1204.65,91.76 L1205.23,92.31 L1205.81,92.85 L1206.40,93.39 L1207.00,93.92 L1207.60,94.44 L1208.20,94.96 L1208.82,95.47 L1209.44,95.97 L1210.07,96.47 L1210.70,96.97 L1211.34,97.45 L1211.98,97.93 L1212.63,98.40 L1213.29,98.86 L1213.95,99.32 L1214.62,99.75 L1215.29,100.18 L1215.96,100.61 L1216.64,101.04 L1217.33,101.46 L1218.02,101.88 L1218.72,102.30 L1219.42,102.69 L1220.13,103.08 L1220.84,103.44 L1221.57,103.79 L1222.29,104.11 L1223.02,104.40 L1223.76,104.67 L1224.52,104.94 L1225.28,105.21 L1226.05,105.47 L1226.82,105.70 L1227.61,105.91 L1228.39,106.09 L1229.18,106.22 L1229.97,106.30 L1230.76,106.34 L1231.56,106.38 L1232.36,106.42 L1233.17,106.45 L1233.97,106.47 L1234.77,106.49 L1235.57,106.50 L1236.36,106.49 L1237.14,106.40 L1237.92,106.24 L1238.69,106.02 L1239.47,105.76 L1240.23,105.47 L1240.99,105.18 L1241.75,104.89 L1242.49,104.62 L1243.24,104.33 L1243.98,104.03 L1244.72,103.71 L1245.46,103.37 L1246.18,103.02 L1246.90,102.66 L1247.62,102.28 L1248.32,101.90 L1249.00,101.50 L1249.68,101.09 L1250.33,100.66 L1250.97,100.19 L1251.60,99.70 L1252.22,99.19 L1252.84,98.67 L1253.45,98.14 L1254.06,97.61 L1254.67,97.09 L1255.29,96.57 L1255.91,96.07 L1256.54,95.58 L1257.18,95.10 L1257.82,94.62 L1258.46,94.14 L1259.11,93.66 L1259.75,93.19 L1260.40,92.71 L1261.04,92.24 L1261.68,91.76 L1262.32,91.28 L1262.96,90.80 L1263.60,90.31 L1264.23,89.82 L1264.85,89.32 L1265.48,88.82 L1266.10,88.32 L1266.72,87.81 L1267.33,87.30 L1267.95,86.79 L1268.57,86.28 L1269.18,85.77 L1269.80,85.26 L1270.42,84.76 L1271.05,84.25 L1271.67,83.76 L1272.30,83.26 L1272.93,82.77 L1273.57,82.28 L1274.20,81.80 L1274.84,81.31 L1275.47,80.82 L1276.11,80.34 L1276.75,79.86 L1277.40,79.39 L1278.04,78.91 L1278.69,78.44 L1279.34,77.97 L1279.99,77.51 L1280.64,77.04 L1281.29,76.57 L1281.94,76.09 L1282.59,75.61 L1283.24,75.13 L1283.89,74.66 L1284.55,74.19 L1285.21,73.74 L1285.88,73.31 L1286.56,72.89 L1287.25,72.49 L1287.95,72.12 L1288.66,71.78 L1289.39,71.43 L1290.13,71.10 L1290.88,70.81 L1291.65,70.58 L1292.41,70.42 L1293.20,70.27 L1293.99,70.14 L1294.79,70.03 L1295.59,69.95 L1296.39,69.91 L1297.19,69.90 L1297.99,69.94 L1298.80,70.01 L1299.60,70.10 L1300.39,70.21 L1301.17,70.33 L1301.94,70.52 L1302.69,70.79 L1303.44,71.10 L1304.18,71.42 L1304.92,71.73 L1305.66,72.05 L1306.39,72.37 L1307.12,72.70 L1307.85,73.05 L1308.57,73.40 L1309.28,73.77 L1309.99,74.15 L1310.69,74.53 L1311.38,74.93 L1312.06,75.34 L1312.72,75.77 L1313.38,76.22 L1314.03,76.69 L1314.67,77.17 L1315.31,77.66 L1315.94,78.15 L1316.57,78.65 L1317.21,79.14 L1317.84,79.63 L1318.48,80.12 L1319.13,80.59 L1319.78,81.06 L1320.42,81.53 L1321.07,82.00 L1321.72,82.47 L1322.37,82.94 L1323.02,83.41 L1323.67,83.87 L1324.32,84.34 L1324.97,84.81 L1325.62,85.28 L1326.27,85.74 L1326.92,86.21 L1327.57,86.68 L1328.22,87.14 L1328.86,87.61 L1329.51,88.09 L1330.16,88.56 L1330.80,89.03 L1331.45,89.50 L1332.10,89.97 L1332.75,90.43 L1333.40,90.90 L1334.06,91.35 L1334.72,91.81 L1335.38,92.26 L1336.04,92.71 L1336.70,93.17 L1337.36,93.63 L1338.03,94.09 L1338.69,94.54 L1339.37,94.98 L1340.04,95.40 L1340.73,95.81 L1341.42,96.20 L1342.12,96.56 L1342.83,96.92 L1343.55,97.28 L1344.27,97.65 L1345.00,98.01 L1345.73,98.36 L1346.47,98.70 L1347.22,99.03 L1347.96,99.34 L1348.72,99.63 L1349.47,99.89 L1350.23,100.13 L1351.00,100.34 L1351.77,100.52 L1352.54,100.66 L1353.31,100.79 L1354.10,100.92 L1354.89,101.04 L1355.69,101.15 L1356.49,101.25 L1357.29,101.33 L1358.09,101.40 L1358.90,101.46 L1359.70,101.49 L1360.50,101.51 L1361.29,101.52 L1362.09,101.54 L1362.89,101.55 L1363.69,101.56 L1364.49,101.57 L1365.29,101.58 L1366.10,101.59 L1366.90,101.59 L1367.70,101.60 L1368.50,101.60 L1369.30,101.60 L1370.10,101.60 L1370.90,101.60 L1371.70,101.60 L1372.50,101.60 L1373.30,101.60 L1374.10,101.60 L1374.90,101.60 L1375.70,101.60 L1376.50,101.60" fill="none" stroke="#0000ff" stroke-width="5.6" stroke-linecap="round" stroke-linejoin="round" stroke-dasharray="13.23 25.08 12.80 24.81 12.80 28.01 12.80 30.41 12.80 18.40 12.00 15.20 12.00 32.01 12.80 25.61 14.40 24.81 13.60 18.40 13.60 20.82 9.72 34.42 16.00 29.60 18.48 24.88 17.60 28.01 20.86 24.88 17.61 27.21 19.26 26.51 19.22 26.41 43.28 26.51 17.61 28.08 18.46 28.03 18.41 27.28 19.30 28.01 17.64 28.07 18.42 29.63 17.63 7.21 20.01 28.85 16.82 1423.66" stroke-dashoffset="-5.07"/>
<path d="M755.20,461.20 L755.21,460.39 L755.23,459.58 L755.27,458.77 L755.32,457.97 L755.39,457.17 L755.46,456.37 L755.54,455.58 L755.64,454.79 L755.73,453.99 L755.84,453.21 L755.94,452.42 L756.05,451.63 L756.19,450.83 L756.35,450.01 L756.54,449.21 L756.76,448.41 L757.02,447.65 L757.30,446.94 L757.62,446.28 L758.08,445.62 L758.65,444.99 L759.29,444.44 L759.95,444.02 L760.63,443.73 L761.36,443.48 L762.14,443.26 L762.95,443.07 L763.76,442.89 L764.56,442.71 L765.34,442.52 L766.13,442.34 L766.92,442.17 L767.71,442.02 L768.50,441.85 L769.28,441.68 L770.05,441.49 L770.81,441.26 L771.60,441.00 L772.50,440.69 L773.35,440.32 L774.01,439.91 L774.31,439.45 L774.43,438.91 L774.53,438.28 L774.61,437.57 L774.68,436.79 L774.75,435.96 L774.80,435.09 L774.85,434.20 L774.88,433.30 L774.92,432.40 L774.95,431.51 L774.98,430.65 L775.01,429.84 L775.03,429.04 L775.06,428.24 L775.08,427.44 L775.11,426.64 L775.13,425.84 L775.15,425.04 L775.17,424.24 L775.19,423.44 L775.21,422.64 L775.23,421.84 L775.25,421.04 L775.27,420.24 L775.29,419.44 L775.30,418.64 L775.32,417.84 L775.33,417.04 L775.35,416.24 L775.36,415.44 L775.37,414.64 L775.39,413.84 L775.40,413.04 L775.41,412.23 L775.43,411.43 L775.44,410.63 L775.45,409.83 L775.46,409.03 L775.47,408.23 L775.49,407.43 L775.50,406.63 L775.51,405.83 L775.52,405.03 L775.53,404.23 L775.55,403.43 L775.56,402.63 L775.57,401.83 L775.58,401.03 L775.60,400.23 L775.61,399.43 L775.62,398.62 L775.64,397.82 L775.65,397.02 L775.66,396.22 L775.67,395.42 L775.69,394.62 L775.70,393.82 L775.71,393.02 L775.72,392.22 L775.74,391.42 L775.75,390.62 L775.76,389.82 L775.77,389.02 L775.78,388.22 L775.80,387.42 L775.81,386.62 L775.82,385.82 L775.83,385.02 L775.84,384.22 L775.85,383.42 L775.86,382.62 L775.87,381.82 L775.89,381.02 L775.90,380.22 L775.91,379.42 L775.92,378.62 L775.93,377.81 L775.94,377.01 L775.95,376.21 L775.96,375.41 L775.97,374.61 L775.98,373.81 L775.99,373.01 L776.00,372.21 L776.01,371.41 L776.03,370.61 L776.04,369.81 L776.05,369.01 L776.06,368.21 L776.07,367.41 L776.08,366.61 L776.09,365.81 L776.10,365.01 L776.11,364.21 L776.12,363.41 L776.13,362.61 L776.14,361.81 L776.15,361.01 L776.16,360.21 L776.17,359.41 L776.18,358.61 L776.19,357.80 L776.20,357.00 L776.21,356.20 L776.23,355.40 L776.24,354.60 L776.25,353.80 L776.26,353.00 L776.27,352.20 L776.28,351.40 L776.29,350.60 L776.30,349.80 L776.31,349.00 L776.33,348.20 L776.34,347.40 L776.35,346.60 L776.36,345.80 L776.37,345.00 L776.38,344.20 L776.39,343.40 L776.40,342.60 L776.41,341.80 L776.43,341.00 L776.44,340.20 L776.45,339.40 L776.46,338.60 L776.47,337.79 L776.48,336.99 L776.49,336.19 L776.50,335.39 L776.52,334.59 L776.53,333.79 L776.54,332.99 L776.55,332.19 L776.56,331.39 L776.57,330.59 L776.58,329.79 L776.59,328.99 L776.61,328.19 L776.62,327.39 L776.63,326.59 L776.64,325.79 L776.65,324.99 L776.66,324.19 L776.67,323.39 L776.68,322.59 L776.69,321.79 L776.71,320.99 L776.72,320.19 L776.73,319.39 L776.74,318.59 L776.75,317.78 L776.76,316.98 L776.77,316.18 L776.78,315.38 L776.80,314.58 L776.81,313.78 L776.82,312.98 L776.83,312.18 L776.84,311.38 L776.85,310.58 L776.86,309.78 L776.87,308.98 L776.89,308.18 L776.90,307.38 L776.91,306.58 L776.92,305.78 L776.93,304.98 L776.94,304.18 L776.95,303.38 L776.96,302.58 L776.98,301.78 L776.99,300.98 L777.00,300.18 L777.01,299.38 L777.02,298.58 L777.03,297.77 L777.04,296.97 L777.05,296.17 L777.07,295.37 L777.08,294.57 L777.09,293.77 L777.10,292.97 L777.11,292.17 L777.12,291.37 L777.13,290.57 L777.14,289.77 L777.16,288.97 L777.17,288.17 L777.18,287.37 L777.19,286.57 L777.20,285.77 L777.21,284.97 L777.23,284.17 L777.24,283.37 L777.25,282.57 L777.26,281.77 L777.27,280.97 L777.28,280.17 L777.29,279.37 L777.31,278.57 L777.32,277.77 L777.33,276.96 L777.34,276.16 L777.35,275.36 L777.36,274.56 L777.37,273.76 L777.39,272.96 L777.40,272.16 L777.41,271.36 L777.42,270.56 L777.43,269.76 L777.44,268.96 L777.45,268.16 L777.46,267.36 L777.48,266.56 L777.49,265.76 L777.50,264.96 L777.51,264.16 L777.52,263.36 L777.53,262.56 L777.54,261.76 L777.55,260.96 L777.56,260.16 L777.58,259.36 L777.59,258.56 L777.60,257.76 L777.61,256.95 L777.62,256.15 L777.63,255.35 L777.64,254.55 L777.65,253.75 L777.66,252.95 L777.67,252.15 L777.68,251.35 L777.69,250.55 L777.70,249.75 L777.71,248.95 L777.72,248.15 L777.73,247.35 L777.74,246.55 L777.75,245.75 L777.76,244.95 L777.77,244.15 L777.78,243.35 L777.79,242.55 L777.80,241.75 L777.81,240.95 L777.82,240.15 L777.83,239.35 L777.84,238.55 L777.85,237.75 L777.86,236.94 L777.87,236.14 L777.88,235.34 L777.89,234.54 L777.90,233.74 L777.91,232.94 L777.92,232.14 L777.93,231.34 L777.94,230.54 L777.95,229.74 L777.96,228.94 L777.97,228.14 L777.98,227.34 L777.99,226.54 L778.00,225.74 L778.01,224.94 L778.02,224.14 L778.03,223.34 L778.03,222.54 L778.04,221.74 L778.05,220.94 L778.06,220.14 L778.07,219.34 L778.08,218.54 L778.09,217.73 L778.10,216.93 L778.11,216.13 L778.12,215.33 L778.13,214.53 L778.14,213.73 L778.15,212.93 L778.16,212.13 L778.17,211.33 L778.18,210.53 L778.18,209.73 L778.19,208.93 L778.20,208.13 L778.21,207.33 L778.22,206.53 L778.23,205.73 L778.24,204.93 L778.25,204.13 L778.26,203.33 L778.27,202.53 L778.28,201.73 L778.29,200.93 L778.30,200.13 L778.31,199.33 L778.32,198.52 L778.33,197.72 L778.34,196.92 L778.35,196.12 L778.36,195.32 L778.36,194.52 L778.37,193.72 L778.38,192.92 L778.39,192.12 L778.40,191.32 L778.41,190.52 L778.42,189.72 L778.43,188.92 L778.44,188.12 L778.45,187.32 L778.46,186.52 L778.47,185.72 L778.48,184.92 L778.49,184.12 L778.50,183.32 L778.50,182.52 L778.51,181.72 L778.52,180.92 L778.53,180.12 L778.54,179.31 L778.55,178.51 L778.56,177.71 L778.57,176.91 L778.58,176.11 L778.59,175.31 L778.60,174.51 L778.61,173.71 L778.62,172.91 L778.63,172.11 L778.63,171.31 L778.64,170.51 L778.65,169.71 L778.66,168.91 L778.67,168.11 L778.68,167.31 L778.69,166.51 L778.70,165.71 L778.71,164.91 L778.72,164.11 L778.73,163.31 L778.74,162.51 L778.75,161.71 L778.76,160.91 L778.77,160.10 L778.78,159.30 L778.79,158.50 L778.80,157.70 L778.81,156.90 L778.82,156.10 L778.83,155.30 L778.84,154.50 L778.85,153.70 L778.86,152.90 L778.87,152.10 L778.88,151.30 L778.89,150.50 L778.90,149.70 L778.91,148.90 L778.93,148.10 L778.94,147.30 L778.95,146.50 L778.96,145.70 L778.97,144.90 L778.98,144.10 L778.99,143.30 L779.00,142.50 L779.01,141.70 L779.02,140.89 L779.03,140.09 L779.04,139.29 L779.05,138.49 L779.07,137.69 L779.08,136.89 L779.09,136.09 L779.10,135.29 L779.11,134.49 L779.12,133.69 L779.13,132.89 L779.14,132.09 L779.15,131.29 L779.17,130.49 L779.18,129.69 L779.19,128.89 L779.20,128.09 L779.21,127.29 L779.22,126.49 L779.24,125.69 L779.25,124.89 L779.26,124.09 L779.27,123.29 L779.29,122.49 L779.30,121.69 L779.31,120.89 L779.32,120.08 L779.34,119.28 L779.35,118.48 L779.36,117.68 L779.38,116.88 L779.39,116.08 L779.40,115.28 L779.42,114.48 L779.43,113.68 L779.45,112.88 L779.46,112.08 L779.48,111.28 L779.49,110.48 L779.51,109.68 L779.52,108.88 L779.54,108.08 L779.55,107.28 L779.57,106.48 L779.58,105.68 L779.60,104.88 L779.62,104.08 L779.64,103.28 L779.65,102.48 L779.67,101.68 L779.69,100.88 L779.71,100.08 L779.72,99.28 L779.74,98.48 L779.76,97.68 L779.78,96.88 L779.80,96.08 L779.82,95.27 L779.84,94.47 L779.86,93.67 L779.88,92.87 L779.90,92.07 L779.92,91.27 L779.94,90.47 L779.97,89.67 L779.99,88.87 L780.01,88.07 L780.03,87.27 L780.06,86.47 L780.08,85.67 L780.10,84.87 L780.13,84.07 L780.15,83.27 L780.18,82.47 L780.20,81.67 L780.23,80.87 L780.26,80.07 L780.29,79.27 L780.31,78.47 L780.34,77.67 L780.37,76.87 L780.40,76.07 L780.43,75.27 L780.46,74.47 L780.50,73.67 L780.53,72.87 L780.56,72.07 L780.60,71.27 L780.63,70.47 L780.67,69.67 L780.71,68.87 L780.74,68.07 L780.78,67.27 L780.81,66.47 L780.85,65.67 L780.88,64.87 L780.92,64.07 L780.96,63.27 L781.00,62.47 L781.05,61.67 L781.10,60.87 L781.15,60.07 L781.21,59.28 L781.27,58.48 L781.34,57.68 L781.41,56.89 L781.51,56.09 L781.64,55.30 L781.80,54.52 L781.99,53.66 L782.24,52.68 L782.54,51.75 L782.89,50.99 L783.30,50.55 L783.82,50.52 L784.63,50.65 L785.52,50.85 L786.23,51.11 L786.84,51.58 L787.39,52.22 L787.92,52.88 L788.44,53.49 L788.95,54.10 L789.45,54.72 L789.94,55.35 L790.43,55.99 L790.90,56.64 L791.37,57.30 L791.83,57.95 L792.29,58.62 L792.74,59.28 L793.18,59.95 L793.62,60.62 L794.06,61.29 L794.50,61.96 L794.93,62.63 L795.35,63.31 L795.77,63.99 L796.18,64.67 L796.59,65.36 L797.00,66.05 L797.40,66.74 L797.80,67.43 L798.20,68.13 L798.60,68.82 L798.99,69.52 L799.38,70.22 L799.77,70.92 L800.16,71.63 L800.55,72.33 L800.94,73.03 L801.33,73.73 L801.72,74.43 L802.11,75.13 L802.50,75.83 L802.89,76.52 L803.28,77.22 L803.66,77.93 L804.04,78.64 L804.42,79.35 L804.79,80.06 L805.16,80.77 L805.54,81.48 L805.91,82.19 L806.28,82.91 L806.65,83.62 L807.03,84.32 L807.41,85.03 L807.79,85.74 L808.17,86.44 L808.57,87.13 L808.96,87.83 L809.37,88.51 L809.78,89.19 L810.20,89.87 L810.63,90.54 L811.07,91.20 L811.51,91.86 L811.97,92.52 L812.44,93.16 L812.92,93.81 L813.40,94.45 L813.89,95.09 L814.38,95.72 L814.88,96.35 L815.38,96.98 L815.88,97.61 L816.38,98.23 L816.88,98.86 L817.39,99.48 L817.89,100.10 L818.40,100.71 L818.92,101.33 L819.43,101.94 L819.96,102.55 L820.48,103.15 L821.00,103.76 L821.53,104.36 L822.06,104.96 L822.59,105.56 L823.13,106.16 L823.66,106.75 L824.19,107.36 L824.72,107.97 L825.24,108.58 L825.77,109.19 L826.30,109.80 L826.84,110.40 L827.38,110.99 L827.95,111.55 L828.52,112.09 L829.12,112.60 L829.74,113.10 L830.38,113.59 L831.03,114.07 L831.71,114.53 L832.39,114.96 L833.09,115.36 L833.80,115.71 L834.52,116.02 L835.26,116.30 L836.02,116.56 L836.79,116.81 L837.57,117.03 L838.35,117.24 L839.12,117.44 L839.90,117.65 L840.68,117.86 L841.47,118.04 L842.26,118.16 L843.05,118.20 L843.85,118.17 L844.65,118.09 L845.46,117.98 L846.25,117.84 L847.02,117.70 L847.77,117.51 L848.52,117.27 L849.27,116.97 L850.01,116.63 L850.74,116.25 L851.45,115.84 L852.16,115.40 L852.84,114.95 L853.51,114.50 L854.16,114.04 L854.79,113.59 L855.40,113.11 L855.99,112.60 L856.57,112.06 L857.13,111.50 L857.69,110.92 L858.23,110.32 L858.77,109.71 L859.31,109.09 L859.84,108.47 L860.37,107.85 L860.90,107.24 L861.43,106.63 L861.97,106.03 L862.51,105.44 L863.06,104.85 L863.60,104.27 L864.14,103.68 L864.68,103.08 L865.22,102.49 L865.76,101.90 L866.29,101.30 L866.82,100.70 L867.35,100.09 L867.87,99.48 L868.38,98.87 L868.89,98.26 L869.39,97.63 L869.89,97.01 L870.37,96.38 L870.86,95.74 L871.33,95.09 L871.81,94.45 L872.27,93.80 L872.74,93.14 L873.20,92.48 L873.65,91.83 L874.11,91.16 L874.56,90.50 L875.01,89.84 L875.45,89.18 L875.89,88.51 L876.33,87.84 L876.76,87.16 L877.19,86.48 L877.61,85.81 L878.04,85.13 L878.46,84.45 L878.88,83.77 L879.30,83.08 L879.71,82.40 L880.12,81.70 L880.52,81.01 L880.92,80.31 L881.32,79.61 L881.71,78.91 L882.11,78.21 L882.50,77.51 L882.90,76.81 L883.29,76.11 L883.69,75.42 L884.10,74.73 L884.51,74.04 L884.92,73.35 L885.34,72.68 L885.77,72.00 L886.21,71.34 L886.65,70.68 L887.11,70.03 L887.57,69.39 L888.05,68.75 L888.54,68.12 L889.04,67.49 L889.55,66.86 L890.06,66.25 L890.59,65.64 L891.12,65.03 L891.66,64.44 L892.20,63.85 L892.75,63.27 L893.30,62.69 L893.85,62.12 L894.42,61.55 L894.99,60.98 L895.57,60.42 L896.16,59.87 L896.76,59.33 L897.36,58.80 L897.98,58.29 L898.60,57.80 L899.24,57.33 L899.88,56.85 L900.55,56.38 L901.22,55.93 L901.92,55.52 L902.62,55.16 L903.35,54.86 L904.10,54.56 L904.88,54.29 L905.66,54.09 L906.44,54.00 L907.23,54.04 L908.04,54.15 L908.84,54.31 L909.62,54.50 L910.36,54.71 L911.09,55.01 L911.80,55.39 L912.50,55.81 L913.18,56.26 L913.86,56.71 L914.53,57.14 L915.20,57.59 L915.86,58.05 L916.50,58.53 L917.14,59.03 L917.76,59.53 L918.35,60.06 L918.93,60.60 L919.49,61.16 L920.04,61.74 L920.57,62.33 L921.10,62.94 L921.62,63.56 L922.13,64.18 L922.64,64.81 L923.14,65.44 L923.65,66.06 L924.15,66.68 L924.65,67.31 L925.15,67.93 L925.64,68.56 L926.14,69.19 L926.62,69.83 L927.11,70.47 L927.59,71.11 L928.06,71.75 L928.54,72.40 L929.01,73.05 L929.47,73.70 L929.93,74.36 L930.39,75.01 L930.83,75.67 L931.28,76.34 L931.72,77.01 L932.15,77.68 L932.59,78.35 L933.02,79.03 L933.44,79.71 L933.87,80.39 L934.29,81.06 L934.72,81.74 L935.14,82.42 L935.56,83.10 L935.98,83.79 L936.40,84.47 L936.81,85.16 L937.22,85.85 L937.62,86.54 L938.03,87.23 L938.44,87.92 L938.85,88.61 L939.26,89.29 L939.68,89.98 L940.10,90.66 L940.53,91.33 L940.97,92.00 L941.41,92.66 L941.86,93.33 L942.31,93.99 L942.77,94.64 L943.23,95.30 L943.70,95.95 L944.18,96.59 L944.65,97.24 L945.13,97.88 L945.62,98.51 L946.11,99.14 L946.61,99.77 L947.11,100.40 L947.61,101.02 L948.12,101.64 L948.64,102.25 L949.16,102.86 L949.69,103.46 L950.23,104.06 L950.77,104.65 L951.31,105.23 L951.87,105.80 L952.43,106.38 L952.99,106.94 L953.56,107.51 L954.14,108.07 L954.72,108.62 L955.31,109.17 L955.90,109.71 L956.50,110.24 L957.11,110.76 L957.72,111.27 L958.34,111.78 L958.96,112.29 L959.58,112.82 L960.21,113.34 L960.85,113.86 L961.49,114.37 L962.14,114.86 L962.80,115.31 L963.48,115.74 L964.16,116.12 L964.86,116.46 L965.58,116.75 L966.33,117.03 L967.09,117.29 L967.88,117.51 L968.67,117.69 L969.46,117.80 L970.25,117.86 L971.05,117.91 L971.85,117.96 L972.66,117.99 L973.46,118.00 L974.25,117.98 L975.05,117.91 L975.85,117.80 L976.65,117.66 L977.45,117.48 L978.23,117.29 L979.00,117.08 L979.76,116.87 L980.51,116.64 L981.25,116.35 L981.98,116.00 L982.70,115.62 L983.41,115.20 L984.09,114.77 L984.75,114.33 L985.39,113.88 L986.01,113.39 L986.61,112.88 L987.20,112.34 L987.78,111.78 L988.35,111.20 L988.91,110.62 L989.48,110.04 L990.04,109.46 L990.61,108.88 L991.18,108.32 L991.76,107.77 L992.34,107.21 L992.92,106.66 L993.50,106.11 L994.08,105.55 L994.66,104.99 L995.23,104.43 L995.80,103.86 L996.36,103.29 L996.91,102.72 L997.46,102.14 L997.99,101.55 L998.52,100.95 L999.04,100.34 L999.54,99.72 L1000.04,99.10 L1000.53,98.46 L1001.02,97.83 L1001.50,97.19 L1001.98,96.54 L1002.46,95.90 L1002.94,95.25 L1003.42,94.61 L1003.89,93.97 L1004.37,93.33 L1004.84,92.68 L1005.31,92.03 L1005.77,91.38 L1006.24,90.73 L1006.70,90.07 L1007.16,89.42 L1007.63,88.77 L1008.09,88.11 L1008.55,87.46 L1009.02,86.81 L1009.49,86.16 L1009.95,85.51 L1010.42,84.86 L1010.88,84.20 L1011.34,83.55 L1011.81,82.90 L1012.27,82.25 L1012.74,81.60 L1013.21,80.95 L1013.68,80.30 L1014.15,79.65 L1014.62,79.01 L1015.10,78.37 L1015.58,77.72 L1016.05,77.08 L1016.53,76.43 L1017.00,75.78 L1017.48,75.13 L1017.96,74.48 L1018.44,73.84 L1018.93,73.21 L1019.42,72.57 L1019.92,71.95 L1020.43,71.34 L1020.95,70.73 L1021.48,70.14 L1022.02,69.56 L1022.57,68.97 L1023.13,68.38 L1023.70,67.80 L1024.28,67.23 L1024.87,66.68 L1025.47,66.15 L1026.09,65.65 L1026.73,65.19 L1027.37,64.76 L1028.05,64.34 L1028.74,63.94 L1029.45,63.55 L1030.18,63.19 L1030.91,62.84 L1031.65,62.52 L1032.40,62.22 L1033.14,61.95 L1033.90,61.67 L1034.67,61.38 L1035.44,61.11 L1036.23,60.88 L1037.01,60.70 L1037.78,60.61 L1038.55,60.62 L1039.34,60.72 L1040.13,60.91 L1040.91,61.15 L1041.69,61.45 L1042.46,61.77 L1043.19,62.11 L1043.89,62.45 L1044.56,62.79 L1045.22,63.19 L1045.85,63.63 L1046.48,64.11 L1047.09,64.63 L1047.69,65.17 L1048.28,65.74 L1048.86,66.33 L1049.43,66.93 L1050.00,67.54 L1050.56,68.14 L1051.12,68.75 L1051.67,69.34 L1052.22,69.93 L1052.77,70.50 L1053.31,71.09 L1053.84,71.69 L1054.37,72.30 L1054.89,72.91 L1055.40,73.53 L1055.91,74.15 L1056.42,74.77 L1056.92,75.39 L1057.41,76.02 L1057.90,76.65 L1058.38,77.29 L1058.85,77.94 L1059.33,78.58 L1059.79,79.23 L1060.26,79.89 L1060.73,80.54 L1061.19,81.19 L1061.66,81.84 L1062.14,82.48 L1062.62,83.12 L1063.10,83.76 L1063.59,84.40 L1064.08,85.03 L1064.57,85.66 L1065.06,86.29 L1065.56,86.92 L1066.05,87.55 L1066.55,88.18 L1067.05,88.81 L1067.55,89.43 L1068.05,90.06 L1068.54,90.68 L1069.04,91.31 L1069.53,91.95 L1070.03,92.58 L1070.52,93.21 L1071.02,93.84 L1071.53,94.46 L1072.03,95.08 L1072.55,95.69 L1073.07,96.30 L1073.60,96.89 L1074.14,97.48 L1074.69,98.06 L1075.24,98.64 L1075.80,99.21 L1076.36,99.78 L1076.93,100.34 L1077.51,100.90 L1078.09,101.45 L1078.68,102.00 L1079.26,102.55 L1079.86,103.09 L1080.45,103.63 L1081.05,104.16 L1081.65,104.69 L1082.25,105.22 L1082.85,105.75 L1083.45,106.30 L1084.05,106.86 L1084.65,107.42 L1085.26,107.98 L1085.87,108.53 L1086.49,109.07 L1087.11,109.60 L1087.74,110.11 L1088.38,110.59 L1089.02,111.05 L1089.68,111.48 L1090.35,111.88 L1091.03,112.23 L1091.73,112.54 L1092.45,112.84 L1093.18,113.12 L1093.94,113.40 L1094.71,113.65 L1095.49,113.89 L1096.28,114.11 L1097.07,114.31 L1097.86,114.48 L1098.65,114.64 L1099.43,114.77 L1100.22,114.91 L1101.01,115.03 L1101.81,115.15 L1102.61,115.23 L1103.41,115.29 L1104.20,115.30 L1105.00,115.27 L1105.80,115.20 L1106.61,115.11 L1107.41,114.99 L1108.20,114.85 L1108.99,114.70 L1109.77,114.55 L1110.53,114.38 L1111.29,114.15 L1112.04,113.88 L1112.78,113.56 L1113.52,113.23 L1114.25,112.87 L1114.97,112.51 L1115.69,112.15 L1116.41,111.80 L1117.13,111.44 L1117.84,111.07 L1118.55,110.69 L1119.25,110.30 L1119.95,109.89 L1120.64,109.48 L1121.33,109.06 L1122.00,108.62 L1122.66,108.18 L1123.30,107.73 L1123.94,107.26 L1124.56,106.77 L1125.17,106.26 L1125.78,105.74 L1126.38,105.21 L1126.97,104.67 L1127.56,104.12 L1128.14,103.56 L1128.72,103.00 L1129.29,102.44 L1129.87,101.87 L1130.44,101.31 L1131.02,100.74 L1131.60,100.19 L1132.18,99.63 L1132.76,99.08 L1133.33,98.53 L1133.91,97.97 L1134.48,97.41 L1135.06,96.86 L1135.63,96.30 L1136.20,95.73 L1136.77,95.17 L1137.34,94.60 L1137.90,94.04 L1138.46,93.47 L1139.03,92.90 L1139.59,92.33 L1140.14,91.75 L1140.70,91.17 L1141.24,90.59 L1141.78,90.00 L1142.32,89.40 L1142.86,88.81 L1143.40,88.21 L1143.94,87.62 L1144.49,87.04 L1145.04,86.46 L1145.60,85.89 L1146.17,85.33 L1146.75,84.78 L1147.33,84.23 L1147.91,83.68 L1148.50,83.14 L1149.09,82.60 L1149.69,82.06 L1150.30,81.53 L1150.90,81.01 L1151.51,80.49 L1152.13,79.98 L1152.75,79.47 L1153.37,78.98 L1154.00,78.48 L1154.64,77.99 L1155.27,77.49 L1155.92,77.00 L1156.57,76.52 L1157.23,76.06 L1157.90,75.63 L1158.58,75.23 L1159.28,74.86 L1159.99,74.48 L1160.72,74.10 L1161.46,73.75 L1162.21,73.44 L1162.98,73.19 L1163.74,73.03 L1164.52,72.95 L1165.31,72.89 L1166.12,72.83 L1166.94,72.79 L1167.75,72.75 L1168.56,72.72 L1169.35,72.70 L1170.12,72.70 L1170.88,72.77 L1171.63,72.92 L1172.37,73.16 L1173.11,73.46 L1173.83,73.82 L1174.56,74.22 L1175.27,74.65 L1175.99,75.10 L1176.69,75.56 L1177.40,76.02 L1178.10,76.46 L1178.79,76.88 L1179.48,77.27 L1180.18,77.67 L1180.87,78.07 L1181.56,78.49 L1182.25,78.91 L1182.93,79.34 L1183.61,79.77 L1184.29,80.22 L1184.95,80.67 L1185.61,81.13 L1186.26,81.60 L1186.91,82.08 L1187.54,82.56 L1188.16,83.06 L1188.77,83.56 L1189.36,84.08 L1189.94,84.62 L1190.50,85.18 L1191.06,85.76 L1191.61,86.34 L1192.15,86.94 L1192.69,87.54 L1193.23,88.14 L1193.78,88.73 L1194.33,89.32 L1194.89,89.89 L1195.46,90.45 L1196.03,91.01 L1196.60,91.57 L1197.18,92.13 L1197.75,92.68 L1198.33,93.24 L1198.91,93.79 L1199.49,94.34 L1200.08,94.89 L1200.66,95.44 L1201.24,95.98 L1201.83,96.53 L1202.42,97.07 L1203.00,97.62 L1203.59,98.17 L1204.17,98.71 L1204.76,99.26 L1205.35,99.80 L1205.94,100.34 L1206.54,100.88 L1207.14,101.41 L1207.74,101.93 L1208.35,102.45 L1208.96,102.97 L1209.57,103.48 L1210.19,104.00 L1210.81,104.52 L1211.43,105.04 L1212.05,105.56 L1212.68,106.07 L1213.31,106.58 L1213.95,107.07 L1214.59,107.55 L1215.25,108.00 L1215.91,108.44 L1216.58,108.85 L1217.26,109.23 L1217.96,109.60 L1218.67,109.96 L1219.39,110.31 L1220.11,110.65 L1220.85,110.98 L1221.60,111.30 L1222.35,111.60 L1223.11,111.89 L1223.87,112.15 L1224.63,112.40 L1225.40,112.63 L1226.16,112.84 L1226.93,113.04 L1227.71,113.23 L1228.49,113.41 L1229.28,113.58 L1230.07,113.73 L1230.87,113.86 L1231.66,113.96 L1232.45,114.05 L1233.25,114.12 L1234.05,114.19 L1234.86,114.25 L1235.65,114.29 L1236.45,114.30 L1237.24,114.26 L1238.02,114.17 L1238.81,114.02 L1239.59,113.83 L1240.37,113.62 L1241.14,113.38 L1241.92,113.14 L1242.69,112.89 L1243.46,112.65 L1244.23,112.44 L1245.01,112.22 L1245.79,112.01 L1246.57,111.79 L1247.35,111.56 L1248.13,111.33 L1248.90,111.08 L1249.67,110.83 L1250.42,110.56 L1251.16,110.27 L1251.89,109.97 L1252.59,109.65 L1253.28,109.30 L1253.94,108.90 L1254.59,108.45 L1255.23,107.98 L1255.86,107.47 L1256.48,106.95 L1257.10,106.42 L1257.71,105.88 L1258.33,105.34 L1258.96,104.82 L1259.59,104.31 L1260.23,103.83 L1260.87,103.36 L1261.53,102.90 L1262.18,102.43 L1262.84,101.98 L1263.49,101.52 L1264.15,101.06 L1264.81,100.60 L1265.47,100.15 L1266.12,99.69 L1266.78,99.23 L1267.43,98.76 L1268.07,98.29 L1268.72,97.81 L1269.35,97.33 L1269.99,96.84 L1270.62,96.35 L1271.25,95.86 L1271.88,95.36 L1272.50,94.86 L1273.13,94.36 L1273.75,93.86 L1274.38,93.36 L1275.00,92.86 L1275.63,92.36 L1276.25,91.86 L1276.88,91.36 L1277.52,90.87 L1278.15,90.38 L1278.78,89.89 L1279.41,89.38 L1280.04,88.86 L1280.66,88.33 L1281.28,87.81 L1281.91,87.28 L1282.53,86.76 L1283.17,86.25 L1283.80,85.76 L1284.44,85.28 L1285.10,84.82 L1285.76,84.38 L1286.43,83.97 L1287.11,83.59 L1287.80,83.25 L1288.51,82.93 L1289.24,82.60 L1289.99,82.29 L1290.74,81.99 L1291.51,81.71 L1292.28,81.46 L1293.06,81.23 L1293.84,81.03 L1294.62,80.87 L1295.39,80.74 L1296.18,80.62 L1296.97,80.50 L1297.77,80.39 L1298.57,80.29 L1299.37,80.20 L1300.17,80.12 L1300.98,80.06 L1301.78,80.02 L1302.57,80.00 L1303.36,80.02 L1304.16,80.11 L1304.95,80.26 L1305.74,80.45 L1306.52,80.67 L1307.28,80.88 L1308.03,81.13 L1308.78,81.43 L1309.51,81.77 L1310.24,82.13 L1310.95,82.50 L1311.65,82.88 L1312.33,83.28 L1313.00,83.70 L1313.66,84.14 L1314.32,84.60 L1314.96,85.07 L1315.60,85.56 L1316.24,86.05 L1316.87,86.55 L1317.51,87.06 L1318.14,87.56 L1318.77,88.06 L1319.41,88.55 L1320.05,89.03 L1320.69,89.51 L1321.33,89.99 L1321.97,90.48 L1322.60,90.96 L1323.24,91.45 L1323.88,91.93 L1324.51,92.42 L1325.15,92.90 L1325.78,93.39 L1326.42,93.88 L1327.05,94.37 L1327.69,94.86 L1328.32,95.35 L1328.95,95.83 L1329.59,96.32 L1330.22,96.81 L1330.86,97.30 L1331.49,97.79 L1332.12,98.28 L1332.75,98.78 L1333.38,99.27 L1334.01,99.76 L1334.64,100.26 L1335.27,100.75 L1335.91,101.24 L1336.55,101.72 L1337.19,102.20 L1337.83,102.68 L1338.48,103.14 L1339.13,103.61 L1339.78,104.07 L1340.44,104.53 L1341.10,104.98 L1341.76,105.43 L1342.43,105.88 L1343.09,106.32 L1343.76,106.77 L1344.42,107.21 L1345.09,107.66 L1345.76,108.10 L1346.42,108.55 L1347.08,109.01 L1347.74,109.47 L1348.40,109.95 L1349.05,110.42 L1349.71,110.89 L1350.37,111.35 L1351.04,111.81 L1351.71,112.24 L1352.39,112.65 L1353.08,113.04 L1353.78,113.40 L1354.49,113.73 L1355.22,114.07 L1355.96,114.42 L1356.70,114.76 L1357.46,115.09 L1358.22,115.39 L1358.98,115.65 L1359.76,115.88 L1360.53,116.05 L1361.31,116.17 L1362.09,116.22 L1362.88,116.26 L1363.67,116.30 L1364.47,116.33 L1365.28,116.36 L1366.09,116.38 L1366.89,116.39 L1367.70,116.40 L1368.50,116.40 L1369.30,116.40 L1370.10,116.39 L1370.90,116.38 L1371.70,116.37 L1372.50,116.35 L1373.30,116.33 L1374.10,116.31 L1374.90,116.28 L1375.70,116.24 L1376.50,116.20" fill="none" stroke="#ff0000" stroke-width="5.6" stroke-linecap="round" stroke-linejoin="round" stroke-dasharray="20.87 14.84 0.10 13.16 19.22 12.81 0.10 14.31 18.41 13.61 0.10 12.71 19.21 13.61 0.10 14.31 17.61 13.61 0.10 13.51 19.21 12.81 0.10 12.71 20.01 12.81 0.10 13.51 19.21 12.81 0.10 13.51 20.81 12.01 0.10 11.11 23.40 16.81 0.10 16.71 20.82 18.44 0.10 17.58 21.65 16.81 0.10 15.92 23.25 16.06 0.10 18.32 20.81 16.81 0.10 17.57 20.86 19.23 0.10 17.51 22.42 6.32 0.10 6.42 22.55 17.61 0.10 16.71 24.05 15.26 0.10 18.34 23.23 18.42 0.10 18.35 21.76 18.42 0.10 19.93 20.04 16.86 0.10 19.93 24.04 15.25 0.10 9.52 24.03 19.21 0.10 17.57 14.42 1408.71" stroke-dashoffset="-2.43"/>
</g>
<g clip-path="url(#cBL)">
<path d="M133.50,738.00 L133.94,738.68 L134.37,739.37 L134.79,740.06 L135.20,740.75 L135.59,741.45 L135.97,742.16 L136.32,742.87 L136.66,743.59 L136.97,744.32 L137.26,745.05 L137.53,745.80 L137.79,746.55 L138.04,747.30 L138.28,748.07 L138.52,748.83 L138.74,749.60 L138.96,750.38 L139.17,751.16 L139.38,751.94 L139.59,752.71 L139.80,753.49 L140.00,754.27 L140.21,755.05 L140.42,755.82 L140.64,756.59 L140.85,757.37 L141.06,758.14 L141.27,758.91 L141.48,759.69 L141.68,760.46 L141.89,761.23 L142.09,762.01 L142.29,762.78 L142.49,763.56 L142.69,764.34 L142.89,765.11 L143.08,765.89 L143.28,766.67 L143.47,767.45 L143.65,768.22 L143.84,769.00 L144.03,769.78 L144.21,770.56 L144.39,771.34 L144.56,772.12 L144.74,772.90 L144.91,773.68 L145.09,774.47 L145.26,775.25 L145.43,776.03 L145.59,776.81 L145.76,777.60 L145.92,778.38 L146.09,779.17 L146.25,779.95 L146.41,780.73 L146.58,781.52 L146.74,782.30 L146.90,783.09 L147.06,783.87 L147.22,784.66 L147.38,785.44 L147.54,786.23 L147.70,787.01 L147.87,787.79 L148.02,788.58 L148.18,789.36 L148.34,790.15 L148.50,790.93 L148.66,791.72 L148.81,792.50 L148.97,793.29 L149.12,794.08 L149.28,794.86 L149.43,795.65 L149.59,796.43 L149.74,797.22 L149.90,798.00 L150.05,798.79 L150.21,799.58 L150.36,800.36 L150.52,801.15 L150.67,801.93 L150.83,802.72 L150.98,803.50 L151.14,804.29 L151.29,805.08 L151.45,805.86 L151.60,806.65 L151.75,807.43 L151.90,808.22 L152.05,809.01 L152.20,809.80 L152.35,810.58 L152.50,811.37 L152.65,812.16 L152.81,812.94 L152.96,813.73 L153.11,814.52 L153.27,815.30 L153.42,816.09 L153.58,816.87 L153.74,817.66 L153.90,818.44 L154.06,819.22 L154.23,820.01 L154.40,820.79 L154.57,821.57 L154.75,822.35 L154.92,823.13 L155.10,823.91 L155.27,824.70 L155.45,825.48 L155.64,826.26 L155.82,827.04 L156.01,827.82 L156.19,828.60 L156.39,829.38 L156.58,830.16 L156.78,830.93 L156.98,831.71 L157.19,832.48 L157.40,833.25 L157.61,834.02 L157.83,834.79 L158.06,835.56 L158.28,836.36 L158.49,837.27 L158.70,838.25 L158.92,839.25 L159.14,840.25 L159.37,841.19 L159.63,842.06 L159.91,842.80 L160.23,843.38 L160.58,843.76 L160.98,843.90 L161.55,843.90 L162.34,843.90 L163.26,843.90 L164.18,843.90 L164.98,843.90 L165.64,843.81 L166.26,843.50 L166.85,843.00 L167.41,842.37 L167.95,841.66 L168.48,840.91 L169.01,840.17 L169.55,839.49 L170.09,838.89 L170.62,838.28 L171.14,837.67 L171.65,837.05 L172.17,836.42 L172.69,835.81 L173.21,835.21 L173.76,834.62 L174.32,834.07 L174.90,833.53 L175.51,832.98 L176.12,832.42 L176.76,831.89 L177.41,831.39 L178.07,830.95 L178.76,830.58 L179.46,830.30 L180.21,830.04 L180.98,829.80 L181.78,829.58 L182.58,829.42 L183.38,829.32 L184.17,829.31 L184.95,829.39 L185.73,829.55 L186.52,829.77 L187.30,830.02 L188.07,830.27 L188.83,830.50 L189.58,830.78 L190.32,831.09 L191.05,831.42 L191.79,831.76 L192.52,832.09 L193.26,832.40 L194.01,832.68 L194.77,832.91 L195.54,833.16 L196.32,833.40 L197.10,833.62 L197.89,833.79 L198.67,833.88 L199.46,833.89 L200.25,833.80 L201.04,833.65 L201.83,833.44 L202.61,833.20 L203.38,832.94 L204.11,832.69 L204.83,832.38 L205.54,832.03 L206.24,831.62 L206.93,831.19 L207.61,830.73 L208.28,830.26 L208.93,829.79 L209.58,829.31 L210.21,828.84 L210.83,828.33 L211.44,827.81 L212.03,827.27 L212.63,826.73 L213.22,826.18 L213.81,825.64 L214.41,825.10 L215.00,824.57 L215.59,824.02 L216.18,823.48 L216.77,822.93 L217.35,822.38 L217.94,821.84 L218.54,821.30 L219.14,820.78 L219.75,820.26 L220.37,819.76 L221.00,819.27 L221.64,818.78 L222.28,818.29 L222.93,817.82 L223.58,817.35 L224.25,816.90 L224.92,816.46 L225.59,816.04 L226.28,815.64 L226.97,815.23 L227.67,814.81 L228.38,814.41 L229.09,814.02 L229.82,813.66 L230.55,813.34 L231.30,813.07 L232.05,812.86 L232.82,812.67 L233.62,812.50 L234.42,812.37 L235.21,812.30 L236.00,812.32 L236.80,812.40 L237.60,812.53 L238.40,812.70 L239.19,812.90 L239.97,813.12 L240.73,813.35 L241.47,813.59 L242.19,813.88 L242.89,814.23 L243.59,814.64 L244.27,815.07 L244.95,815.53 L245.62,816.00 L246.29,816.46 L246.97,816.91 L247.63,817.36 L248.29,817.82 L248.94,818.31 L249.58,818.80 L250.22,819.29 L250.87,819.76 L251.53,820.22 L252.19,820.65 L252.88,821.04 L253.58,821.41 L254.30,821.80 L255.03,822.20 L255.78,822.57 L256.53,822.90 L257.29,823.17 L258.06,823.34 L258.83,823.40 L259.62,823.40 L260.42,823.40 L261.23,823.40 L262.04,823.40 L262.82,823.38 L263.60,823.27 L264.38,823.08 L265.15,822.84 L265.92,822.56 L266.68,822.27 L267.44,821.97 L268.20,821.70 L268.95,821.42 L269.69,821.11 L270.42,820.77 L271.15,820.43 L271.88,820.09 L272.62,819.77 L273.37,819.50 L274.12,819.27 L274.89,819.05 L275.67,818.83 L276.45,818.62 L277.24,818.43 L278.03,818.27 L278.82,818.16 L279.62,818.10 L280.41,818.10 L281.21,818.10 L282.01,818.10 L282.81,818.10 L283.62,818.10 L284.42,818.10 L285.22,818.10 L286.02,818.11 L286.82,818.18 L287.61,818.31 L288.40,818.44 L289.20,818.55 L290.00,818.60 L290.80,818.59 L291.60,818.57 L292.40,818.53 L293.20,818.47 L294.00,818.41 L294.80,818.35 L295.59,818.27 L296.38,818.15 L297.16,817.99 L297.95,817.79 L298.72,817.56 L299.49,817.31 L300.25,817.06 L301.00,816.79 L301.73,816.50 L302.46,816.16 L303.18,815.80 L303.89,815.42 L304.59,815.02 L305.29,814.62 L305.98,814.21 L306.66,813.80 L307.33,813.36 L307.99,812.91 L308.65,812.45 L309.30,811.98 L309.95,811.51 L310.61,811.05 L311.27,810.59 L311.93,810.14 L312.59,809.68 L313.24,809.21 L313.90,808.74 L314.56,808.29 L315.23,807.85 L315.91,807.43 L316.61,807.05 L317.31,806.68 L318.03,806.30 L318.76,805.93 L319.50,805.58 L320.25,805.27 L321.01,805.01 L321.77,804.84 L322.54,804.73 L323.34,804.63 L324.14,804.54 L324.95,804.47 L325.76,804.42 L326.55,804.40 L327.34,804.42 L328.14,804.54 L328.93,804.72 L329.72,804.96 L330.49,805.23 L331.23,805.52 L331.95,805.80 L332.65,806.15 L333.33,806.55 L333.99,807.00 L334.65,807.49 L335.29,808.00 L335.92,808.52 L336.55,809.04 L337.18,809.54 L337.79,810.05 L338.39,810.57 L338.99,811.11 L339.58,811.66 L340.16,812.21 L340.74,812.76 L341.33,813.31 L341.92,813.85 L342.51,814.39 L343.10,814.94 L343.69,815.49 L344.27,816.04 L344.86,816.59 L345.45,817.14 L346.05,817.67 L346.66,818.19 L347.28,818.68 L347.91,819.16 L348.56,819.63 L349.23,820.10 L349.90,820.56 L350.59,821.00 L351.28,821.41 L351.99,821.77 L352.71,822.09 L353.45,822.36 L354.21,822.64 L354.98,822.89 L355.77,823.11 L356.56,823.25 L357.35,823.30 L358.14,823.26 L358.93,823.16 L359.73,823.00 L360.53,822.81 L361.31,822.59 L362.08,822.36 L362.82,822.13 L363.55,821.84 L364.26,821.49 L364.97,821.09 L365.66,820.66 L366.34,820.20 L367.00,819.72 L367.65,819.25 L368.29,818.78 L368.91,818.29 L369.51,817.76 L370.10,817.22 L370.68,816.66 L371.26,816.09 L371.83,815.53 L372.42,814.98 L373.02,814.44 L373.63,813.93 L374.24,813.42 L374.87,812.91 L375.49,812.41 L376.12,811.91 L376.76,811.42 L377.40,810.94 L378.04,810.47 L378.69,810.00 L379.35,809.52 L380.00,809.01 L380.66,808.51 L381.33,808.05 L382.02,807.65 L382.72,807.35 L383.46,807.15 L384.23,806.96 L385.03,806.79 L385.83,806.65 L386.64,806.55 L387.45,806.50 L388.24,806.51 L389.04,806.58 L389.85,806.70 L390.65,806.85 L391.44,807.03 L392.20,807.22 L392.94,807.44 L393.66,807.73 L394.36,808.10 L395.05,808.53 L395.73,808.99 L396.40,809.46 L397.07,809.94 L397.74,810.40 L398.41,810.84 L399.07,811.29 L399.73,811.75 L400.38,812.21 L401.03,812.68 L401.68,813.15 L402.33,813.61 L403.00,814.06 L403.66,814.52 L404.32,815.00 L404.99,815.48 L405.65,815.95 L406.34,816.37 L407.04,816.72 L407.76,816.98 L408.51,817.22 L409.29,817.44 L410.08,817.65 L410.88,817.81 L411.68,817.93 L412.48,817.99 L413.27,817.98 L414.05,817.90 L414.84,817.75 L415.62,817.56 L416.41,817.35 L417.19,817.14 L417.97,816.95 L418.76,816.77 L419.54,816.57 L420.32,816.35 L421.10,816.15 L421.89,815.97 L422.67,815.85 L423.46,815.80 L424.26,815.80 L425.06,815.80 L425.87,815.80 L426.68,815.80 L427.48,815.80 L428.28,815.80 L429.06,815.80 L429.85,815.88 L430.63,816.04 L431.41,816.28 L432.18,816.56 L432.94,816.87 L433.69,817.19 L434.41,817.49 L435.12,817.84 L435.81,818.23 L436.49,818.67 L437.16,819.12 L437.83,819.57 L438.51,820.02 L439.20,820.43 L439.90,820.82 L440.60,821.23 L441.31,821.65 L442.02,822.06 L442.74,822.44 L443.47,822.77 L444.21,823.04 L444.96,823.21 L445.73,823.34 L446.53,823.46 L447.33,823.57 L448.15,823.66 L448.96,823.73 L449.76,823.78 L450.55,823.80 L451.32,823.75 L452.08,823.59 L452.84,823.32 L453.59,822.98 L454.33,822.60 L455.06,822.20 L455.78,821.82 L456.47,821.45 L457.15,821.04 L457.81,820.59 L458.47,820.12 L459.11,819.64 L459.76,819.16 L460.41,818.68 L461.07,818.22 L461.74,817.77 L462.41,817.31 L463.08,816.82 L463.75,816.34 L464.43,815.88 L465.11,815.46 L465.82,815.11 L466.54,814.85 L467.28,814.65 L468.05,814.47 L468.84,814.30 L469.64,814.14 L470.45,814.01 L471.26,813.91 L472.06,813.84 L472.86,813.80 L473.64,813.82 L474.41,813.93 L475.19,814.11 L475.97,814.35 L476.74,814.63 L477.50,814.94 L478.26,815.27 L479.00,815.59 L479.73,815.90 L480.44,816.24 L481.13,816.63 L481.81,817.05 L482.49,817.50 L483.16,817.95 L483.84,818.40 L484.52,818.83 L485.21,819.24 L485.91,819.61 L486.63,819.98 L487.36,820.37 L488.10,820.77 L488.84,821.16 L489.58,821.52 L490.33,821.82 L491.09,822.05 L491.84,822.18 L492.60,822.19 L493.38,822.11 L494.17,821.94 L494.97,821.71 L495.76,821.43 L496.53,821.12 L497.26,820.80 L497.94,820.48 L498.59,820.10 L499.22,819.66 L499.83,819.16 L500.42,818.61 L501.00,818.03 L501.57,817.43 L502.13,816.81 L502.70,816.20 L503.27,815.61 L503.85,815.03 L504.44,814.49 L505.02,813.93 L505.59,813.35 L506.16,812.77 L506.73,812.19 L507.30,811.62 L507.88,811.06 L508.47,810.51 L509.06,809.99 L509.68,809.49 L510.31,809.03 L510.96,808.59 L511.64,808.15 L512.33,807.71 L513.05,807.30 L513.77,806.92 L514.51,806.59 L515.26,806.34 L516.01,806.16 L516.79,806.00 L517.59,805.87 L518.39,805.77 L519.20,805.71 L519.99,805.71 L520.79,805.78 L521.60,805.92 L522.40,806.10 L523.18,806.32 L523.94,806.55 L524.66,806.79 L525.36,807.11 L526.03,807.52 L526.69,807.98 L527.34,808.49 L527.97,809.02 L528.60,809.57 L529.22,810.10 L529.84,810.61 L530.45,811.13 L531.05,811.66 L531.63,812.20 L532.22,812.75 L532.79,813.31 L533.37,813.87 L533.94,814.43 L534.53,814.99 L535.11,815.53 L535.71,816.07 L536.32,816.59 L536.93,817.12 L537.53,817.67 L538.14,818.22 L538.76,818.76 L539.39,819.28 L540.03,819.75 L540.69,820.18 L541.37,820.54 L542.08,820.86 L542.82,821.18 L543.59,821.49 L544.38,821.76 L545.17,821.98 L545.96,822.14 L546.72,822.20 L547.48,822.14 L548.25,821.97 L549.01,821.70 L549.77,821.35 L550.52,820.97 L551.25,820.57 L551.95,820.18 L552.62,819.79 L553.27,819.35 L553.90,818.87 L554.52,818.35 L555.13,817.81 L555.74,817.27 L556.35,816.73 L556.97,816.21 L557.60,815.72 L558.24,815.24 L558.88,814.74 L559.53,814.25 L560.17,813.76 L560.83,813.30 L561.49,812.85 L562.17,812.44 L562.86,812.07 L563.57,811.72 L564.30,811.39 L565.04,811.08 L565.80,810.78 L566.56,810.51 L567.32,810.26 L568.09,810.03 L568.86,809.83 L569.63,809.63 L570.42,809.45 L571.20,809.28 L571.99,809.13 L572.78,809.00 L573.58,808.89 L574.37,808.79 L575.16,808.68 L575.96,808.59 L576.76,808.51 L577.56,808.45 L578.36,808.41 L579.16,808.40 L579.96,808.42 L580.76,808.45 L581.57,808.49 L582.37,808.54 L583.17,808.61 L583.96,808.68 L584.75,808.77 L585.53,808.91 L586.31,809.10 L587.08,809.32 L587.85,809.55 L588.63,809.78 L589.41,809.98 L590.19,810.15 L590.97,810.32 L591.76,810.48 L592.54,810.64 L593.33,810.81 L594.11,810.98 L594.89,811.17 L595.66,811.38 L596.43,811.60 L597.19,811.83 L597.96,812.08 L598.72,812.33 L599.48,812.60 L600.23,812.87 L600.97,813.16 L601.70,813.48 L602.43,813.81 L603.16,814.16 L603.88,814.50 L604.61,814.84 L605.35,815.16 L606.09,815.46 L606.83,815.78 L607.58,816.11 L608.33,816.43 L609.08,816.72 L609.84,816.96 L610.61,817.14 L611.38,817.25 L612.17,817.34 L612.97,817.42 L613.77,817.49 L614.58,817.54 L615.38,817.58 L616.18,817.60 L616.98,817.59 L617.78,817.53 L618.58,817.44 L619.38,817.32 L620.17,817.18 L620.96,817.04 L621.74,816.89 L622.52,816.73 L623.29,816.52 L624.06,816.30 L624.83,816.05 L625.59,815.79 L626.35,815.52 L627.11,815.26 L627.86,815.00 L628.61,814.72 L629.36,814.43 L630.10,814.13 L630.84,813.83 L631.59,813.53 L632.33,813.23 L633.07,812.93 L633.81,812.62 L634.55,812.31 L635.29,812.00 L636.03,811.69 L636.77,811.38 L637.51,811.08 L638.25,810.77 L638.99,810.45 L639.73,810.11 L640.47,809.79 L641.21,809.48 L641.96,809.21 L642.72,808.99 L643.49,808.82 L644.27,808.66 L645.06,808.50 L645.85,808.36 L646.65,808.23 L647.45,808.12 L648.25,808.05 L649.05,808.01 L649.84,808.01 L650.64,808.06 L651.43,808.15 L652.22,808.29 L653.01,808.45 L653.80,808.62 L654.59,808.81 L655.37,808.99 L656.15,809.16 L656.93,809.36 L657.70,809.59 L658.47,809.83 L659.24,810.08 L660.01,810.32 L660.78,810.53 L661.56,810.69 L662.34,810.80 L663.13,810.88 L663.93,810.96 L664.73,811.02 L665.53,811.08 L666.33,811.13 L667.14,811.17 L667.94,811.19 L668.74,811.20 L669.54,811.19 L670.34,811.16 L671.14,811.11 L671.94,811.06 L672.74,810.99 L673.54,810.93 L674.33,810.86 L675.13,810.80 L675.93,810.72 L676.73,810.63 L677.53,810.53 L678.33,810.43 L679.13,810.36 L679.92,810.31 L680.71,810.31 L681.50,810.38 L682.29,810.53 L683.07,810.73 L683.85,810.96 L684.63,811.21 L685.39,811.47 L686.14,811.72 L686.88,812.02 L687.60,812.38 L688.32,812.75 L689.04,813.13 L689.76,813.49 L690.50,813.80 L691.25,814.04 L692.01,814.26 L692.79,814.49 L693.57,814.70 L694.36,814.89 L695.16,815.06 L695.95,815.19 L696.74,815.27 L697.53,815.30 L698.32,815.26 L699.11,815.16 L699.91,815.01 L700.70,814.82 L701.49,814.61 L702.26,814.39 L703.02,814.16 L703.76,813.90 L704.48,813.59 L705.20,813.23 L705.91,812.84 L706.62,812.45 L707.33,812.05 L708.05,811.68 L708.76,811.31 L709.47,810.93 L710.18,810.54 L710.88,810.16 L711.60,809.78 L712.31,809.43 L713.04,809.11 L713.78,808.83 L714.55,808.54 L715.32,808.27 L716.10,808.07 L716.87,808.00 L717.65,808.09 L718.43,808.29 L719.20,808.57 L719.96,808.91 L720.69,809.25 L721.39,809.60 L722.07,810.00 L722.74,810.45 L723.38,810.94 L724.01,811.47 L724.63,812.00 L725.23,812.53 L725.80,813.07 L726.35,813.65 L726.89,814.24 L727.41,814.86 L727.92,815.48 L728.43,816.11 L728.95,816.73 L729.48,817.34 L730.02,817.92 L730.58,818.48 L731.16,819.03 L731.76,819.58 L732.36,820.14 L732.97,820.68 L733.60,821.20 L734.24,821.69 L734.89,822.15 L735.56,822.56 L736.24,822.92 L736.95,823.29 L737.68,823.66 L738.43,824.02 L739.19,824.35 L739.97,824.65 L740.74,824.88 L741.52,825.03 L742.29,825.10 L743.06,825.07 L743.84,824.95 L744.63,824.78 L745.42,824.55 L746.20,824.30 L746.97,824.04 L747.73,823.79 L748.48,823.53 L749.22,823.24 L749.95,822.92 L750.67,822.58 L751.39,822.22 L752.10,821.83 L752.81,821.42 L753.50,821.00" fill="none" stroke="#000" stroke-width="5.6" stroke-linecap="round" stroke-linejoin="round"/>
<path d="M134.20,733.00 L134.53,733.73 L134.86,734.46 L135.19,735.19 L135.52,735.92 L135.86,736.64 L136.20,737.37 L136.54,738.09 L136.90,738.81 L137.28,739.52 L137.66,740.23 L138.05,740.94 L138.43,741.65 L138.79,742.37 L139.14,743.09 L139.45,743.82 L139.72,744.56 L139.96,745.30 L140.19,746.06 L140.41,746.83 L140.62,747.59 L140.82,748.37 L141.01,749.15 L141.19,749.93 L141.37,750.72 L141.54,751.51 L141.71,752.29 L141.88,753.08 L142.04,753.87 L142.21,754.66 L142.38,755.44 L142.55,756.23 L142.72,757.01 L142.89,757.79 L143.05,758.57 L143.21,759.36 L143.37,760.14 L143.53,760.93 L143.69,761.71 L143.84,762.50 L144.00,763.28 L144.15,764.07 L144.30,764.85 L144.46,765.64 L144.61,766.43 L144.76,767.21 L144.92,768.00 L145.07,768.78 L145.23,769.57 L145.39,770.35 L145.55,771.14 L145.71,771.92 L145.88,772.70 L146.04,773.49 L146.21,774.27 L146.38,775.05 L146.56,775.83 L146.73,776.62 L146.90,777.40 L147.07,778.18 L147.25,778.96 L147.42,779.75 L147.59,780.53 L147.76,781.31 L147.93,782.09 L148.10,782.88 L148.26,783.66 L148.42,784.44 L148.58,785.23 L148.74,786.01 L148.89,786.80 L149.04,787.58 L149.19,788.37 L149.33,789.16 L149.47,789.94 L149.60,790.73 L149.74,791.52 L149.87,792.31 L150.00,793.10 L150.12,793.89 L150.25,794.68 L150.37,795.47 L150.50,796.26 L150.62,797.05 L150.74,797.84 L150.86,798.64 L150.98,799.43 L151.09,800.22 L151.21,801.01 L151.33,801.81 L151.44,802.60 L151.55,803.39 L151.67,804.18 L151.78,804.98 L151.89,805.77 L152.01,806.56 L152.12,807.35 L152.23,808.15 L152.35,808.94 L152.46,809.73 L152.57,810.52 L152.69,811.32 L152.79,812.11 L152.90,812.91 L153.00,813.70 L153.10,814.50 L153.20,815.29 L153.30,816.09 L153.40,816.88 L153.49,817.68 L153.59,818.48 L153.69,819.27 L153.78,820.07 L153.88,820.86 L153.98,821.66 L154.08,822.46 L154.18,823.25 L154.28,824.04 L154.39,824.84 L154.50,825.63 L154.61,826.42 L154.72,827.21 L154.84,828.01 L154.96,828.79 L155.09,829.58 L155.21,830.37 L155.35,831.16 L155.49,831.94 L155.63,832.73 L155.77,833.53 L155.92,834.34 L156.07,835.15 L156.22,835.96 L156.38,836.78 L156.55,837.59 L156.72,838.39 L156.91,839.19 L157.11,839.97 L157.32,840.75 L157.55,841.50 L157.79,842.24 L158.06,842.96 L158.34,843.65 L158.66,844.33 L159.10,845.10 L159.64,845.90 L160.24,846.62 L160.84,847.18 L161.41,847.47 L161.93,847.43 L162.45,847.09 L162.99,846.51 L163.51,845.77 L164.01,844.94 L164.46,844.09 L164.86,843.30 L165.19,842.59 L165.50,841.89 L165.79,841.16 L166.06,840.42 L166.32,839.67 L166.56,838.91 L166.80,838.14 L167.02,837.36 L167.23,836.58 L167.44,835.79 L167.65,835.00 L167.85,834.21 L168.05,833.42 L168.26,832.63 L168.47,831.85 L168.68,831.08 L168.89,830.31 L169.10,829.53 L169.31,828.76 L169.52,827.99 L169.72,827.21 L169.92,826.44 L170.12,825.66 L170.32,824.89 L170.52,824.11 L170.71,823.34 L170.90,822.56 L171.10,821.78 L171.29,821.00 L171.49,820.23 L171.68,819.45 L171.88,818.68 L172.08,817.90 L172.27,817.12 L172.45,816.33 L172.62,815.54 L172.79,814.75 L172.96,813.95 L173.13,813.15 L173.30,812.35 L173.46,811.56 L173.63,810.76 L173.81,809.97 L173.99,809.19 L174.18,808.40 L174.38,807.63 L174.58,806.86 L174.80,806.10 L175.04,805.36 L175.28,804.62 L175.55,803.89 L175.83,803.17 L176.15,802.43 L176.51,801.66 L176.90,800.89 L177.32,800.13 L177.78,799.40 L178.26,798.72 L178.76,798.10 L179.29,797.55 L179.84,797.11 L180.43,796.74 L181.10,796.38 L181.84,796.03 L182.63,795.71 L183.44,795.44 L184.26,795.22 L185.08,795.07 L185.86,795.00 L186.61,795.08 L187.35,795.36 L188.09,795.76 L188.83,796.20 L189.57,796.61 L190.31,796.90 L191.07,797.00 L191.86,796.94 L192.68,796.78 L193.50,796.56 L194.31,796.28 L195.05,795.97 L195.71,795.65 L196.28,795.29 L196.80,794.83 L197.30,794.27 L197.76,793.65 L198.21,792.96 L198.63,792.23 L199.04,791.47 L199.45,790.69 L199.86,789.92 L200.28,789.17 L200.71,788.45 L201.15,787.77 L201.59,787.09 L202.01,786.39 L202.43,785.67 L202.84,784.95 L203.25,784.23 L203.68,783.53 L204.11,782.84 L204.56,782.18 L205.03,781.55 L205.53,780.97 L206.05,780.43 L206.62,779.93 L207.25,779.39 L207.92,778.85 L208.62,778.35 L209.35,777.94 L210.10,777.64 L210.84,777.50 L211.60,777.51 L212.40,777.55 L213.22,777.62 L214.04,777.70 L214.86,777.81 L215.64,777.94 L216.37,778.09 L217.08,778.39 L217.77,778.81 L218.44,779.30 L219.10,779.82 L219.75,780.32 L220.40,780.79 L221.05,781.26 L221.68,781.74 L222.32,782.24 L222.94,782.75 L223.56,783.26 L224.17,783.78 L224.77,784.31 L225.36,784.84 L225.94,785.39 L226.51,785.96 L227.07,786.53 L227.62,787.12 L228.17,787.71 L228.72,788.29 L229.27,788.87 L229.84,789.44 L230.42,789.98 L231.01,790.51 L231.62,791.03 L232.23,791.57 L232.85,792.10 L233.48,792.64 L234.11,793.16 L234.75,793.66 L235.41,794.14 L236.07,794.59 L236.75,794.99 L237.44,795.35 L238.14,795.66 L238.90,795.96 L239.69,796.25 L240.51,796.52 L241.32,796.75 L242.09,796.92 L242.81,797.00 L243.47,796.94 L244.12,796.68 L244.75,796.24 L245.36,795.66 L245.95,794.99 L246.50,794.25 L247.03,793.50 L247.51,792.76 L247.95,792.07 L248.35,791.43 L248.72,790.75 L249.06,790.05 L249.37,789.33 L249.67,788.59 L249.96,787.83 L250.23,787.06 L250.49,786.28 L250.76,785.50 L251.02,784.72 L251.29,783.95 L251.57,783.18 L251.87,782.42 L252.18,781.67 L252.51,780.95 L252.87,780.25 L253.25,779.54 L253.65,778.75 L254.07,777.91 L254.51,777.06 L254.98,776.23 L255.46,775.48 L255.97,774.84 L256.51,774.36 L257.07,774.07 L257.67,774.01 L258.37,774.10 L259.17,774.31 L260.01,774.59 L260.83,774.92 L261.58,775.27 L262.21,775.62 L262.79,776.03 L263.33,776.50 L263.86,777.04 L264.36,777.63 L264.84,778.26 L265.31,778.94 L265.76,779.64 L266.21,780.36 L266.64,781.10 L267.07,781.85 L267.50,782.60 L267.93,783.33 L268.36,784.05 L268.80,784.75 L269.25,785.42 L269.69,786.09 L270.12,786.76 L270.55,787.44 L270.97,788.13 L271.39,788.82 L271.80,789.51 L272.21,790.20 L272.62,790.89 L273.04,791.58 L273.46,792.26 L273.88,792.94 L274.32,793.61 L274.76,794.28 L275.21,794.93 L275.68,795.57 L276.16,796.21 L276.65,796.88 L277.16,797.60 L277.69,798.36 L278.22,799.13 L278.76,799.91 L279.32,800.69 L279.87,801.44 L280.44,802.15 L281.00,802.82 L281.57,803.42 L282.14,803.95 L282.70,804.38 L283.26,804.71 L283.82,804.92 L284.37,805.00 L284.92,804.89 L285.47,804.55 L286.03,804.03 L286.58,803.37 L287.13,802.63 L287.68,801.85 L288.21,801.08 L288.73,800.35 L289.23,799.72 L289.72,799.09 L290.22,798.46 L290.71,797.82 L291.19,797.17 L291.67,796.52 L292.14,795.86 L292.59,795.20 L293.03,794.53 L293.46,793.85 L293.87,793.16 L294.25,792.47 L294.62,791.78 L294.97,791.07 L295.31,790.35 L295.63,789.63 L295.95,788.89 L296.25,788.15 L296.55,787.41 L296.84,786.66 L297.13,785.91 L297.42,785.15 L297.70,784.40 L297.98,783.64 L298.27,782.89 L298.55,782.13 L298.85,781.39 L299.14,780.64 L299.43,779.89 L299.70,779.12 L299.97,778.34 L300.23,777.56 L300.49,776.78 L300.74,775.99 L301.00,775.21 L301.26,774.43 L301.52,773.65 L301.80,772.89 L302.08,772.13 L302.37,771.39 L302.68,770.67 L303.01,769.96 L303.36,769.28 L303.72,768.61 L304.11,767.98 L304.55,767.31 L305.04,766.60 L305.58,765.86 L306.16,765.14 L306.78,764.47 L307.41,763.87 L308.05,763.39 L308.70,763.06 L309.34,762.91 L310.01,762.98 L310.73,763.28 L311.47,763.73 L312.18,764.27 L312.81,764.82 L313.34,765.35 L313.81,765.94 L314.25,766.58 L314.66,767.28 L315.05,768.00 L315.43,768.74 L315.80,769.48 L316.19,770.22 L316.59,770.93 L317.01,771.61 L317.43,772.29 L317.85,772.97 L318.27,773.66 L318.69,774.34 L319.11,775.02 L319.53,775.71 L319.95,776.39 L320.38,777.07 L320.81,777.74 L321.25,778.41 L321.69,779.08 L322.13,779.74 L322.58,780.40 L323.04,781.06 L323.50,781.74 L323.97,782.49 L324.43,783.28 L324.91,784.09 L325.38,784.92 L325.86,785.76 L326.35,786.58 L326.84,787.38 L327.33,788.14 L327.83,788.85 L328.34,789.50 L328.86,790.06 L329.38,790.54 L329.91,790.91 L330.45,791.17 L331.00,791.29 L331.56,791.26 L332.14,791.03 L332.73,790.63 L333.34,790.11 L333.97,789.51 L334.60,788.84 L335.23,788.16 L335.87,787.50 L336.51,786.90 L337.15,786.39 L337.78,785.86 L338.42,785.28 L339.06,784.68 L339.70,784.08 L340.34,783.50 L340.99,782.96 L341.66,782.49 L342.34,782.11 L343.03,781.85 L343.73,781.71 L344.49,781.72 L345.33,781.81 L346.21,781.97 L347.04,782.17 L347.74,782.39 L348.27,782.64 L348.74,783.01 L349.17,783.49 L349.56,784.06 L349.93,784.72 L350.28,785.46 L350.60,786.25 L350.91,787.08 L351.21,787.95 L351.50,788.83 L351.79,789.71 L352.08,790.59 L352.38,791.44 L352.68,792.25 L353.00,793.01 L353.32,793.74 L353.63,794.50 L353.93,795.26 L354.21,796.03 L354.49,796.81 L354.77,797.59 L355.05,798.37 L355.32,799.15 L355.60,799.92 L355.89,800.68 L356.19,801.44 L356.50,802.18 L356.82,802.90 L357.16,803.60 L357.52,804.28 L357.90,804.93 L358.30,805.56 L358.75,806.18 L359.25,806.85 L359.81,807.55 L360.40,808.25 L361.03,808.93 L361.69,809.56 L362.35,810.13 L363.02,810.62 L363.68,810.99 L364.32,811.22 L364.93,811.30 L365.53,811.13 L366.14,810.70 L366.75,810.09 L367.34,809.39 L367.92,808.68 L368.47,808.03 L369.01,807.44 L369.56,806.84 L370.09,806.22 L370.61,805.58 L371.09,804.94 L371.54,804.28 L371.94,803.60 L372.29,802.92 L372.60,802.21 L372.90,801.48 L373.17,800.74 L373.43,799.99 L373.68,799.22 L373.91,798.45 L374.14,797.67 L374.36,796.89 L374.58,796.10 L374.81,795.32 L375.03,794.54 L375.26,793.76 L375.50,793.00 L375.74,792.23 L375.98,791.46 L376.20,790.69 L376.43,789.92 L376.65,789.14 L376.87,788.37 L377.09,787.59 L377.31,786.82 L377.54,786.05 L377.77,785.28 L378.01,784.52 L378.25,783.76 L378.51,783.00 L378.78,782.25 L379.06,781.51 L379.35,780.78 L379.65,780.01 L379.96,779.17 L380.29,778.29 L380.62,777.37 L380.96,776.45 L381.32,775.52 L381.69,774.61 L382.07,773.73 L382.47,772.89 L382.87,772.12 L383.30,771.42 L383.74,770.81 L384.20,770.31 L384.67,769.93 L385.16,769.69 L385.67,769.60 L386.24,769.67 L386.92,769.89 L387.66,770.23 L388.43,770.66 L389.21,771.16 L389.96,771.69 L390.65,772.22 L391.24,772.74 L391.74,773.25 L392.21,773.81 L392.66,774.40 L393.08,775.04 L393.49,775.70 L393.87,776.40 L394.24,777.12 L394.60,777.86 L394.95,778.61 L395.30,779.37 L395.64,780.14 L395.98,780.92 L396.33,781.69 L396.68,782.45 L397.04,783.20 L397.41,783.93 L397.80,784.65 L398.20,785.35 L398.59,786.14 L398.96,786.99 L399.33,787.88 L399.71,788.79 L400.09,789.67 L400.48,790.51 L400.89,791.28 L401.32,791.93 L401.79,792.46 L402.29,792.82 L402.83,792.99 L403.47,793.00 L404.29,792.98 L405.18,792.96 L406.03,792.93 L406.71,792.87 L407.31,792.63 L407.85,792.18 L408.37,791.58 L408.86,790.87 L409.33,790.08 L409.80,789.28 L410.28,788.50 L410.77,787.78 L411.29,787.16 L411.81,786.56 L412.33,785.95 L412.85,785.34 L413.38,784.74 L413.91,784.13 L414.44,783.53 L414.97,782.94 L415.51,782.34 L416.05,781.76 L416.59,781.14 L417.13,780.47 L417.66,779.75 L418.19,779.00 L418.73,778.24 L419.26,777.49 L419.80,776.75 L420.35,776.06 L420.91,775.42 L421.48,774.85 L422.06,774.37 L422.65,773.99 L423.26,773.73 L423.90,773.61 L424.56,773.63 L425.28,773.77 L426.04,774.00 L426.82,774.31 L427.61,774.68 L428.38,775.07 L429.13,775.49 L429.82,775.89 L430.46,776.30 L431.07,776.77 L431.65,777.29 L432.22,777.85 L432.77,778.44 L433.31,779.06 L433.85,779.68 L434.39,780.31 L434.94,780.92 L435.50,781.51 L436.07,782.07 L436.66,782.65 L437.24,783.28 L437.82,783.94 L438.40,784.63 L438.99,785.32 L439.58,786.01 L440.17,786.68 L440.77,787.31 L441.37,787.90 L441.99,788.43 L442.61,788.89 L443.24,789.25 L443.89,789.52 L444.55,789.67 L445.23,789.69 L445.92,789.60 L446.64,789.41 L447.38,789.15 L448.14,788.83 L448.90,788.47 L449.68,788.10 L450.46,787.72 L451.25,787.36 L452.03,787.04 L452.82,786.78 L453.60,786.60 L454.36,786.51 L455.12,786.54 L455.88,786.70 L456.63,786.97 L457.39,787.31 L458.14,787.68 L458.90,788.06 L459.66,788.40 L460.42,788.68 L461.19,788.85 L461.96,788.90 L462.75,788.88 L463.54,788.84 L464.34,788.78 L465.14,788.70 L465.95,788.61 L466.75,788.50 L467.55,788.39 L468.35,788.26 L469.14,788.14 L469.93,788.01 L470.70,787.87 L471.47,787.70 L472.23,787.50 L472.99,787.27 L473.75,787.02 L474.50,786.76 L475.25,786.47 L476.00,786.18 L476.75,785.87 L477.50,785.56 L478.25,785.25 L478.99,784.93 L479.74,784.63 L480.49,784.32 L481.25,784.03 L482.00,783.76 L482.76,783.50 L483.53,783.26 L484.29,783.03 L485.06,782.81 L485.83,782.59 L486.60,782.37 L487.37,782.15 L488.15,781.95 L488.92,781.74 L489.70,781.54 L490.48,781.35 L491.25,781.17 L492.03,780.99 L492.82,780.83 L493.61,780.68 L494.40,780.54 L495.19,780.41 L495.99,780.28 L496.78,780.15 L497.58,780.01 L498.37,779.87 L499.15,779.72 L499.93,779.56 L500.70,779.38 L501.46,779.17 L502.21,778.92 L502.95,778.64 L503.68,778.33 L504.41,778.00 L505.14,777.64 L505.86,777.28 L506.59,776.92 L507.31,776.55 L508.04,776.20 L508.77,775.86 L509.51,775.54 L510.25,775.25 L511.00,775.00 L511.76,774.75 L512.53,774.49 L513.31,774.23 L514.09,773.99 L514.87,773.78 L515.65,773.62 L516.44,773.52 L517.22,773.50 L518.04,773.55 L518.88,773.66 L519.72,773.80 L520.52,773.99 L521.27,774.19 L521.93,774.41 L522.52,774.72 L523.07,775.16 L523.59,775.71 L524.08,776.35 L524.54,777.05 L525.00,777.80 L525.45,778.57 L525.90,779.33 L526.35,780.07 L526.82,780.76 L527.31,781.40 L527.79,782.04 L528.28,782.68 L528.75,783.33 L529.23,783.97 L529.71,784.61 L530.19,785.26 L530.68,785.89 L531.17,786.53 L531.66,787.16 L532.16,787.78 L532.67,788.39 L533.19,789.00 L533.71,789.60 L534.24,790.20 L534.78,790.80 L535.32,791.39 L535.87,791.98 L536.42,792.56 L536.99,793.14 L537.55,793.71 L538.12,794.27 L538.70,794.82 L539.29,795.36 L539.88,795.89 L540.48,796.43 L541.08,797.01 L541.68,797.61 L542.29,798.22 L542.91,798.83 L543.53,799.43 L544.16,800.00 L544.81,800.52 L545.46,800.99 L546.13,801.39 L546.81,801.70 L547.51,801.91 L548.22,802.02 L548.97,802.09 L549.75,802.14 L550.55,802.18 L551.37,802.21 L552.20,802.24 L553.02,802.28 L553.84,802.33 L554.64,802.39 L555.43,802.52 L556.22,802.72 L557.02,802.98 L557.80,803.26 L558.58,803.52 L559.35,803.73 L560.10,803.87 L560.83,803.89 L561.54,803.74 L562.24,803.43 L562.93,803.00 L563.60,802.49 L564.27,801.93 L564.93,801.36 L565.58,800.82 L566.22,800.34 L566.87,799.86 L567.51,799.38 L568.15,798.88 L568.78,798.37 L569.40,797.86 L570.01,797.33 L570.61,796.79 L571.19,796.24 L571.75,795.68 L572.29,795.11 L572.81,794.52 L573.31,793.92 L573.79,793.29 L574.26,792.65 L574.71,791.99 L575.16,791.33 L575.59,790.65 L576.03,789.97 L576.46,789.28 L576.89,788.59 L577.32,787.91 L577.75,787.22 L578.19,786.54 L578.64,785.87 L579.09,785.21 L579.57,784.57 L580.05,783.93 L580.55,783.31 L581.04,782.68 L581.55,782.05 L582.05,781.43 L582.56,780.80 L583.08,780.18 L583.60,779.56 L584.13,778.95 L584.66,778.35 L585.20,777.75 L585.75,777.17 L586.31,776.59 L586.87,776.02 L587.44,775.47 L588.02,774.93 L588.61,774.41 L589.21,773.88 L589.82,773.35 L590.45,772.82 L591.09,772.31 L591.74,771.83 L592.41,771.37 L593.09,770.96 L593.78,770.60 L594.49,770.28 L595.23,769.96 L595.99,769.64 L596.76,769.34 L597.55,769.07 L598.33,768.85 L599.11,768.69 L599.88,768.61 L600.64,768.62 L601.42,768.72 L602.20,768.90 L602.99,769.16 L603.78,769.47 L604.55,769.82 L605.30,770.21 L606.03,770.62 L606.71,771.03 L607.36,771.44 L607.96,771.85 L608.53,772.32 L609.08,772.83 L609.61,773.39 L610.12,773.99 L610.61,774.62 L611.09,775.28 L611.56,775.96 L612.03,776.66 L612.49,777.36 L612.95,778.07 L613.41,778.77 L613.88,779.46 L614.35,780.14 L614.83,780.79 L615.33,781.42 L615.81,782.08 L616.29,782.75 L616.75,783.45 L617.22,784.15 L617.68,784.86 L618.14,785.57 L618.60,786.28 L619.06,786.98 L619.53,787.67 L620.01,788.35 L620.49,789.02 L620.98,789.66 L621.48,790.27 L622.00,790.85 L622.53,791.40 L623.08,791.91 L623.64,792.37 L624.23,792.79 L624.85,793.18 L625.50,793.57 L626.20,793.96 L626.92,794.34 L627.67,794.72 L628.44,795.08 L629.23,795.41 L630.02,795.71 L630.82,795.97 L631.62,796.19 L632.40,796.35 L633.18,796.46 L633.94,796.50 L634.68,796.47 L635.44,796.37 L636.20,796.20 L636.96,795.97 L637.72,795.70 L638.49,795.38 L639.24,795.02 L640.00,794.64 L640.74,794.24 L641.47,793.82 L642.19,793.39 L642.90,792.96 L643.58,792.54 L644.25,792.13 L644.89,791.72 L645.52,791.27 L646.14,790.79 L646.74,790.29 L647.33,789.76 L647.91,789.21 L648.48,788.64 L649.05,788.06 L649.61,787.47 L650.17,786.88 L650.73,786.28 L651.30,785.68 L651.86,785.09 L652.43,784.50 L653.00,783.93 L653.59,783.37 L654.18,782.84 L654.78,782.30 L655.37,781.76 L655.96,781.21 L656.56,780.66 L657.15,780.12 L657.74,779.57 L658.34,779.03 L658.94,778.48 L659.54,777.95 L660.14,777.42 L660.75,776.90 L661.36,776.38 L661.98,775.88 L662.61,775.38 L663.24,774.90 L663.88,774.44 L664.53,773.98 L665.18,773.54 L665.85,773.07 L666.53,772.57 L667.22,772.06 L667.92,771.55 L668.62,771.05 L669.33,770.57 L670.04,770.11 L670.76,769.70 L671.48,769.34 L672.20,769.03 L672.92,768.80 L673.64,768.66 L674.36,768.60 L675.09,768.64 L675.85,768.78 L676.62,768.99 L677.40,769.27 L678.18,769.61 L678.95,770.00 L679.71,770.42 L680.44,770.86 L681.14,771.32 L681.79,771.77 L682.40,772.22 L682.95,772.68 L683.47,773.20 L683.96,773.77 L684.43,774.39 L684.87,775.05 L685.30,775.74 L685.72,776.46 L686.13,777.19 L686.54,777.92 L686.96,778.66 L687.38,779.39 L687.81,780.10 L688.26,780.79 L688.74,781.44 L689.24,782.06 L689.75,782.66 L690.29,783.25 L690.84,783.83 L691.40,784.40 L691.97,784.97 L692.55,785.53 L693.13,786.08 L693.71,786.63 L694.30,787.18 L694.89,787.73 L695.47,788.28 L696.05,788.84 L696.62,789.42 L697.19,790.03 L697.75,790.64 L698.32,791.26 L698.89,791.87 L699.47,792.46 L700.05,793.03 L700.65,793.57 L701.26,794.06 L701.89,794.50 L702.54,794.88 L703.21,795.19 L703.92,795.49 L704.67,795.79 L705.44,796.07 L706.23,796.33 L707.03,796.56 L707.84,796.75 L708.64,796.90 L709.42,796.98 L710.19,797.00 L710.96,796.93 L711.73,796.79 L712.49,796.58 L713.26,796.31 L714.03,796.00 L714.78,795.65 L715.53,795.28 L716.27,794.90 L717.00,794.52 L717.71,794.15 L718.40,793.79 L719.08,793.40 L719.75,792.99 L720.41,792.55 L721.06,792.08 L721.70,791.60 L722.34,791.10 L722.97,790.59 L723.60,790.08 L724.22,789.56 L724.85,789.04 L725.47,788.52 L726.10,788.02 L726.73,787.52 L727.35,787.02 L727.97,786.50 L728.58,785.98 L729.18,785.45 L729.79,784.92 L730.39,784.39 L730.99,783.86 L731.60,783.33 L732.21,782.81 L732.82,782.30 L733.44,781.79 L734.07,781.30 L734.71,780.82 L735.35,780.36 L736.01,779.92 L736.68,779.49 L737.35,779.06 L738.04,778.65 L738.72,778.24 L739.42,777.84 L740.12,777.44 L740.82,777.04 L741.52,776.65 L742.22,776.26 L742.92,775.87 L743.62,775.47 L744.32,775.08 L745.01,774.68 L745.71,774.28 L746.40,773.89 L747.10,773.49 L747.79,773.10 L748.49,772.71 L749.19,772.32 L749.89,771.93 L750.59,771.54 L751.29,771.15 L751.99,770.77 L752.70,770.38 L753.40,770.00" fill="none" stroke="#0000ff" stroke-width="5.6" stroke-linecap="round" stroke-linejoin="round" stroke-dasharray="14.38 23.25 14.41 22.41 16.03 22.42 12.24 23.30 14.47 26.54 17.11 23.31 17.66 31.27 18.24 25.13 16.96 24.16 20.24 25.83 20.34 25.19 19.56 24.02 19.76 28.19 23.56 28.84 17.69 23.23 16.83 23.92 17.87 28.21 19.34 28.06 19.41 29.66 18.78 28.84 18.77 12.80 19.26 27.38 19.22 1183.33" stroke-dashoffset="-1.60"/>
<path d="M134.20,702.50 L134.60,703.20 L134.99,703.90 L135.37,704.61 L135.75,705.32 L136.10,706.03 L136.45,706.75 L136.78,707.48 L137.09,708.21 L137.39,708.95 L137.69,709.69 L137.98,710.43 L138.26,711.18 L138.54,711.94 L138.81,712.70 L139.07,713.46 L139.33,714.22 L139.57,714.99 L139.81,715.75 L140.03,716.52 L140.24,717.29 L140.44,718.06 L140.63,718.84 L140.81,719.61 L140.98,720.39 L141.14,721.17 L141.30,721.95 L141.45,722.73 L141.60,723.52 L141.74,724.30 L141.87,725.09 L142.01,725.88 L142.14,726.67 L142.27,727.47 L142.39,728.26 L142.52,729.05 L142.64,729.84 L142.77,730.64 L142.89,731.43 L143.02,732.22 L143.15,733.01 L143.28,733.81 L143.41,734.60 L143.55,735.38 L143.69,736.17 L143.83,736.96 L143.97,737.75 L144.11,738.53 L144.25,739.32 L144.39,740.11 L144.54,740.90 L144.68,741.68 L144.82,742.47 L144.96,743.26 L145.11,744.05 L145.25,744.83 L145.39,745.62 L145.53,746.41 L145.67,747.20 L145.81,747.98 L145.95,748.77 L146.09,749.56 L146.23,750.35 L146.36,751.14 L146.50,751.93 L146.63,752.71 L146.77,753.50 L146.90,754.29 L147.03,755.08 L147.16,755.87 L147.28,756.66 L147.41,757.45 L147.53,758.24 L147.65,759.03 L147.77,759.82 L147.89,760.61 L148.01,761.41 L148.12,762.20 L148.24,762.99 L148.35,763.78 L148.47,764.57 L148.58,765.36 L148.69,766.16 L148.80,766.95 L148.91,767.74 L149.02,768.53 L149.13,769.33 L149.24,770.12 L149.35,770.91 L149.46,771.71 L149.57,772.50 L149.68,773.29 L149.79,774.08 L149.90,774.88 L150.00,775.67 L150.11,776.46 L150.22,777.25 L150.32,778.05 L150.43,778.84 L150.54,779.63 L150.64,780.43 L150.75,781.22 L150.85,782.01 L150.96,782.81 L151.06,783.60 L151.17,784.39 L151.27,785.18 L151.38,785.98 L151.48,786.77 L151.59,787.56 L151.69,788.36 L151.79,789.15 L151.90,789.94 L152.00,790.74 L152.10,791.53 L152.21,792.32 L152.31,793.12 L152.41,793.91 L152.52,794.70 L152.62,795.50 L152.72,796.29 L152.81,797.09 L152.91,797.88 L153.01,798.68 L153.10,799.47 L153.20,800.27 L153.29,801.06 L153.39,801.86 L153.48,802.65 L153.58,803.45 L153.68,804.24 L153.77,805.03 L153.87,805.83 L153.97,806.62 L154.07,807.42 L154.18,808.21 L154.28,809.00 L154.39,809.79 L154.50,810.59 L154.61,811.38 L154.73,812.17 L154.85,812.96 L154.97,813.75 L155.10,814.54 L155.23,815.33 L155.36,816.12 L155.49,816.90 L155.63,817.69 L155.78,818.48 L155.92,819.27 L156.07,820.05 L156.22,820.84 L156.38,821.63 L156.53,822.41 L156.69,823.20 L156.85,823.98 L157.02,824.76 L157.18,825.55 L157.35,826.33 L157.51,827.11 L157.68,827.90 L157.84,828.69 L158.01,829.47 L158.18,830.26 L158.36,831.05 L158.54,831.83 L158.72,832.62 L158.92,833.39 L159.12,834.17 L159.34,834.93 L159.57,835.69 L159.81,836.45 L160.07,837.20 L160.38,838.06 L160.74,839.01 L161.13,839.93 L161.52,840.70 L161.89,841.23 L162.23,841.40 L162.55,841.23 L162.86,840.80 L163.16,840.18 L163.45,839.39 L163.74,838.49 L164.02,837.51 L164.29,836.52 L164.55,835.54 L164.81,834.64 L165.05,833.83 L165.29,833.07 L165.53,832.31 L165.76,831.55 L165.99,830.78 L166.21,830.01 L166.42,829.24 L166.64,828.47 L166.85,827.69 L167.05,826.92 L167.25,826.14 L167.45,825.36 L167.64,824.59 L167.83,823.81 L168.02,823.03 L168.20,822.25 L168.37,821.47 L168.54,820.69 L168.71,819.91 L168.87,819.13 L169.02,818.34 L169.18,817.56 L169.33,816.77 L169.47,815.98 L169.62,815.20 L169.76,814.41 L169.91,813.62 L170.05,812.83 L170.20,812.05 L170.35,811.26 L170.50,810.47 L170.66,809.69 L170.82,808.91 L170.99,808.12 L171.15,807.34 L171.33,806.56 L171.50,805.78 L171.68,805.00 L171.86,804.22 L172.04,803.44 L172.22,802.66 L172.40,801.88 L172.58,801.10 L172.76,800.32 L172.93,799.54 L173.11,798.76 L173.29,797.98 L173.46,797.20 L173.63,796.42 L173.79,795.63 L173.95,794.85 L174.11,794.06 L174.26,793.28 L174.40,792.49 L174.55,791.69 L174.68,790.90 L174.82,790.11 L174.95,789.32 L175.09,788.52 L175.22,787.73 L175.35,786.93 L175.49,786.14 L175.62,785.35 L175.76,784.56 L175.91,783.77 L176.05,782.98 L176.20,782.20 L176.36,781.41 L176.52,780.63 L176.69,779.86 L176.87,779.08 L177.05,778.31 L177.25,777.54 L177.45,776.78 L177.66,776.01 L177.89,775.24 L178.13,774.45 L178.38,773.66 L178.65,772.87 L178.94,772.09 L179.24,771.32 L179.57,770.58 L179.91,769.86 L180.27,769.17 L180.66,768.52 L181.07,767.91 L181.55,767.34 L182.12,766.81 L182.75,766.31 L183.43,765.83 L184.11,765.35 L184.79,764.87 L185.43,764.37 L186.05,763.87 L186.67,763.35 L187.28,762.82 L187.90,762.30 L188.52,761.79 L189.15,761.29 L189.79,760.81 L190.44,760.36 L191.10,759.94 L191.82,759.56 L192.59,759.22 L193.40,758.90 L194.22,758.60 L195.03,758.31 L195.82,758.00 L196.56,757.68 L197.24,757.33 L197.83,756.93 L198.31,756.48 L198.72,755.95 L199.09,755.32 L199.42,754.61 L199.73,753.85 L200.02,753.04 L200.29,752.22 L200.55,751.40 L200.81,750.59 L201.06,749.82 L201.30,749.07 L201.54,748.30 L201.76,747.54 L201.98,746.77 L202.19,745.99 L202.40,745.22 L202.60,744.44 L202.80,743.67 L203.00,742.89 L203.20,742.11 L203.41,741.34 L203.61,740.57 L203.81,739.79 L204.00,739.00 L204.18,738.22 L204.37,737.43 L204.55,736.65 L204.74,735.87 L204.95,735.09 L205.17,734.33 L205.40,733.58 L205.66,732.83 L205.94,732.03 L206.23,731.16 L206.54,730.24 L206.87,729.31 L207.23,728.39 L207.60,727.50 L208.00,726.68 L208.42,725.95 L208.86,725.34 L209.33,724.88 L209.82,724.59 L210.34,724.50 L210.96,724.57 L211.70,724.75 L212.51,725.01 L213.35,725.32 L214.18,725.65 L214.94,725.97 L215.65,726.31 L216.37,726.69 L217.07,727.10 L217.76,727.56 L218.43,728.03 L219.05,728.54 L219.64,729.05 L220.18,729.59 L220.69,730.16 L221.17,730.77 L221.63,731.42 L222.06,732.09 L222.49,732.78 L222.91,733.48 L223.32,734.20 L223.73,734.91 L224.14,735.62 L224.56,736.31 L224.99,736.99 L225.43,737.71 L225.87,738.50 L226.30,739.35 L226.73,740.24 L227.16,741.13 L227.59,742.00 L228.03,742.82 L228.46,743.58 L228.90,744.25 L229.35,744.80 L229.80,745.21 L230.26,745.45 L230.73,745.49 L231.21,745.29 L231.71,744.87 L232.21,744.28 L232.73,743.56 L233.24,742.76 L233.75,741.93 L234.25,741.12 L234.74,740.36 L235.22,739.70 L235.68,739.05 L236.14,738.40 L236.60,737.74 L237.04,737.08 L237.49,736.41 L237.93,735.74 L238.37,735.08 L238.81,734.41 L239.26,733.74 L239.70,733.08 L240.15,732.41 L240.61,731.75 L241.06,731.09 L241.51,730.43 L241.96,729.77 L242.41,729.11 L242.86,728.45 L243.32,727.79 L243.79,727.14 L244.25,726.49 L244.73,725.85 L245.22,725.21 L245.71,724.48 L246.21,723.69 L246.71,722.88 L247.22,722.08 L247.73,721.34 L248.26,720.69 L248.79,720.17 L249.33,719.83 L249.88,719.70 L250.44,719.78 L251.01,720.01 L251.60,720.38 L252.20,720.86 L252.80,721.42 L253.42,722.06 L254.03,722.74 L254.64,723.44 L255.26,724.15 L255.86,724.83 L256.46,725.47 L257.05,726.05 L257.64,726.64 L258.23,727.31 L258.81,728.01 L259.40,728.75 L259.98,729.49 L260.56,730.22 L261.14,730.92 L261.72,731.56 L262.29,732.12 L262.85,732.58 L263.41,732.93 L263.96,733.14 L264.50,733.20 L265.03,733.05 L265.55,732.71 L266.06,732.21 L266.57,731.58 L267.07,730.86 L267.57,730.07 L268.07,729.26 L268.57,728.44 L269.09,727.67 L269.61,726.96 L270.15,726.34 L270.69,725.73 L271.22,725.10 L271.76,724.46 L272.30,723.82 L272.86,723.20 L273.42,722.60 L274.00,722.03 L274.59,721.52 L275.20,721.06 L275.84,720.68 L276.51,720.37 L277.22,720.09 L277.97,719.85 L278.74,719.63 L279.53,719.42 L280.33,719.22 L281.13,719.02 L281.93,718.82 L282.71,718.59 L283.48,718.35 L284.27,718.12 L285.06,717.89 L285.83,717.64 L286.56,717.36 L287.23,717.03 L287.86,716.63 L288.46,716.16 L289.04,715.63 L289.60,715.05 L290.14,714.43 L290.67,713.80 L291.20,713.15 L291.72,712.49 L292.25,711.85 L292.78,711.24 L293.33,710.65 L293.91,710.07 L294.50,709.49 L295.10,708.92 L295.71,708.34 L296.30,707.76 L296.88,707.18 L297.44,706.58 L297.95,705.98 L298.43,705.36 L298.85,704.73 L299.22,704.08 L299.52,703.40 L299.80,702.71 L300.07,702.00 L300.31,701.27 L300.54,700.52 L300.76,699.76 L300.96,698.99 L301.16,698.21 L301.34,697.42 L301.52,696.62 L301.70,695.82 L301.87,695.02 L302.04,694.21 L302.22,693.40 L302.39,692.59 L302.57,691.79 L302.76,690.99 L302.96,690.20 L303.17,689.42 L303.39,688.65 L303.61,687.88 L303.83,687.10 L304.05,686.32 L304.27,685.54 L304.49,684.75 L304.70,683.96 L304.92,683.18 L305.15,682.39 L305.37,681.60 L305.60,680.82 L305.84,680.04 L306.08,679.27 L306.34,678.51 L306.60,677.75 L306.87,677.00 L307.15,676.27 L307.45,675.54 L307.76,674.83 L308.08,674.13 L308.42,673.45 L308.80,672.75 L309.23,671.98 L309.71,671.17 L310.23,670.35 L310.77,669.56 L311.34,668.83 L311.90,668.20 L312.47,667.69 L313.01,667.35 L313.52,667.20 L314.02,667.28 L314.53,667.56 L315.05,668.01 L315.57,668.60 L316.08,669.31 L316.58,670.10 L317.07,670.95 L317.52,671.81 L317.95,672.67 L318.33,673.49 L318.67,674.24 L318.97,674.95 L319.26,675.67 L319.52,676.40 L319.77,677.14 L320.01,677.90 L320.23,678.66 L320.44,679.44 L320.65,680.22 L320.85,681.00 L321.04,681.79 L321.23,682.58 L321.42,683.37 L321.61,684.16 L321.81,684.95 L322.01,685.74 L322.21,686.53 L322.42,687.31 L322.64,688.08 L322.88,688.85 L323.11,689.62 L323.33,690.39 L323.55,691.17 L323.77,691.96 L323.99,692.75 L324.21,693.53 L324.43,694.32 L324.65,695.11 L324.88,695.89 L325.11,696.67 L325.35,697.45 L325.59,698.22 L325.85,698.98 L326.11,699.74 L326.38,700.48 L326.67,701.21 L326.97,701.93 L327.28,702.64 L327.61,703.33 L327.96,704.01 L328.35,704.74 L328.80,705.53 L329.30,706.35 L329.82,707.16 L330.37,707.93 L330.94,708.63 L331.50,709.21 L332.06,709.66 L332.60,709.93 L333.11,709.99 L333.60,709.85 L334.07,709.52 L334.54,709.04 L334.99,708.42 L335.44,707.71 L335.89,706.91 L336.35,706.07 L336.81,705.20 L337.28,704.33 L337.76,703.49 L338.27,702.70 L338.79,701.99 L339.34,701.38 L339.92,700.91 L340.54,700.56 L341.21,700.23 L341.93,699.92 L342.69,699.63 L343.48,699.36 L344.28,699.12 L345.09,698.90 L345.90,698.71 L346.70,698.55 L347.48,698.42 L348.26,698.29 L349.05,698.17 L349.85,698.06 L350.65,697.96 L351.45,697.88 L352.25,697.83 L353.05,697.80 L353.85,697.81 L354.64,697.86 L355.44,697.94 L356.23,698.04 L357.03,698.16 L357.82,698.27 L358.62,698.37 L359.42,698.46 L360.22,698.51 L361.05,698.56 L361.93,698.60 L362.83,698.65 L363.72,698.69 L364.59,698.72 L365.42,698.75 L366.19,698.78 L366.88,698.79 L367.48,698.80 L367.98,698.77 L368.45,698.62 L368.91,698.37 L369.34,698.02 L369.75,697.57 L370.15,697.04 L370.53,696.44 L370.89,695.76 L371.24,695.03 L371.58,694.23 L371.90,693.39 L372.21,692.52 L372.52,691.60 L372.82,690.67 L373.11,689.71 L373.39,688.75 L373.68,687.79 L373.96,686.82 L374.24,685.88 L374.52,684.95 L374.80,684.05 L375.08,683.18 L375.37,682.36 L375.67,681.58 L375.96,680.84 L376.25,680.10 L376.52,679.35 L376.79,678.59 L377.06,677.84 L377.31,677.08 L377.57,676.32 L377.82,675.55 L378.07,674.79 L378.32,674.03 L378.58,673.27 L378.83,672.51 L379.09,671.75 L379.35,670.99 L379.62,670.24 L379.89,669.49 L380.18,668.74 L380.47,668.00 L380.77,667.27 L381.08,666.51 L381.38,665.69 L381.68,664.82 L381.98,663.92 L382.29,662.99 L382.59,662.05 L382.90,661.10 L383.22,660.16 L383.54,659.23 L383.88,658.34 L384.22,657.49 L384.58,656.68 L384.96,655.94 L385.35,655.27 L385.77,654.69 L386.20,654.20 L386.66,653.82 L387.14,653.55 L387.64,653.42 L388.19,653.41 L388.87,653.45 L389.66,653.53 L390.51,653.64 L391.39,653.76 L392.25,653.89 L393.07,654.01 L393.86,654.13 L394.66,654.27 L395.45,654.41 L396.23,654.57 L397.01,654.74 L397.79,654.92 L398.56,655.13 L399.34,655.40 L400.12,655.72 L400.90,656.07 L401.68,656.45 L402.45,656.81 L403.21,657.16 L403.96,657.47 L404.69,657.73 L405.40,657.91 L406.09,657.99 L406.75,657.95 L407.39,657.72 L408.01,657.32 L408.62,656.79 L409.21,656.17 L409.79,655.50 L410.37,654.80 L410.95,654.10 L411.53,653.46 L412.12,652.89 L412.72,652.35 L413.32,651.82 L413.92,651.28 L414.53,650.75 L415.13,650.21 L415.72,649.66 L416.30,649.11 L416.88,648.55 L417.43,647.99 L417.97,647.41 L418.49,646.81 L418.99,646.20 L419.47,645.58 L419.95,644.94 L420.41,644.29 L420.86,643.63 L421.30,642.96 L421.74,642.28 L422.17,641.60 L422.60,640.92 L423.02,640.23 L423.44,639.55 L423.87,638.86 L424.29,638.18 L424.72,637.51 L425.14,636.82 L425.54,636.12 L425.94,635.40 L426.33,634.69 L426.72,633.98 L427.12,633.28 L427.53,632.59 L427.95,631.92 L428.40,631.27 L428.87,630.65 L429.38,630.04 L429.91,629.38 L430.48,628.68 L431.07,627.99 L431.68,627.32 L432.31,626.72 L432.95,626.21 L433.60,625.81 L434.25,625.57 L434.91,625.50 L435.59,625.59 L436.28,625.79 L436.99,626.09 L437.72,626.45 L438.45,626.88 L439.19,627.33 L439.93,627.79 L440.67,628.25 L441.40,628.68 L442.12,629.06 L442.83,629.42 L443.54,629.80 L444.24,630.18 L444.95,630.56 L445.65,630.95 L446.36,631.32 L447.07,631.69 L447.79,632.04 L448.51,632.38 L449.24,632.70 L449.99,632.99 L450.77,633.26 L451.56,633.51 L452.35,633.75 L453.15,633.99 L453.93,634.23 L454.70,634.49 L455.44,634.76 L456.15,635.06 L456.83,635.39 L457.45,635.76 L458.05,636.19 L458.63,636.67 L459.20,637.20 L459.74,637.78 L460.27,638.39 L460.79,639.02 L461.30,639.68 L461.80,640.36 L462.29,641.04 L462.77,641.72 L463.26,642.40 L463.74,643.06 L464.23,643.71 L464.71,644.35 L465.17,645.01 L465.61,645.69 L466.04,646.39 L466.47,647.09 L466.89,647.79 L467.32,648.48 L467.75,649.16 L468.20,649.83 L468.66,650.47 L469.15,651.08 L469.66,651.66 L470.21,652.20 L470.84,652.79 L471.53,653.41 L472.24,653.99 L472.95,654.48 L473.61,654.84 L474.20,655.00 L474.72,654.89 L475.21,654.48 L475.68,653.85 L476.12,653.07 L476.53,652.19 L476.93,651.29 L477.29,650.45 L477.63,649.72 L477.96,649.00 L478.26,648.26 L478.55,647.52 L478.83,646.77 L479.10,646.02 L479.36,645.25 L479.61,644.49 L479.86,643.72 L480.11,642.95 L480.35,642.18 L480.60,641.42 L480.84,640.66 L481.09,639.90 L481.32,639.14 L481.56,638.37 L481.79,637.61 L482.02,636.84 L482.24,636.07 L482.47,635.31 L482.69,634.54 L482.91,633.77 L483.13,633.00 L483.34,632.23 L483.56,631.46 L483.78,630.68 L483.99,629.91 L484.21,629.14 L484.42,628.37 L484.64,627.60 L484.86,626.83 L485.08,626.06 L485.30,625.29 L485.52,624.52 L485.75,623.75 L485.97,622.99 L486.20,622.20 L486.41,621.37 L486.61,620.49 L486.80,619.59 L486.98,618.66 L487.17,617.73 L487.35,616.79 L487.53,615.87 L487.73,614.96 L487.93,614.07 L488.14,613.22 L488.36,612.42 L488.61,611.67 L488.87,610.99 L489.16,610.38 L489.47,609.85 L489.81,609.41 L490.18,609.08 L490.64,608.83 L491.29,608.59 L492.10,608.37 L492.98,608.19 L493.89,608.07 L494.75,608.00 L495.55,608.01 L496.35,608.07 L497.16,608.17 L497.97,608.30 L498.77,608.45 L499.56,608.63 L500.33,608.82 L501.07,609.02 L501.78,609.32 L502.48,609.77 L503.17,610.33 L503.84,610.94 L504.50,611.56 L505.16,612.15 L505.80,612.66 L506.43,613.04 L507.06,613.27 L507.68,613.27 L508.28,613.02 L508.85,612.56 L509.42,611.95 L509.99,611.25 L510.56,610.53 L511.14,609.83 L511.74,609.21 L512.37,608.72 L513.02,608.27 L513.69,607.84 L514.38,607.42 L515.06,607.00 L515.75,606.58 L516.44,606.16 L517.11,605.73 L517.77,605.28 L518.43,604.81 L519.08,604.34 L519.72,603.86 L520.37,603.38 L521.02,602.91 L521.68,602.45 L522.34,602.00 L523.01,601.57 L523.69,601.17 L524.39,600.78 L525.12,600.37 L525.87,599.94 L526.63,599.51 L527.39,599.09 L528.16,598.71 L528.91,598.38 L529.63,598.13 L530.33,597.96 L530.99,597.90 L531.62,598.00 L532.22,598.28 L532.80,598.71 L533.36,599.27 L533.91,599.93 L534.46,600.64 L535.00,601.39 L535.53,602.15 L536.07,602.89 L536.61,603.57 L537.16,604.17 L537.71,604.83 L538.25,605.56 L538.78,606.33 L539.31,607.11 L539.85,607.86 L540.38,608.55 L540.92,609.16 L541.48,609.64 L542.04,609.96 L542.62,610.10 L543.22,610.02 L543.84,609.76 L544.49,609.34 L545.14,608.80 L545.80,608.19 L546.45,607.55 L547.08,606.90 L547.69,606.29 L548.28,605.74 L548.85,605.19 L549.42,604.64 L549.97,604.07 L550.52,603.49 L551.07,602.90 L551.60,602.30 L552.14,601.70 L552.66,601.09 L553.18,600.47 L553.69,599.85 L554.20,599.22 L554.71,598.60 L555.21,597.97 L555.71,597.34 L556.20,596.71 L556.69,596.08 L557.18,595.45 L557.66,594.82 L558.13,594.18 L558.60,593.53 L559.07,592.88 L559.53,592.23 L559.99,591.58 L560.45,590.92 L560.90,590.26 L561.35,589.59 L561.80,588.93 L562.24,588.26 L562.69,587.59 L563.13,586.93 L563.57,586.26 L564.01,585.59 L564.46,584.92 L564.90,584.25 L565.34,583.58 L565.79,582.92 L566.23,582.25 L566.67,581.58 L567.10,580.90 L567.52,580.21 L567.94,579.52 L568.36,578.83 L568.78,578.15 L569.21,577.47 L569.66,576.81 L570.11,576.15 L570.58,575.52 L571.08,574.91 L571.59,574.25 L572.13,573.55 L572.68,572.81 L573.25,572.08 L573.83,571.39 L574.42,570.75 L575.03,570.21 L575.64,569.78 L576.26,569.50 L576.89,569.40 L577.53,569.54 L578.18,569.90 L578.85,570.41 L579.54,570.98 L580.23,571.53 L580.94,571.97 L581.68,572.33 L582.46,572.71 L583.26,573.08 L584.04,573.39 L584.78,573.61 L585.44,573.70 L586.04,573.63 L586.62,573.39 L587.19,573.00 L587.74,572.49 L588.28,571.88 L588.79,571.17 L589.29,570.40 L589.76,569.58 L590.21,568.74 L590.64,567.88 L591.05,567.04 L591.42,566.24 L591.77,565.48 L592.09,564.77 L592.37,564.00 L592.63,563.17 L592.86,562.29 L593.07,561.37 L593.26,560.43 L593.44,559.48 L593.62,558.53 L593.79,557.58 L593.97,556.66 L594.15,555.77 L594.34,554.93 L594.55,554.14 L594.77,553.42 L595.03,552.78 L595.31,552.22 L595.62,551.77 L595.98,551.44 L596.39,551.22 L597.00,551.02 L597.77,550.84 L598.65,550.69 L599.57,550.58 L600.46,550.51 L601.26,550.51 L602.08,550.58 L602.91,550.73 L603.75,550.94 L604.56,551.20 L605.34,551.51 L606.05,551.83 L606.69,552.17 L607.23,552.54 L607.73,553.02 L608.19,553.61 L608.62,554.27 L609.02,555.00 L609.41,555.77 L609.79,556.57 L610.16,557.36 L610.54,558.13 L610.92,558.87 L611.32,559.60 L611.71,560.43 L612.09,561.33 L612.47,562.26 L612.85,563.20 L613.22,564.11 L613.60,564.97 L613.96,565.74 L614.33,566.39 L614.70,566.88 L615.06,567.20 L615.42,567.30 L615.79,567.15 L616.15,566.76 L616.51,566.18 L616.88,565.44 L617.23,564.59 L617.59,563.67 L617.94,562.72 L618.29,561.77 L618.63,560.88 L618.97,560.08 L619.30,559.35 L619.66,558.62 L620.01,557.90 L620.37,557.17 L620.71,556.43 L621.03,555.70 L621.32,554.95 L621.58,554.21 L621.79,553.45 L621.96,552.69 L622.12,551.92 L622.26,551.14 L622.39,550.36 L622.52,549.57 L622.63,548.78 L622.73,547.99 L622.83,547.19 L622.93,546.39 L623.02,545.59 L623.12,544.79 L623.21,543.98 L623.30,543.18 L623.40,542.38 L623.50,541.58 L623.61,540.78 L623.73,539.99 L623.86,539.20 L624.00,538.41 L624.15,537.63 L624.32,536.85 L624.49,536.07 L624.68,535.29 L624.88,534.52 L625.09,533.74 L625.30,532.97 L625.52,532.20 L625.74,531.42 L625.96,530.65 L626.19,529.88 L626.41,529.11 L626.63,528.34 L626.85,527.56 L627.06,526.79 L627.27,526.02 L627.47,525.24 L627.66,524.47 L627.84,523.69 L628.00,522.91 L628.16,522.13 L628.29,521.34 L628.42,520.56 L628.53,519.77 L628.64,518.97 L628.74,518.18 L628.83,517.39 L628.92,516.59 L629.00,515.79 L629.09,514.99 L629.17,514.20 L629.25,513.40 L629.34,512.60 L629.42,511.80 L629.51,511.01 L629.61,510.21 L629.71,509.42 L629.82,508.63 L629.93,507.84 L630.06,507.05 L630.18,506.23 L630.30,505.38 L630.43,504.50 L630.55,503.60 L630.67,502.68 L630.80,501.75 L630.93,500.81 L631.07,499.87 L631.21,498.93 L631.36,498.00 L631.51,497.08 L631.67,496.17 L631.84,495.29 L632.03,494.43 L632.22,493.60 L632.42,492.81 L632.64,492.05 L632.87,491.34 L633.12,490.68 L633.38,490.07 L633.66,489.52 L633.96,489.04 L634.27,488.62 L634.61,488.28 L635.06,487.99 L635.82,487.70 L636.75,487.45 L637.69,487.25 L638.50,487.13 L639.04,487.11 L639.48,487.27 L639.90,487.60 L640.28,488.09 L640.65,488.71 L640.99,489.44 L641.31,490.27 L641.60,491.17 L641.88,492.12 L642.14,493.10 L642.38,494.09 L642.60,495.06 L642.81,496.01 L643.00,496.90 L643.18,497.72 L643.35,498.49 L643.50,499.26 L643.64,500.04 L643.77,500.82 L643.89,501.61 L644.01,502.40 L644.11,503.20 L644.21,503.99 L644.31,504.79 L644.41,505.59 L644.51,506.39 L644.60,507.19 L644.70,507.99 L644.80,508.79 L644.90,509.59 L645.01,510.39 L645.13,511.18 L645.26,511.97 L645.39,512.76 L645.54,513.54 L645.69,514.33 L645.85,515.11 L646.02,515.89 L646.19,516.67 L646.37,517.45 L646.55,518.23 L646.73,519.01 L646.92,519.79 L647.11,520.57 L647.30,521.35 L647.49,522.12 L647.69,522.90 L647.88,523.68 L648.07,524.46 L648.26,525.24 L648.44,526.01 L648.62,526.79 L648.80,527.58 L648.97,528.36 L649.13,529.15 L649.29,529.94 L649.45,530.74 L649.60,531.54 L649.76,532.33 L649.91,533.13 L650.06,533.93 L650.21,534.72 L650.37,535.52 L650.53,536.31 L650.69,537.10 L650.86,537.89 L651.03,538.67 L651.21,539.45 L651.40,540.23 L651.60,541.00 L651.81,541.76 L652.02,542.52 L652.25,543.26 L652.49,544.00 L652.74,544.74 L653.01,545.47 L653.32,546.21 L653.66,546.96 L654.03,547.70 L654.42,548.43 L654.84,549.15 L655.28,549.85 L655.75,550.51 L656.23,551.13 L656.73,551.71 L657.25,552.25 L657.85,552.82 L658.52,553.40 L659.23,553.96 L659.97,554.48 L660.71,554.92 L661.42,555.26 L662.08,555.46 L662.68,555.49 L663.26,555.28 L663.82,554.87 L664.36,554.29 L664.89,553.59 L665.40,552.80 L665.89,551.98 L666.34,551.16 L666.77,550.40 L667.17,549.71 L667.54,549.02 L667.90,548.32 L668.23,547.60 L668.55,546.87 L668.87,546.13 L669.17,545.38 L669.46,544.62 L669.75,543.87 L670.04,543.11 L670.32,542.35 L670.61,541.60 L670.90,540.85 L671.20,540.11 L671.49,539.36 L671.78,538.61 L672.06,537.87 L672.34,537.12 L672.61,536.36 L672.89,535.61 L673.16,534.86 L673.43,534.10 L673.70,533.35 L673.97,532.60 L674.24,531.84 L674.51,531.09 L674.78,530.33 L675.05,529.58 L675.33,528.83 L675.60,528.08 L675.89,527.33 L676.17,526.58 L676.46,525.84 L676.75,525.09 L677.05,524.35 L677.35,523.61 L677.66,522.85 L677.95,522.03 L678.24,521.15 L678.53,520.24 L678.82,519.29 L679.10,518.33 L679.39,517.37 L679.68,516.41 L679.98,515.47 L680.28,514.56 L680.60,513.69 L680.93,512.87 L681.27,512.12 L681.63,511.44 L682.01,510.85 L682.40,510.36 L682.82,509.98 L683.27,509.73 L683.74,509.61 L684.26,509.62 L684.92,509.72 L685.67,509.90 L686.50,510.13 L687.35,510.42 L688.21,510.74 L689.04,511.08 L689.79,511.43 L690.45,511.79 L691.05,512.22 L691.61,512.74 L692.14,513.32 L692.66,513.96 L693.16,514.63 L693.66,515.31 L694.17,515.98 L694.68,516.63 L695.21,517.24 L695.76,517.93 L696.32,518.70 L696.89,519.48 L697.45,520.26 L698.01,520.97 L698.55,521.58 L699.07,522.05 L699.56,522.34 L700.02,522.39 L700.45,522.19 L700.86,521.78 L701.25,521.18 L701.62,520.44 L701.98,519.60 L702.35,518.69 L702.71,517.76 L703.08,516.84 L703.47,515.98 L703.88,515.20 L704.30,514.53 L704.74,513.86 L705.20,513.21 L705.66,512.56 L706.14,511.91 L706.62,511.27 L707.10,510.63 L707.58,509.99 L708.07,509.35 L708.55,508.71 L709.02,508.06 L709.49,507.41 L709.95,506.73 L710.39,506.00 L710.82,505.21 L711.25,504.39 L711.67,503.55 L712.08,502.68 L712.50,501.81 L712.91,500.93 L713.32,500.06 L713.73,499.21 L714.15,498.38 L714.58,497.59 L715.01,496.84 L715.46,496.15 L715.92,495.51 L716.39,494.95 L716.87,494.47 L717.38,494.07 L717.90,493.77 L718.45,493.58 L719.02,493.50 L719.63,493.54 L720.31,493.68 L721.04,493.89 L721.81,494.17 L722.60,494.50 L723.41,494.85 L724.21,495.21 L725.00,495.57 L725.77,495.90 L726.52,496.23 L727.28,496.61 L728.05,497.04 L728.83,497.49 L729.61,497.96 L730.38,498.41 L731.13,498.84 L731.85,499.21 L732.54,499.53 L733.19,499.75 L733.80,499.88 L734.34,499.87 L734.86,499.61 L735.34,499.13 L735.81,498.47 L736.25,497.69 L736.67,496.83 L737.08,495.94 L737.47,495.07 L737.85,494.28 L738.23,493.57 L738.60,492.86 L738.95,492.15 L739.29,491.42 L739.62,490.70 L739.95,489.96 L740.27,489.22 L740.58,488.48 L740.89,487.74 L741.19,487.00 L741.50,486.26 L741.79,485.51 L742.07,484.76 L742.34,483.98 L742.60,483.20 L742.84,482.41 L743.08,481.61 L743.32,480.81 L743.55,480.01 L743.78,479.21 L744.01,478.41 L744.25,477.62 L744.49,476.83 L744.74,476.06 L745.00,475.31 L745.28,474.57 L745.57,473.84 L745.88,473.14 L746.21,472.47 L746.56,471.82 L746.94,471.20 L747.35,470.60 L747.83,470.02 L748.36,469.46 L748.93,468.92 L749.55,468.39 L750.20,467.88 L750.87,467.39 L751.57,466.91 L752.28,466.45 L753.00,466.00" fill="none" stroke="#ff0000" stroke-width="5.6" stroke-linecap="round" stroke-linejoin="round" stroke-dasharray="18.40 14.42 0.10 13.50 18.40 14.40 0.10 14.30 17.60 14.40 0.10 14.91 21.23 13.60 0.10 13.50 20.01 14.47 0.10 14.50 19.93 15.53 0.10 10.39 20.16 16.23 0.10 16.10 19.76 17.66 0.10 12.63 18.47 14.52 0.10 15.18 18.03 15.22 0.10 15.16 21.19 13.70 0.10 14.08 20.09 14.41 0.10 15.80 48.12 15.39 0.10 16.81 18.48 15.35 0.10 16.04 17.60 15.50 0.10 11.05 19.45 16.88 0.10 15.90 21.35 16.81 0.10 16.29 21.13 15.27 0.10 10.57 17.77 15.41 0.10 14.31 18.41 14.40 0.10 15.13 23.03 12.84 0.10 14.30 19.20 14.52 0.10 17.00 19.22 15.52 0.10 4.91 17.83 16.14 0.10 16.11 18.48 15.77 0.10 14.43 8.77 1457.50" stroke-dashoffset="-0.80"/>
</g>
<g clip-path="url(#cBR)">
<path d="M755.00,697.10 L755.61,697.68 L756.20,698.27 L756.78,698.87 L757.33,699.48 L757.84,700.11 L758.30,700.75 L758.71,701.41 L759.05,702.08 L759.33,702.77 L759.60,703.49 L759.85,704.22 L760.08,704.97 L760.30,705.73 L760.51,706.51 L760.70,707.29 L760.89,708.09 L761.06,708.89 L761.23,709.70 L761.38,710.50 L761.54,711.31 L761.69,712.12 L761.83,712.92 L761.98,713.72 L762.12,714.51 L762.26,715.29 L762.40,716.08 L762.53,716.86 L762.66,717.65 L762.79,718.44 L762.92,719.23 L763.04,720.02 L763.16,720.81 L763.27,721.60 L763.39,722.40 L763.50,723.19 L763.61,723.98 L763.72,724.78 L763.83,725.57 L763.93,726.37 L764.03,727.16 L764.13,727.96 L764.23,728.75 L764.33,729.55 L764.43,730.35 L764.53,731.14 L764.62,731.94 L764.72,732.73 L764.81,733.53 L764.91,734.33 L765.00,735.12 L765.10,735.92 L765.19,736.71 L765.28,737.51 L765.37,738.30 L765.47,739.10 L765.56,739.89 L765.65,740.69 L765.73,741.48 L765.82,742.28 L765.91,743.07 L765.99,743.87 L766.08,744.67 L766.16,745.46 L766.24,746.26 L766.33,747.05 L766.41,747.85 L766.49,748.65 L766.57,749.44 L766.65,750.24 L766.73,751.04 L766.81,751.83 L766.88,752.63 L766.96,753.43 L767.04,754.23 L767.12,755.02 L767.19,755.82 L767.27,756.62 L767.35,757.41 L767.42,758.21 L767.50,759.01 L767.57,759.80 L767.65,760.60 L767.73,761.40 L767.80,762.20 L767.88,762.99 L767.95,763.79 L768.03,764.59 L768.11,765.38 L768.18,766.18 L768.26,766.98 L768.34,767.78 L768.41,768.57 L768.49,769.37 L768.56,770.17 L768.64,770.96 L768.71,771.76 L768.79,772.56 L768.86,773.35 L768.94,774.15 L769.01,774.95 L769.08,775.75 L769.15,776.54 L769.23,777.34 L769.30,778.14 L769.37,778.94 L769.44,779.73 L769.51,780.53 L769.59,781.33 L769.66,782.13 L769.73,782.92 L769.80,783.72 L769.87,784.52 L769.94,785.32 L770.02,786.11 L770.09,786.91 L770.16,787.71 L770.23,788.50 L770.30,789.30 L770.38,790.10 L770.45,790.90 L770.52,791.69 L770.59,792.49 L770.67,793.29 L770.74,794.09 L770.82,794.88 L770.89,795.68 L770.96,796.48 L771.04,797.27 L771.12,798.07 L771.19,798.87 L771.27,799.66 L771.34,800.46 L771.42,801.26 L771.50,802.06 L771.58,802.85 L771.65,803.65 L771.73,804.45 L771.81,805.24 L771.89,806.04 L771.97,806.84 L772.05,807.63 L772.13,808.43 L772.20,809.23 L772.28,810.02 L772.36,810.82 L772.44,811.62 L772.52,812.41 L772.60,813.21 L772.68,814.01 L772.76,814.80 L772.85,815.60 L772.93,816.40 L773.01,817.19 L773.09,817.99 L773.17,818.78 L773.25,819.58 L773.33,820.38 L773.42,821.17 L773.50,821.97 L773.58,822.77 L773.67,823.56 L773.75,824.36 L773.83,825.16 L773.92,825.95 L774.00,826.75 L774.08,827.54 L774.17,828.34 L774.25,829.14 L774.34,829.93 L774.42,830.73 L774.51,831.52 L774.59,832.32 L774.68,833.12 L774.76,833.91 L774.85,834.71 L774.93,835.51 L775.02,836.30 L775.10,837.10 L775.19,837.89 L775.27,838.69 L775.36,839.49 L775.44,840.28 L775.53,841.08 L775.62,841.87 L775.70,842.67 L775.79,843.47 L775.88,844.26 L775.97,845.06 L776.06,845.85 L776.15,846.65 L776.24,847.45 L776.33,848.24 L776.42,849.04 L776.51,849.83 L776.61,850.63 L776.70,851.42 L776.80,852.22 L776.90,853.01 L776.99,853.80 L777.09,854.60 L777.19,855.39 L777.29,856.19 L777.40,856.98 L777.50,857.78 L777.60,858.57 L777.70,859.37 L777.79,860.17 L777.89,860.98 L777.98,861.78 L778.07,862.59 L778.17,863.40 L778.26,864.20 L778.36,865.01 L778.46,865.81 L778.56,866.62 L778.66,867.42 L778.77,868.22 L778.88,869.02 L779.00,869.82 L779.12,870.61 L779.25,871.40 L779.38,872.19 L779.52,872.97 L779.67,873.74 L779.83,874.52 L779.99,875.28 L780.16,876.05 L780.35,876.80 L780.54,877.55 L780.79,878.39 L781.10,879.32 L781.46,880.28 L781.84,881.20 L782.25,882.05 L782.65,882.75 L783.04,883.24 L783.40,883.49 L783.73,883.45 L784.05,883.20 L784.37,882.79 L784.68,882.22 L784.99,881.52 L785.29,880.72 L785.59,879.83 L785.89,878.89 L786.18,877.91 L786.47,876.92 L786.75,875.94 L787.04,875.00 L787.32,874.12 L787.59,873.32 L787.87,872.56 L788.13,871.81 L788.39,871.05 L788.65,870.29 L788.90,869.53 L789.14,868.77 L789.39,868.01 L789.64,867.24 L789.88,866.48 L790.13,865.72 L790.37,864.96 L790.62,864.20 L790.88,863.44 L791.14,862.68 L791.40,861.92 L791.67,861.17 L791.94,860.41 L792.20,859.61 L792.45,858.79 L792.70,857.96 L792.95,857.12 L793.20,856.29 L793.47,855.47 L793.74,854.67 L794.03,853.90 L794.34,853.18 L794.68,852.49 L795.05,851.87 L795.44,851.31 L795.88,850.82 L796.46,850.34 L797.18,849.85 L797.97,849.42 L798.78,849.10 L799.52,848.92 L800.17,848.95 L800.81,849.23 L801.43,849.72 L802.03,850.35 L802.60,851.07 L803.14,851.81 L803.64,852.53 L804.09,853.17 L804.51,853.82 L804.91,854.50 L805.28,855.20 L805.64,855.92 L805.98,856.65 L806.32,857.39 L806.65,858.13 L806.97,858.88 L807.31,859.62 L807.64,860.36 L807.99,861.09 L808.34,861.81 L808.69,862.54 L809.02,863.27 L809.36,864.00 L809.69,864.74 L810.03,865.47 L810.37,866.20 L810.72,866.91 L811.09,867.62 L811.47,868.32 L811.87,869.00 L812.30,869.69 L812.74,870.48 L813.20,871.30 L813.68,872.12 L814.18,872.88 L814.70,873.53 L815.25,874.01 L815.82,874.27 L816.43,874.27 L817.17,874.08 L817.97,873.75 L818.78,873.33 L819.52,872.86 L820.11,872.38 L820.57,871.90 L820.99,871.34 L821.37,870.71 L821.72,870.02 L822.05,869.28 L822.35,868.51 L822.65,867.71 L822.93,866.89 L823.21,866.07 L823.48,865.25 L823.77,864.45 L824.07,863.67 L824.38,862.92 L824.69,862.18 L824.99,861.43 L825.28,860.68 L825.57,859.93 L825.86,859.18 L826.15,858.42 L826.43,857.66 L826.72,856.91 L827.01,856.16 L827.31,855.41 L827.61,854.67 L827.92,853.93 L828.25,853.21 L828.58,852.49 L828.93,851.78 L829.30,851.09 L829.68,850.39 L830.07,849.68 L830.48,848.95 L830.91,848.21 L831.35,847.47 L831.80,846.74 L832.27,846.04 L832.76,845.36 L833.27,844.72 L833.79,844.13 L834.33,843.59 L834.90,843.11 L835.48,842.71 L836.10,842.35 L836.78,841.99 L837.51,841.63 L838.28,841.30 L839.07,841.00 L839.88,840.74 L840.70,840.53 L841.50,840.38 L842.29,840.31 L843.06,840.32 L843.83,840.41 L844.60,840.56 L845.37,840.77 L846.15,841.02 L846.92,841.30 L847.69,841.59 L848.46,841.88 L849.23,842.15 L849.99,842.40 L850.75,842.68 L851.50,843.01 L852.25,843.35 L853.00,843.71 L853.75,844.06 L854.49,844.39 L855.25,844.68 L856.00,844.92 L856.76,845.10 L857.53,845.19 L858.31,845.20 L859.11,845.18 L859.93,845.15 L860.76,845.10 L861.58,845.04 L862.39,844.97 L863.17,844.90 L863.92,844.81 L864.63,844.67 L865.33,844.42 L866.01,844.07 L866.68,843.63 L867.34,843.13 L867.98,842.59 L868.62,842.01 L869.24,841.41 L869.86,840.82 L870.47,840.25 L871.08,839.72 L871.68,839.19 L872.26,838.65 L872.83,838.08 L873.39,837.51 L873.94,836.92 L874.48,836.33 L875.03,835.73 L875.58,835.14 L876.13,834.56 L876.69,833.99 L877.27,833.43 L877.85,832.90 L878.46,832.38 L879.07,831.83 L879.69,831.27 L880.31,830.69 L880.95,830.11 L881.59,829.55 L882.24,829.03 L882.91,828.56 L883.58,828.15 L884.27,827.82 L884.97,827.59 L885.70,827.45 L886.45,827.35 L887.22,827.25 L888.02,827.15 L888.83,827.08 L889.65,827.01 L890.48,826.96 L891.30,826.92 L892.11,826.90 L892.90,826.91 L893.69,826.99 L894.49,827.13 L895.28,827.30 L896.07,827.50 L896.86,827.70 L897.64,827.88 L898.43,828.01 L899.22,828.09 L900.01,828.09 L900.82,828.04 L901.64,827.94 L902.47,827.79 L903.29,827.61 L904.10,827.40 L904.88,827.17 L905.63,826.92 L906.32,826.66 L906.96,826.37 L907.56,825.99 L908.12,825.51 L908.66,824.93 L909.18,824.30 L909.69,823.62 L910.18,822.91 L910.68,822.21 L911.18,821.51 L911.69,820.86 L912.22,820.25 L912.76,819.65 L913.30,819.06 L913.83,818.46 L914.37,817.87 L914.91,817.28 L915.45,816.69 L915.98,816.09 L916.52,815.50 L917.06,814.91 L917.60,814.32 L918.14,813.73 L918.69,813.14 L919.23,812.55 L919.77,811.96 L920.31,811.37 L920.85,810.78 L921.39,810.18 L921.92,809.58 L922.45,808.98 L922.98,808.36 L923.50,807.75 L924.02,807.13 L924.54,806.51 L925.07,805.89 L925.59,805.28 L926.12,804.67 L926.66,804.07 L927.20,803.48 L927.75,802.90 L928.30,802.34 L928.87,801.78 L929.45,801.25 L930.04,800.73 L930.65,800.22 L931.27,799.66 L931.91,799.08 L932.56,798.49 L933.22,797.90 L933.89,797.34 L934.58,796.83 L935.26,796.37 L935.95,796.00 L936.65,795.71 L937.34,795.54 L938.04,795.50 L938.76,795.58 L939.50,795.75 L940.26,796.00 L941.03,796.32 L941.79,796.70 L942.55,797.12 L943.29,797.57 L944.00,798.04 L944.68,798.51 L945.32,798.97 L945.91,799.42 L946.47,799.92 L947.02,800.47 L947.54,801.06 L948.05,801.68 L948.55,802.33 L949.03,803.00 L949.51,803.68 L949.98,804.36 L950.44,805.05 L950.91,805.73 L951.38,806.39 L951.84,807.04 L952.29,807.72 L952.72,808.42 L953.14,809.14 L953.55,809.87 L953.95,810.60 L954.36,811.34 L954.77,812.06 L955.18,812.76 L955.62,813.44 L956.06,814.09 L956.53,814.70 L957.03,815.26 L957.56,815.77 L958.12,816.25 L958.75,816.75 L959.42,817.26 L960.13,817.75 L960.87,818.21 L961.62,818.63 L962.38,818.99 L963.14,819.26 L963.89,819.44 L964.61,819.50 L965.32,819.43 L966.03,819.25 L966.74,818.97 L967.45,818.61 L968.16,818.19 L968.86,817.73 L969.57,817.23 L970.27,816.72 L970.97,816.23 L971.67,815.75 L972.37,815.32 L973.05,814.90 L973.72,814.43 L974.39,813.94 L975.05,813.43 L975.71,812.92 L976.37,812.42 L977.03,811.93 L977.70,811.47 L978.38,811.06 L979.07,810.70 L979.77,810.41 L980.50,810.20 L981.24,810.05 L982.01,809.92 L982.79,809.81 L983.58,809.71 L984.39,809.62 L985.20,809.54 L986.02,809.46 L986.83,809.37 L987.64,809.26 L988.43,809.15 L989.22,809.01 L990.00,808.85 L990.79,808.69 L991.57,808.51 L992.35,808.32 L993.13,808.13 L993.90,807.92 L994.68,807.71 L995.45,807.49 L996.22,807.27 L996.98,807.05 L997.74,806.80 L998.50,806.55 L999.25,806.27 L1000.00,805.99 L1000.75,805.70 L1001.49,805.41 L1002.24,805.12 L1002.99,804.83 L1003.74,804.54 L1004.49,804.27 L1005.25,804.02 L1006.02,803.78 L1006.80,803.55 L1007.58,803.34 L1008.36,803.13 L1009.15,802.91 L1009.92,802.70 L1010.69,802.47 L1011.45,802.23 L1012.19,801.97 L1012.92,801.68 L1013.62,801.36 L1014.31,800.98 L1014.98,800.57 L1015.63,800.12 L1016.28,799.64 L1016.92,799.14 L1017.56,798.63 L1018.20,798.12 L1018.84,797.62 L1019.48,797.12 L1020.14,796.65 L1020.80,796.20 L1021.49,795.79 L1022.18,795.36 L1022.89,794.91 L1023.61,794.44 L1024.34,793.96 L1025.07,793.49 L1025.81,793.05 L1026.54,792.63 L1027.28,792.25 L1028.00,791.93 L1028.72,791.68 L1029.43,791.50 L1030.12,791.41 L1030.80,791.43 L1031.49,791.61 L1032.17,791.93 L1032.86,792.37 L1033.53,792.89 L1034.19,793.48 L1034.84,794.10 L1035.46,794.73 L1036.05,795.34 L1036.61,795.91 L1037.14,796.47 L1037.65,797.05 L1038.14,797.66 L1038.62,798.29 L1039.08,798.94 L1039.53,799.61 L1039.97,800.28 L1040.41,800.97 L1040.84,801.66 L1041.26,802.36 L1041.69,803.05 L1042.13,803.75 L1042.56,804.43 L1043.01,805.11 L1043.47,805.77 L1043.93,806.43 L1044.39,807.10 L1044.84,807.78 L1045.29,808.48 L1045.74,809.18 L1046.19,809.88 L1046.65,810.57 L1047.11,811.24 L1047.59,811.89 L1048.09,812.51 L1048.60,813.09 L1049.14,813.63 L1049.70,814.12 L1050.31,814.59 L1050.97,815.08 L1051.67,815.57 L1052.41,816.04 L1053.16,816.47 L1053.92,816.83 L1054.67,817.10 L1055.40,817.26 L1056.10,817.29 L1056.80,817.16 L1057.50,816.89 L1058.21,816.50 L1058.91,816.02 L1059.59,815.47 L1060.26,814.88 L1060.90,814.28 L1061.50,813.69 L1062.06,813.14 L1062.58,812.59 L1063.08,812.01 L1063.56,811.39 L1064.01,810.74 L1064.46,810.07 L1064.89,809.39 L1065.31,808.69 L1065.73,807.98 L1066.14,807.27 L1066.56,806.56 L1066.97,805.86 L1067.40,805.17 L1067.84,804.49 L1068.29,803.82 L1068.74,803.16 L1069.18,802.48 L1069.62,801.81 L1070.06,801.13 L1070.50,800.45 L1070.94,799.77 L1071.39,799.09 L1071.83,798.42 L1072.29,797.76 L1072.75,797.10 L1073.22,796.45 L1073.70,795.82 L1074.19,795.20 L1074.69,794.59 L1075.21,794.00 L1075.74,793.43 L1076.30,792.87 L1076.88,792.32 L1077.47,791.78 L1078.07,791.26 L1078.69,790.74 L1079.32,790.22 L1079.95,789.72 L1080.58,789.22 L1081.22,788.72 L1081.85,788.23 L1082.48,787.73 L1083.13,787.26 L1083.80,786.79 L1084.48,786.35 L1085.17,785.90 L1085.86,785.47 L1086.54,785.02 L1087.21,784.57 L1087.86,784.11 L1088.48,783.63 L1089.07,783.12 L1089.61,782.58 L1090.13,782.01 L1090.63,781.42 L1091.11,780.79 L1091.57,780.15 L1092.02,779.49 L1092.46,778.81 L1092.89,778.12 L1093.31,777.42 L1093.73,776.71 L1094.14,776.00 L1094.55,775.29 L1094.96,774.59 L1095.36,773.89 L1095.77,773.21 L1096.17,772.51 L1096.55,771.80 L1096.93,771.08 L1097.29,770.36 L1097.65,769.63 L1098.00,768.90 L1098.36,768.17 L1098.71,767.44 L1099.07,766.72 L1099.44,766.00 L1099.82,765.30 L1100.21,764.60 L1100.61,763.92 L1101.03,763.26 L1101.47,762.62 L1101.93,761.98 L1102.41,761.29 L1102.92,760.55 L1103.44,759.80 L1103.98,759.05 L1104.54,758.34 L1105.12,757.68 L1105.71,757.12 L1106.33,756.67 L1106.96,756.35 L1107.62,756.21 L1108.31,756.21 L1109.07,756.26 L1109.90,756.35 L1110.75,756.48 L1111.61,756.63 L1112.44,756.80 L1113.22,756.98 L1113.92,757.18 L1114.55,757.42 L1115.16,757.77 L1115.73,758.21 L1116.29,758.73 L1116.83,759.31 L1117.35,759.96 L1117.86,760.65 L1118.35,761.36 L1118.84,762.10 L1119.33,762.84 L1119.81,763.57 L1120.29,764.29 L1120.77,764.97 L1121.26,765.61 L1121.74,766.24 L1122.22,766.88 L1122.69,767.53 L1123.15,768.18 L1123.61,768.84 L1124.07,769.50 L1124.52,770.16 L1124.97,770.82 L1125.42,771.49 L1125.87,772.15 L1126.32,772.81 L1126.77,773.48 L1127.23,774.13 L1127.69,774.79 L1128.16,775.44 L1128.62,776.09 L1129.08,776.75 L1129.54,777.42 L1130.00,778.08 L1130.46,778.75 L1130.92,779.41 L1131.38,780.07 L1131.85,780.73 L1132.33,781.37 L1132.82,782.00 L1133.33,782.61 L1133.84,783.21 L1134.38,783.78 L1134.93,784.37 L1135.49,784.98 L1136.07,785.59 L1136.66,786.19 L1137.27,786.77 L1137.89,787.32 L1138.53,787.81 L1139.18,788.24 L1139.86,788.59 L1140.55,788.85 L1141.29,789.07 L1142.09,789.29 L1142.91,789.48 L1143.73,789.64 L1144.54,789.74 L1145.30,789.80 L1146.00,789.73 L1146.67,789.45 L1147.32,788.99 L1147.96,788.42 L1148.58,787.80 L1149.21,787.18 L1149.84,786.62 L1150.48,786.13 L1151.11,785.60 L1151.73,785.04 L1152.35,784.49 L1152.98,783.96 L1153.62,783.48 L1154.28,783.07 L1154.96,782.75 L1155.69,782.50 L1156.47,782.26 L1157.29,782.04 L1158.11,781.85 L1158.92,781.71 L1159.69,781.62 L1160.40,781.61 L1161.09,781.78 L1161.77,782.12 L1162.43,782.61 L1163.07,783.19 L1163.69,783.84 L1164.28,784.51 L1164.83,785.16 L1165.36,785.77 L1165.85,786.36 L1166.32,786.98 L1166.77,787.63 L1167.19,788.31 L1167.61,789.00 L1168.01,789.70 L1168.41,790.41 L1168.80,791.13 L1169.20,791.84 L1169.60,792.55 L1170.00,793.25 L1170.42,793.94 L1170.84,794.63 L1171.24,795.36 L1171.63,796.10 L1172.02,796.85 L1172.40,797.60 L1172.80,798.34 L1173.20,799.06 L1173.62,799.75 L1174.06,800.40 L1174.53,801.01 L1175.02,801.56 L1175.55,802.04 L1176.15,802.52 L1176.82,803.01 L1177.53,803.48 L1178.29,803.89 L1179.06,804.22 L1179.83,804.43 L1180.59,804.50 L1181.35,804.46 L1182.14,804.35 L1182.94,804.19 L1183.74,803.98 L1184.54,803.75 L1185.32,803.49 L1186.08,803.23 L1186.80,802.96 L1187.50,802.65 L1188.18,802.28 L1188.84,801.85 L1189.49,801.39 L1190.13,800.89 L1190.77,800.36 L1191.40,799.83 L1192.03,799.30 L1192.66,798.77 L1193.30,798.27 L1193.95,797.79 L1194.60,797.32 L1195.24,796.83 L1195.88,796.34 L1196.52,795.85 L1197.16,795.36 L1197.81,794.87 L1198.46,794.41 L1199.12,793.96 L1199.79,793.53 L1200.47,793.13 L1201.17,792.76 L1201.90,792.36 L1202.66,791.95 L1203.42,791.56 L1204.19,791.22 L1204.93,790.96 L1205.65,790.82 L1206.33,790.82 L1207.00,791.00 L1207.66,791.33 L1208.31,791.79 L1208.95,792.35 L1209.57,792.97 L1210.18,793.64 L1210.76,794.33 L1211.33,795.00 L1211.87,795.64 L1212.39,796.23 L1212.88,796.83 L1213.36,797.46 L1213.81,798.11 L1214.25,798.77 L1214.69,799.45 L1215.11,800.14 L1215.53,800.83 L1215.94,801.53 L1216.36,802.23 L1216.78,802.92 L1217.21,803.61 L1217.65,804.29 L1218.10,804.95 L1218.55,805.61 L1219.01,806.28 L1219.46,806.96 L1219.91,807.65 L1220.36,808.34 L1220.82,809.02 L1221.28,809.69 L1221.76,810.35 L1222.24,810.99 L1222.74,811.60 L1223.26,812.19 L1223.80,812.74 L1224.36,813.25 L1224.96,813.78 L1225.60,814.33 L1226.28,814.88 L1226.98,815.43 L1227.70,815.94 L1228.42,816.40 L1229.15,816.78 L1229.86,817.07 L1230.56,817.25 L1231.22,817.30 L1231.89,817.18 L1232.55,816.91 L1233.21,816.52 L1233.87,816.03 L1234.53,815.45 L1235.17,814.83 L1235.79,814.17 L1236.39,813.51 L1236.98,812.87 L1237.53,812.27 L1238.06,811.70 L1238.57,811.11 L1239.05,810.50 L1239.53,809.86 L1239.99,809.21 L1240.44,808.55 L1240.88,807.87 L1241.32,807.19 L1241.75,806.50 L1242.18,805.81 L1242.61,805.12 L1243.04,804.44 L1243.48,803.76 L1243.93,803.08 L1244.39,802.42 L1244.86,801.78 L1245.34,801.13 L1245.81,800.47 L1246.27,799.81 L1246.74,799.15 L1247.21,798.49 L1247.69,797.84 L1248.17,797.18 L1248.65,796.54 L1249.14,795.90 L1249.64,795.28 L1250.16,794.67 L1250.68,794.07 L1251.21,793.50 L1251.76,792.94 L1252.33,792.40 L1252.92,791.88 L1253.54,791.38 L1254.17,790.90 L1254.81,790.42 L1255.47,789.95 L1256.13,789.49 L1256.79,789.03 L1257.46,788.57 L1258.12,788.10 L1258.78,787.63 L1259.42,787.15 L1260.06,786.66 L1260.70,786.16 L1261.35,785.67 L1262.01,785.19 L1262.68,784.70 L1263.33,784.20 L1263.97,783.70 L1264.58,783.18 L1265.16,782.64 L1265.69,782.09 L1266.17,781.51 L1266.62,780.90 L1267.04,780.26 L1267.43,779.59 L1267.81,778.90 L1268.17,778.19 L1268.51,777.47 L1268.84,776.73 L1269.17,775.98 L1269.49,775.23 L1269.81,774.47 L1270.13,773.71 L1270.46,772.95 L1270.79,772.20 L1271.13,771.46 L1271.49,770.73 L1271.86,770.01 L1272.25,769.32 L1272.65,768.62 L1273.05,767.91 L1273.45,767.19 L1273.85,766.46 L1274.27,765.74 L1274.69,765.03 L1275.11,764.32 L1275.56,763.63 L1276.01,762.96 L1276.48,762.32 L1276.97,761.71 L1277.47,761.13 L1277.99,760.59 L1278.54,760.08 L1279.14,759.56 L1279.78,759.02 L1280.46,758.48 L1281.17,757.95 L1281.89,757.47 L1282.63,757.04 L1283.37,756.68 L1284.11,756.41 L1284.83,756.24 L1285.54,756.20 L1286.24,756.29 L1286.95,756.51 L1287.67,756.82 L1288.39,757.21 L1289.10,757.66 L1289.81,758.16 L1290.51,758.68 L1291.20,759.22 L1291.86,759.74 L1292.50,760.23 L1293.13,760.70 L1293.74,761.20 L1294.34,761.72 L1294.94,762.25 L1295.52,762.81 L1296.09,763.38 L1296.66,763.96 L1297.22,764.55 L1297.76,765.15 L1298.30,765.76 L1298.83,766.37 L1299.34,766.98 L1299.85,767.59 L1300.35,768.20 L1300.84,768.83 L1301.32,769.47 L1301.79,770.11 L1302.25,770.76 L1302.71,771.42 L1303.16,772.09 L1303.60,772.76 L1304.04,773.43 L1304.49,774.10 L1304.93,774.78 L1305.37,775.45 L1305.81,776.12 L1306.25,776.79 L1306.70,777.46 L1307.15,778.13 L1307.58,778.82 L1308.00,779.54 L1308.41,780.26 L1308.82,781.00 L1309.23,781.73 L1309.64,782.45 L1310.06,783.16 L1310.49,783.85 L1310.94,784.51 L1311.41,785.14 L1311.89,785.72 L1312.41,786.26 L1312.95,786.75 L1313.55,787.22 L1314.21,787.72 L1314.91,788.20 L1315.64,788.66 L1316.40,789.07 L1317.16,789.41 L1317.92,789.66 L1318.67,789.79 L1319.40,789.78 L1320.13,789.66 L1320.87,789.45 L1321.61,789.16 L1322.35,788.81 L1323.10,788.42 L1323.84,788.00 L1324.57,787.58 L1325.30,787.17 L1326.03,786.79 L1326.74,786.41 L1327.45,785.97 L1328.15,785.48 L1328.85,784.97 L1329.55,784.44 L1330.24,783.92 L1330.93,783.43 L1331.62,782.99 L1332.31,782.62 L1333.00,782.33 L1333.69,782.15 L1334.39,782.10 L1335.10,782.20 L1335.83,782.43 L1336.57,782.77 L1337.31,783.20 L1338.03,783.70 L1338.73,784.23 L1339.39,784.78 L1340.00,785.33 L1340.55,785.84 L1341.05,786.39 L1341.52,786.98 L1341.97,787.62 L1342.40,788.29 L1342.81,788.99 L1343.21,789.71 L1343.60,790.45 L1343.98,791.19 L1344.37,791.92 L1344.77,792.65 L1345.17,793.36 L1345.59,794.05 L1346.00,794.75 L1346.41,795.47 L1346.80,796.21 L1347.19,796.94 L1347.59,797.68 L1348.00,798.39 L1348.42,799.07 L1348.87,799.72 L1349.34,800.32 L1349.85,800.86 L1350.40,801.34 L1351.00,801.81 L1351.65,802.24 L1352.33,802.66 L1353.06,803.04 L1353.81,803.39 L1354.59,803.71 L1355.40,804.00" fill="none" stroke="#000" stroke-width="5.6" stroke-linecap="round" stroke-linejoin="round"/>
<path d="M755.20,671.00 L755.58,671.71 L755.95,672.43 L756.32,673.15 L756.66,673.88 L756.98,674.61 L757.27,675.35 L757.53,676.09 L757.77,676.85 L757.99,677.61 L758.21,678.37 L758.41,679.14 L758.61,679.92 L758.79,680.70 L758.97,681.48 L759.14,682.27 L759.31,683.06 L759.47,683.85 L759.63,684.63 L759.79,685.42 L759.95,686.21 L760.10,687.00 L760.26,687.78 L760.41,688.57 L760.56,689.35 L760.71,690.14 L760.86,690.93 L761.00,691.71 L761.14,692.50 L761.28,693.29 L761.41,694.08 L761.54,694.87 L761.66,695.66 L761.78,696.45 L761.90,697.25 L762.01,698.04 L762.11,698.83 L762.21,699.62 L762.30,700.42 L762.39,701.21 L762.47,702.01 L762.55,702.81 L762.64,703.60 L762.72,704.40 L762.80,705.20 L762.88,705.99 L762.96,706.79 L763.05,707.58 L763.14,708.38 L763.23,709.17 L763.33,709.97 L763.43,710.76 L763.54,711.56 L763.64,712.35 L763.75,713.14 L763.86,713.93 L763.97,714.73 L764.08,715.52 L764.20,716.31 L764.31,717.10 L764.42,717.90 L764.53,718.69 L764.64,719.48 L764.75,720.28 L764.85,721.07 L764.96,721.86 L765.06,722.66 L765.15,723.45 L765.25,724.24 L765.34,725.04 L765.43,725.83 L765.51,726.63 L765.60,727.43 L765.68,728.22 L765.76,729.02 L765.84,729.81 L765.92,730.61 L766.00,731.41 L766.08,732.20 L766.16,733.00 L766.23,733.80 L766.31,734.59 L766.38,735.39 L766.46,736.19 L766.53,736.98 L766.60,737.78 L766.67,738.58 L766.75,739.37 L766.82,740.17 L766.89,740.97 L766.96,741.77 L767.03,742.56 L767.11,743.36 L767.18,744.16 L767.25,744.95 L767.32,745.75 L767.39,746.55 L767.46,747.34 L767.53,748.14 L767.60,748.94 L767.67,749.74 L767.74,750.53 L767.80,751.33 L767.87,752.13 L767.94,752.93 L768.00,753.72 L768.07,754.52 L768.14,755.32 L768.21,756.12 L768.28,756.91 L768.36,757.71 L768.43,758.51 L768.51,759.30 L768.59,760.10 L768.67,760.89 L768.76,761.69 L768.84,762.49 L768.93,763.28 L769.02,764.08 L769.11,764.87 L769.21,765.67 L769.30,766.46 L769.40,767.26 L769.49,768.05 L769.59,768.84 L769.69,769.64 L769.79,770.43 L769.89,771.23 L769.98,772.02 L770.08,772.82 L770.18,773.61 L770.28,774.41 L770.37,775.20 L770.47,775.99 L770.56,776.79 L770.65,777.58 L770.74,778.38 L770.83,779.17 L770.92,779.97 L771.01,780.77 L771.09,781.56 L771.17,782.36 L771.25,783.15 L771.32,783.95 L771.40,784.75 L771.47,785.54 L771.53,786.34 L771.60,787.14 L771.67,787.94 L771.73,788.73 L771.79,789.53 L771.86,790.33 L771.92,791.13 L771.98,791.92 L772.04,792.72 L772.11,793.52 L772.17,794.32 L772.24,795.12 L772.30,795.91 L772.37,796.71 L772.44,797.51 L772.50,798.31 L772.57,799.10 L772.64,799.90 L772.71,800.70 L772.78,801.49 L772.85,802.29 L772.91,803.09 L772.98,803.89 L773.05,804.68 L773.12,805.48 L773.19,806.28 L773.26,807.08 L773.33,807.87 L773.40,808.67 L773.47,809.47 L773.54,810.26 L773.61,811.06 L773.68,811.86 L773.75,812.66 L773.82,813.45 L773.89,814.25 L773.95,815.05 L774.02,815.84 L774.09,816.64 L774.16,817.44 L774.23,818.24 L774.29,819.03 L774.36,819.83 L774.43,820.63 L774.49,821.43 L774.56,822.22 L774.62,823.02 L774.69,823.82 L774.75,824.62 L774.82,825.41 L774.88,826.21 L774.95,827.01 L775.01,827.81 L775.08,828.61 L775.14,829.40 L775.21,830.20 L775.27,831.00 L775.33,831.80 L775.40,832.59 L775.46,833.39 L775.53,834.19 L775.59,834.99 L775.65,835.79 L775.71,836.58 L775.77,837.38 L775.82,838.18 L775.88,838.98 L775.94,839.78 L775.99,840.58 L776.05,841.38 L776.11,842.18 L776.16,842.98 L776.22,843.78 L776.28,844.58 L776.34,845.37 L776.40,846.17 L776.46,846.97 L776.52,847.77 L776.59,848.57 L776.65,849.36 L776.72,850.16 L776.79,850.96 L776.86,851.75 L776.93,852.55 L777.01,853.35 L777.09,854.14 L777.17,854.94 L777.26,855.73 L777.35,856.52 L777.44,857.32 L777.53,858.11 L777.63,858.90 L777.74,859.70 L777.85,860.50 L777.97,861.29 L778.09,862.09 L778.22,862.88 L778.35,863.67 L778.50,864.46 L778.64,865.25 L778.80,866.04 L778.96,866.82 L779.13,867.60 L779.30,868.37 L779.49,869.14 L779.68,869.97 L779.90,870.91 L780.14,871.90 L780.40,872.90 L780.67,873.84 L780.97,874.67 L781.28,875.34 L781.61,875.80 L781.96,876.00 L782.36,875.86 L782.87,875.41 L783.43,874.74 L783.98,873.93 L784.49,873.08 L784.89,872.27 L785.16,871.56 L785.40,870.82 L785.61,870.06 L785.80,869.28 L785.97,868.48 L786.13,867.68 L786.28,866.87 L786.43,866.07 L786.58,865.28 L786.74,864.50 L786.88,863.71 L787.03,862.92 L787.17,862.14 L787.30,861.35 L787.43,860.56 L787.56,859.77 L787.69,858.98 L787.81,858.19 L787.94,857.39 L788.06,856.60 L788.17,855.81 L788.29,855.02 L788.41,854.23 L788.52,853.43 L788.64,852.64 L788.75,851.85 L788.86,851.06 L788.96,850.26 L789.06,849.47 L789.16,848.68 L789.26,847.88 L789.36,847.08 L789.45,846.29 L789.54,845.49 L789.63,844.70 L789.72,843.90 L789.81,843.10 L789.90,842.31 L789.99,841.51 L790.08,840.71 L790.17,839.92 L790.26,839.12 L790.35,838.33 L790.44,837.53 L790.54,836.74 L790.64,835.94 L790.74,835.15 L790.84,834.36 L790.94,833.56 L791.05,832.77 L791.16,831.98 L791.28,831.19 L791.40,830.40 L791.52,829.61 L791.65,828.82 L791.78,828.04 L791.91,827.25 L792.05,826.46 L792.20,825.67 L792.35,824.87 L792.50,824.08 L792.66,823.29 L792.82,822.50 L792.99,821.71 L793.17,820.93 L793.36,820.15 L793.55,819.37 L793.75,818.59 L793.95,817.82 L794.17,817.06 L794.39,816.30 L794.62,815.55 L794.86,814.79 L795.12,813.98 L795.39,813.15 L795.67,812.30 L795.98,811.45 L796.30,810.61 L796.64,809.80 L797.01,809.04 L797.39,808.33 L797.81,807.69 L798.25,807.15 L798.72,806.70 L799.24,806.36 L799.97,806.04 L800.84,805.75 L801.77,805.49 L802.65,805.28 L803.40,805.14 L803.93,805.10 L804.30,805.20 L804.65,805.45 L804.97,805.85 L805.27,806.38 L805.54,807.03 L805.79,807.77 L806.03,808.60 L806.25,809.50 L806.46,810.44 L806.65,811.43 L806.84,812.44 L807.03,813.46 L807.21,814.47 L807.39,815.46 L807.58,816.41 L807.76,817.31 L807.96,818.14 L808.16,818.91 L808.35,819.69 L808.54,820.46 L808.73,821.24 L808.91,822.02 L809.09,822.80 L809.26,823.58 L809.44,824.36 L809.61,825.14 L809.77,825.92 L809.94,826.71 L810.10,827.49 L810.26,828.27 L810.42,829.06 L810.58,829.84 L810.74,830.63 L810.90,831.41 L811.06,832.20 L811.21,832.99 L811.37,833.77 L811.53,834.56 L811.70,835.34 L811.86,836.12 L812.02,836.91 L812.19,837.69 L812.36,838.47 L812.54,839.26 L812.71,840.04 L812.89,840.82 L813.07,841.59 L813.26,842.37 L813.45,843.15 L813.64,843.93 L813.83,844.70 L814.03,845.48 L814.22,846.26 L814.42,847.03 L814.62,847.81 L814.82,848.58 L815.02,849.36 L815.23,850.13 L815.43,850.90 L815.64,851.68 L815.85,852.45 L816.06,853.22 L816.27,853.99 L816.48,854.77 L816.69,855.54 L816.91,856.31 L817.12,857.08 L817.34,857.85 L817.55,858.62 L817.76,859.39 L817.98,860.17 L818.19,860.94 L818.41,861.72 L818.62,862.49 L818.84,863.26 L819.06,864.03 L819.29,864.80 L819.52,865.57 L819.76,866.33 L820.00,867.09 L820.25,867.85 L820.50,868.61 L820.77,869.36 L821.04,870.11 L821.31,870.88 L821.58,871.69 L821.86,872.53 L822.14,873.38 L822.42,874.23 L822.72,875.07 L823.04,875.88 L823.37,876.65 L823.72,877.37 L824.10,878.02 L824.51,878.60 L824.94,879.09 L825.41,879.48 L825.98,879.84 L826.67,880.19 L827.43,880.52 L828.26,880.82 L829.11,881.07 L829.96,881.26 L830.78,881.37 L831.55,881.40 L832.31,881.28 L833.06,881.04 L833.82,880.70 L834.56,880.31 L835.28,879.90 L835.99,879.51 L836.67,879.12 L837.35,878.70 L838.01,878.25 L838.67,877.77 L839.31,877.27 L839.94,876.76 L840.55,876.24 L841.15,875.71 L841.74,875.17 L842.30,874.62 L842.85,874.05 L843.38,873.45 L843.89,872.84 L844.40,872.21 L844.91,871.58 L845.41,870.95 L845.92,870.33 L846.44,869.71 L846.96,869.10 L847.50,868.51 L848.06,867.94 L848.63,867.38 L849.20,866.81 L849.78,866.24 L850.36,865.68 L850.96,865.12 L851.56,864.58 L852.17,864.05 L852.79,863.54 L853.42,863.05 L854.07,862.59 L854.72,862.17 L855.39,861.77 L856.08,861.37 L856.79,860.97 L857.51,860.58 L858.25,860.22 L858.99,859.88 L859.75,859.57 L860.51,859.32 L861.27,859.12 L862.04,858.98 L862.81,858.87 L863.59,858.78 L864.38,858.69 L865.18,858.61 L865.99,858.55 L866.79,858.49 L867.60,858.43 L868.41,858.38 L869.21,858.34 L870.02,858.30 L870.84,858.27 L871.70,858.24 L872.58,858.22 L873.48,858.20 L874.37,858.18 L875.25,858.16 L876.10,858.14 L876.91,858.12 L877.67,858.10 L878.36,858.07 L878.97,858.03 L879.50,857.97 L879.98,857.74 L880.42,857.35 L880.84,856.81 L881.23,856.14 L881.61,855.38 L881.96,854.53 L882.30,853.64 L882.63,852.72 L882.95,851.79 L883.27,850.88 L883.59,850.02 L883.90,849.22 L884.23,848.49 L884.54,847.76 L884.85,847.02 L885.16,846.28 L885.46,845.54 L885.76,844.80 L886.05,844.05 L886.34,843.31 L886.63,842.56 L886.91,841.80 L887.18,841.05 L887.46,840.30 L887.73,839.54 L887.99,838.78 L888.26,838.03 L888.51,837.27 L888.77,836.51 L889.02,835.75 L889.27,834.99 L889.52,834.23 L889.77,833.47 L890.01,832.71 L890.25,831.95 L890.49,831.18 L890.73,830.42 L890.96,829.65 L891.19,828.88 L891.42,828.11 L891.65,827.34 L891.87,826.57 L892.09,825.80 L892.30,825.03 L892.51,824.26 L892.71,823.48 L892.91,822.71 L893.11,821.93 L893.30,821.16 L893.48,820.38 L893.66,819.60 L893.83,818.82 L894.00,818.04 L894.16,817.26 L894.32,816.48 L894.48,815.69 L894.63,814.91 L894.78,814.12 L894.92,813.33 L895.07,812.55 L895.21,811.76 L895.35,810.97 L895.49,810.18 L895.63,809.39 L895.77,808.60 L895.91,807.82 L896.06,807.03 L896.20,806.24 L896.34,805.45 L896.49,804.66 L896.63,803.88 L896.79,803.09 L896.94,802.30 L897.10,801.52 L897.26,800.73 L897.42,799.95 L897.58,799.17 L897.74,798.38 L897.90,797.60 L898.07,796.82 L898.23,796.03 L898.40,795.25 L898.56,794.47 L898.73,793.69 L898.90,792.90 L899.06,792.12 L899.23,791.34 L899.40,790.55 L899.56,789.77 L899.73,788.99 L899.89,788.21 L900.06,787.42 L900.22,786.64 L900.39,785.86 L900.55,785.07 L900.71,784.29 L900.86,783.50 L901.02,782.72 L901.17,781.93 L901.32,781.15 L901.48,780.36 L901.63,779.57 L901.78,778.79 L901.94,778.00 L902.10,777.22 L902.26,776.43 L902.42,775.65 L902.58,774.87 L902.75,774.09 L902.93,773.31 L903.11,772.53 L903.30,771.75 L903.49,770.97 L903.68,770.20 L903.88,769.42 L904.08,768.65 L904.29,767.87 L904.49,767.10 L904.71,766.33 L904.92,765.56 L905.13,764.78 L905.35,764.01 L905.56,763.24 L905.78,762.47 L906.00,761.70 L906.22,760.93 L906.44,760.16 L906.67,759.40 L906.89,758.63 L907.13,757.86 L907.36,757.10 L907.60,756.33 L907.83,755.57 L908.07,754.80 L908.31,754.04 L908.55,753.27 L908.79,752.51 L909.03,751.74 L909.28,750.98 L909.54,750.22 L909.81,749.47 L910.08,748.72 L910.37,747.98 L910.66,747.23 L910.96,746.47 L911.26,745.70 L911.57,744.93 L911.90,744.17 L912.24,743.42 L912.60,742.69 L912.98,742.00 L913.39,741.34 L913.82,740.73 L914.30,740.14 L914.85,739.50 L915.47,738.87 L916.13,738.29 L916.83,737.83 L917.54,737.55 L918.26,737.50 L919.04,737.50 L919.86,737.50 L920.70,737.50 L921.51,737.50 L922.27,737.52 L923.05,737.72 L923.83,738.09 L924.55,738.57 L925.19,739.10 L925.70,739.61 L926.12,740.17 L926.49,740.82 L926.82,741.54 L927.13,742.31 L927.42,743.10 L927.70,743.91 L927.99,744.71 L928.28,745.49 L928.61,746.23 L928.94,746.96 L929.29,747.69 L929.63,748.41 L929.98,749.13 L930.33,749.86 L930.67,750.59 L930.99,751.31 L931.31,752.05 L931.61,752.79 L931.88,753.53 L932.15,754.28 L932.40,755.04 L932.64,755.80 L932.88,756.56 L933.11,757.33 L933.33,758.10 L933.55,758.87 L933.77,759.64 L933.98,760.42 L934.20,761.19 L934.41,761.96 L934.63,762.73 L934.85,763.50 L935.08,764.27 L935.31,765.04 L935.53,765.81 L935.76,766.58 L935.98,767.34 L936.21,768.11 L936.43,768.88 L936.66,769.65 L936.88,770.42 L937.10,771.18 L937.33,771.95 L937.56,772.72 L937.78,773.49 L938.01,774.25 L938.24,775.02 L938.47,775.79 L938.71,776.55 L938.94,777.32 L939.17,778.08 L939.41,778.85 L939.64,779.61 L939.88,780.38 L940.11,781.14 L940.35,781.91 L940.59,782.67 L940.83,783.44 L941.07,784.20 L941.31,784.96 L941.55,785.73 L941.80,786.49 L942.05,787.25 L942.30,788.01 L942.55,788.77 L942.80,789.53 L943.06,790.28 L943.32,791.04 L943.58,791.80 L943.84,792.55 L944.11,793.30 L944.38,794.06 L944.66,794.81 L944.94,795.56 L945.21,796.31 L945.49,797.06 L945.78,797.81 L946.06,798.56 L946.35,799.31 L946.63,800.05 L946.92,800.80 L947.21,801.55 L947.49,802.30 L947.77,803.06 L948.05,803.82 L948.32,804.58 L948.59,805.34 L948.87,806.11 L949.14,806.87 L949.42,807.63 L949.70,808.39 L949.99,809.15 L950.28,809.90 L950.58,810.64 L950.89,811.38 L951.20,812.12 L951.53,812.84 L951.86,813.56 L952.21,814.26 L952.57,814.96 L952.95,815.64 L953.34,816.31 L953.77,816.97 L954.23,817.62 L954.71,818.26 L955.22,818.89 L955.74,819.51 L956.27,820.13 L956.81,820.73 L957.36,821.32 L957.91,821.90 L958.46,822.48 L959.02,823.04 L959.60,823.60 L960.18,824.16 L960.78,824.69 L961.39,825.22 L962.01,825.74 L962.63,826.24 L963.26,826.72 L963.90,827.19 L964.55,827.64 L965.22,828.09 L965.89,828.52 L966.57,828.95 L967.26,829.36 L967.95,829.78 L968.64,830.19 L969.33,830.60 L970.02,831.01 L970.71,831.41 L971.40,831.81 L972.10,832.20 L972.81,832.58 L973.51,832.96 L974.22,833.34 L974.93,833.72 L975.63,834.11 L976.32,834.50 L977.01,834.90 L977.70,835.31 L978.37,835.74 L979.05,836.17 L979.72,836.60 L980.38,837.05 L981.05,837.50 L981.71,837.95 L982.36,838.42 L983.02,838.88 L983.66,839.36 L984.31,839.84 L984.95,840.32 L985.58,840.81 L986.21,841.30 L986.83,841.80 L987.43,842.32 L988.03,842.85 L988.62,843.40 L989.20,843.95 L989.78,844.50 L990.36,845.05 L990.95,845.59 L991.55,846.12 L992.17,846.64 L992.79,847.21 L993.43,847.82 L994.07,848.46 L994.72,849.08 L995.37,849.66 L996.02,850.17 L996.67,850.56 L997.31,850.82 L997.94,850.90 L998.60,850.78 L999.29,850.48 L999.99,850.02 L1000.68,849.46 L1001.34,848.83 L1001.95,848.16 L1002.50,847.49 L1002.96,846.86 L1003.34,846.26 L1003.70,845.61 L1004.03,844.93 L1004.34,844.21 L1004.63,843.47 L1004.91,842.71 L1005.17,841.94 L1005.42,841.14 L1005.66,840.34 L1005.90,839.54 L1006.14,838.74 L1006.38,837.94 L1006.62,837.15 L1006.87,836.38 L1007.13,835.62 L1007.39,834.86 L1007.65,834.11 L1007.91,833.35 L1008.16,832.59 L1008.42,831.83 L1008.67,831.07 L1008.92,830.31 L1009.16,829.55 L1009.41,828.79 L1009.66,828.03 L1009.90,827.26 L1010.14,826.50 L1010.38,825.74 L1010.62,824.97 L1010.85,824.21 L1011.09,823.44 L1011.32,822.68 L1011.56,821.91 L1011.79,821.15 L1012.03,820.38 L1012.27,819.62 L1012.51,818.85 L1012.74,818.08 L1012.98,817.32 L1013.21,816.55 L1013.43,815.78 L1013.66,815.01 L1013.88,814.24 L1014.10,813.47 L1014.31,812.70 L1014.51,811.93 L1014.71,811.15 L1014.90,810.38 L1015.09,809.60 L1015.26,808.82 L1015.43,808.05 L1015.59,807.26 L1015.75,806.48 L1015.90,805.70 L1016.05,804.91 L1016.19,804.13 L1016.33,803.34 L1016.47,802.55 L1016.60,801.76 L1016.73,800.97 L1016.86,800.18 L1016.99,799.39 L1017.11,798.59 L1017.24,797.80 L1017.37,797.01 L1017.49,796.22 L1017.62,795.43 L1017.75,794.63 L1017.87,793.84 L1018.01,793.05 L1018.14,792.26 L1018.28,791.47 L1018.42,790.69 L1018.56,789.90 L1018.71,789.11 L1018.86,788.33 L1019.02,787.54 L1019.19,786.76 L1019.36,785.98 L1019.53,785.20 L1019.71,784.42 L1019.89,783.64 L1020.07,782.86 L1020.26,782.09 L1020.46,781.31 L1020.65,780.53 L1020.85,779.75 L1021.06,778.98 L1021.26,778.21 L1021.47,777.43 L1021.69,776.66 L1021.91,775.89 L1022.13,775.12 L1022.35,774.35 L1022.57,773.58 L1022.80,772.82 L1023.04,772.06 L1023.27,771.29 L1023.51,770.53 L1023.75,769.76 L1024.00,769.00 L1024.25,768.23 L1024.51,767.47 L1024.77,766.71 L1025.04,765.96 L1025.31,765.20 L1025.59,764.45 L1025.88,763.70 L1026.18,762.96 L1026.48,762.22 L1026.79,761.49 L1027.10,760.76 L1027.43,760.04 L1027.77,759.31 L1028.11,758.58 L1028.47,757.85 L1028.83,757.13 L1029.20,756.41 L1029.59,755.70 L1029.98,754.99 L1030.39,754.29 L1030.81,753.61 L1031.23,752.93 L1031.67,752.27 L1032.12,751.62 L1032.58,750.99 L1033.07,750.38 L1033.58,749.78 L1034.12,749.19 L1034.68,748.61 L1035.26,748.05 L1035.84,747.49 L1036.44,746.94 L1037.03,746.39 L1037.63,745.84 L1038.22,745.30 L1038.83,744.78 L1039.47,744.28 L1040.12,743.78 L1040.78,743.30 L1041.44,742.81 L1042.10,742.32 L1042.73,741.82 L1043.33,741.31 L1043.91,740.78 L1044.43,740.22 L1044.91,739.63 L1045.36,739.01 L1045.79,738.36 L1046.20,737.69 L1046.59,737.00 L1046.97,736.30 L1047.33,735.57 L1047.69,734.84 L1048.04,734.10 L1048.39,733.36 L1048.73,732.62 L1049.08,731.87 L1049.43,731.14 L1049.79,730.42 L1050.15,729.70 L1050.50,728.97 L1050.84,728.23 L1051.17,727.48 L1051.49,726.73 L1051.82,725.98 L1052.15,725.24 L1052.50,724.51 L1052.86,723.80 L1053.25,723.12 L1053.66,722.47 L1054.11,721.85 L1054.63,721.18 L1055.21,720.46 L1055.83,719.78 L1056.46,719.18 L1057.10,718.74 L1057.72,718.51 L1058.31,718.57 L1058.91,718.88 L1059.52,719.38 L1060.12,720.03 L1060.70,720.75 L1061.26,721.50 L1061.78,722.20 L1062.25,722.83 L1062.71,723.47 L1063.16,724.12 L1063.59,724.79 L1064.02,725.48 L1064.43,726.18 L1064.83,726.89 L1065.21,727.61 L1065.58,728.33 L1065.94,729.06 L1066.27,729.80 L1066.59,730.53 L1066.89,731.27 L1067.18,732.01 L1067.44,732.75 L1067.70,733.50 L1067.93,734.26 L1068.16,735.02 L1068.38,735.79 L1068.59,736.57 L1068.80,737.35 L1069.00,738.13 L1069.20,738.91 L1069.40,739.69 L1069.60,740.47 L1069.80,741.25 L1070.01,742.02 L1070.21,742.80 L1070.42,743.57 L1070.61,744.35 L1070.81,745.13 L1071.00,745.90 L1071.19,746.68 L1071.38,747.46 L1071.57,748.24 L1071.77,749.02 L1071.96,749.80 L1072.16,750.57 L1072.37,751.34 L1072.58,752.11 L1072.80,752.88 L1073.03,753.64 L1073.26,754.40 L1073.51,755.16 L1073.77,755.91 L1074.03,756.67 L1074.31,757.42 L1074.59,758.16 L1074.88,758.91 L1075.17,759.65 L1075.47,760.40 L1075.77,761.14 L1076.08,761.88 L1076.39,762.62 L1076.71,763.36 L1077.02,764.10 L1077.34,764.83 L1077.66,765.57 L1077.98,766.31 L1078.30,767.04 L1078.61,767.78 L1078.93,768.52 L1079.24,769.25 L1079.55,769.99 L1079.86,770.73 L1080.18,771.46 L1080.50,772.19 L1080.82,772.93 L1081.15,773.66 L1081.47,774.39 L1081.80,775.12 L1082.12,775.85 L1082.44,776.59 L1082.77,777.32 L1083.09,778.05 L1083.41,778.78 L1083.72,779.52 L1084.03,780.26 L1084.33,781.01 L1084.63,781.76 L1084.92,782.51 L1085.21,783.26 L1085.51,784.01 L1085.80,784.76 L1086.10,785.51 L1086.40,786.25 L1086.71,786.99 L1087.02,787.73 L1087.35,788.46 L1087.68,789.18 L1088.03,789.89 L1088.39,790.59 L1088.76,791.28 L1089.15,791.96 L1089.56,792.63 L1089.98,793.30 L1090.42,793.96 L1090.86,794.62 L1091.32,795.27 L1091.79,795.92 L1092.27,796.56 L1092.75,797.20 L1093.25,797.84 L1093.74,798.47 L1094.24,799.10 L1094.75,799.74 L1095.25,800.37 L1095.76,801.00 L1096.27,801.63 L1096.77,802.26 L1097.27,802.89 L1097.77,803.53 L1098.26,804.16 L1098.75,804.81 L1099.23,805.45 L1099.70,806.10 L1100.16,806.75 L1100.62,807.40 L1101.08,808.06 L1101.54,808.72 L1102.00,809.37 L1102.45,810.03 L1102.90,810.69 L1103.36,811.35 L1103.81,812.01 L1104.27,812.67 L1104.73,813.32 L1105.19,813.98 L1105.65,814.63 L1106.11,815.28 L1106.58,815.93 L1107.06,816.58 L1107.53,817.22 L1108.01,817.86 L1108.49,818.51 L1108.97,819.15 L1109.45,819.78 L1109.94,820.42 L1110.43,821.05 L1110.93,821.68 L1111.43,822.30 L1111.93,822.92 L1112.44,823.55 L1112.94,824.20 L1113.45,824.86 L1113.96,825.51 L1114.49,826.13 L1115.03,826.70 L1115.61,827.21 L1116.22,827.65 L1116.88,828.07 L1117.59,828.50 L1118.34,828.93 L1119.12,829.32 L1119.90,829.69 L1120.69,830.00 L1121.46,830.25 L1122.20,830.42 L1122.91,830.50 L1123.58,830.47 L1124.23,830.32 L1124.88,830.06 L1125.53,829.70 L1126.16,829.26 L1126.79,828.74 L1127.40,828.16 L1128.01,827.53 L1128.61,826.87 L1129.20,826.18 L1129.77,825.47 L1130.34,824.76 L1130.90,824.07 L1131.45,823.40 L1131.98,822.76 L1132.51,822.17 L1133.02,821.57 L1133.53,820.96 L1134.02,820.33 L1134.51,819.70 L1134.99,819.06 L1135.46,818.40 L1135.92,817.74 L1136.38,817.08 L1136.83,816.40 L1137.27,815.73 L1137.71,815.05 L1138.14,814.37 L1138.57,813.70 L1138.99,813.02 L1139.41,812.34 L1139.83,811.66 L1140.25,810.98 L1140.67,810.29 L1141.09,809.60 L1141.50,808.91 L1141.91,808.21 L1142.32,807.51 L1142.71,806.81 L1143.10,806.10 L1143.48,805.39 L1143.84,804.68 L1144.20,803.96 L1144.54,803.24 L1144.87,802.52 L1145.18,801.79 L1145.48,801.06 L1145.76,800.32 L1146.03,799.58 L1146.30,798.83 L1146.55,798.08 L1146.80,797.33 L1147.04,796.56 L1147.28,795.80 L1147.51,795.03 L1147.73,794.26 L1147.95,793.49 L1148.17,792.71 L1148.38,791.93 L1148.59,791.15 L1148.79,790.38 L1149.00,789.60 L1149.20,788.82 L1149.40,788.04 L1149.60,787.26 L1149.80,786.48 L1150.00,785.71 L1150.20,784.93 L1150.39,784.16 L1150.58,783.38 L1150.77,782.61 L1150.96,781.83 L1151.14,781.05 L1151.32,780.27 L1151.50,779.49 L1151.68,778.71 L1151.85,777.93 L1152.03,777.15 L1152.20,776.37 L1152.37,775.59 L1152.54,774.80 L1152.71,774.02 L1152.88,773.24 L1153.05,772.46 L1153.22,771.67 L1153.39,770.89 L1153.56,770.11 L1153.73,769.33 L1153.91,768.54 L1154.08,767.76 L1154.25,766.98 L1154.43,766.20 L1154.61,765.42 L1154.79,764.64 L1154.97,763.86 L1155.15,763.08 L1155.34,762.30 L1155.54,761.53 L1155.74,760.75 L1155.95,759.98 L1156.16,759.20 L1156.38,758.43 L1156.59,757.65 L1156.80,756.88 L1157.01,756.10 L1157.22,755.33 L1157.42,754.55 L1157.62,753.78 L1157.81,753.00 L1157.99,752.22 L1158.16,751.44 L1158.32,750.66 L1158.47,749.88 L1158.60,749.10 L1158.72,748.31 L1158.84,747.52 L1158.95,746.73 L1159.06,745.94 L1159.16,745.15 L1159.26,744.36 L1159.35,743.56 L1159.44,742.77 L1159.53,741.97 L1159.61,741.17 L1159.69,740.38 L1159.77,739.58 L1159.85,738.78 L1159.93,737.98 L1160.00,737.18 L1160.08,736.38 L1160.16,735.59 L1160.23,734.79 L1160.31,733.99 L1160.40,733.19 L1160.48,732.39 L1160.57,731.60 L1160.66,730.80 L1160.75,730.01 L1160.85,729.21 L1160.96,728.42 L1161.06,727.63 L1161.18,726.84 L1161.30,726.05 L1161.43,725.26 L1161.57,724.48 L1161.72,723.69 L1161.87,722.91 L1162.03,722.12 L1162.20,721.34 L1162.37,720.55 L1162.54,719.77 L1162.71,718.99 L1162.89,718.21 L1163.06,717.43 L1163.23,716.64 L1163.41,715.86 L1163.57,715.08 L1163.74,714.29 L1163.90,713.51 L1164.05,712.72 L1164.20,711.94 L1164.34,711.15 L1164.48,710.36 L1164.61,709.57 L1164.74,708.78 L1164.87,707.99 L1164.99,707.20 L1165.11,706.41 L1165.23,705.62 L1165.34,704.83 L1165.46,704.03 L1165.57,703.24 L1165.68,702.45 L1165.79,701.65 L1165.91,700.86 L1166.02,700.07 L1166.13,699.28 L1166.25,698.48 L1166.36,697.69 L1166.48,696.90 L1166.60,696.11 L1166.72,695.32 L1166.84,694.53 L1166.97,693.74 L1167.10,692.95 L1167.23,692.16 L1167.37,691.37 L1167.51,690.59 L1167.66,689.80 L1167.81,689.02 L1167.97,688.23 L1168.14,687.45 L1168.32,686.67 L1168.50,685.89 L1168.68,685.11 L1168.87,684.33 L1169.06,683.56 L1169.25,682.78 L1169.44,682.00 L1169.63,681.22 L1169.82,680.45 L1170.01,679.67 L1170.20,678.89 L1170.39,678.11 L1170.57,677.33 L1170.75,676.55 L1170.92,675.77 L1171.08,674.99 L1171.24,674.20 L1171.39,673.42 L1171.54,672.63 L1171.67,671.84 L1171.81,671.05 L1171.94,670.26 L1172.08,669.46 L1172.21,668.67 L1172.34,667.88 L1172.48,667.09 L1172.62,666.30 L1172.76,665.52 L1172.91,664.73 L1173.07,663.95 L1173.23,663.17 L1173.41,662.39 L1173.59,661.62 L1173.78,660.84 L1173.99,660.06 L1174.19,659.29 L1174.41,658.51 L1174.64,657.73 L1174.87,656.96 L1175.12,656.19 L1175.37,655.42 L1175.64,654.67 L1175.91,653.91 L1176.20,653.17 L1176.50,652.44 L1176.81,651.71 L1177.13,650.99 L1177.47,650.25 L1177.84,649.49 L1178.23,648.73 L1178.64,647.99 L1179.07,647.28 L1179.53,646.60 L1180.02,645.98 L1180.52,645.43 L1181.05,644.96 L1181.66,644.51 L1182.36,644.06 L1183.13,643.61 L1183.93,643.20 L1184.75,642.83 L1185.55,642.52 L1186.32,642.28 L1187.01,642.14 L1187.62,642.10 L1188.17,642.25 L1188.69,642.57 L1189.20,643.05 L1189.68,643.66 L1190.15,644.38 L1190.60,645.17 L1191.03,646.02 L1191.46,646.89 L1191.87,647.76 L1192.27,648.61 L1192.67,649.40 L1193.07,650.12 L1193.46,650.81 L1193.85,651.51 L1194.23,652.21 L1194.61,652.91 L1194.98,653.62 L1195.35,654.34 L1195.72,655.06 L1196.07,655.78 L1196.42,656.51 L1196.76,657.24 L1197.10,657.97 L1197.42,658.71 L1197.74,659.45 L1198.05,660.19 L1198.35,660.93 L1198.64,661.67 L1198.92,662.42 L1199.19,663.16 L1199.45,663.91 L1199.70,664.66 L1199.94,665.42 L1200.18,666.18 L1200.41,666.95 L1200.63,667.71 L1200.85,668.48 L1201.06,669.26 L1201.27,670.03 L1201.48,670.81 L1201.68,671.58 L1201.88,672.36 L1202.08,673.14 L1202.27,673.92 L1202.47,674.70 L1202.66,675.48 L1202.86,676.26 L1203.05,677.04 L1203.25,677.81 L1203.45,678.59 L1203.64,679.36 L1203.84,680.14 L1204.02,680.92 L1204.21,681.70 L1204.39,682.48 L1204.57,683.26 L1204.75,684.04 L1204.92,684.82 L1205.10,685.60 L1205.27,686.39 L1205.45,687.17 L1205.63,687.95 L1205.81,688.73 L1205.99,689.51 L1206.17,690.29 L1206.36,691.06 L1206.56,691.84 L1206.75,692.62 L1206.96,693.39 L1207.16,694.16 L1207.38,694.93 L1207.61,695.69 L1207.85,696.45 L1208.11,697.21 L1208.37,697.97 L1208.63,698.73 L1208.88,699.49 L1209.12,700.25 L1209.34,701.02 L1209.55,701.79 L1209.76,702.57 L1209.96,703.34 L1210.16,704.12 L1210.35,704.90 L1210.54,705.68 L1210.73,706.45 L1210.92,707.24 L1211.10,708.02 L1211.29,708.79 L1211.48,709.57 L1211.67,710.35 L1211.87,711.13 L1212.07,711.90 L1212.27,712.67 L1212.49,713.44 L1212.71,714.21 L1212.94,714.97 L1213.17,715.73 L1213.42,716.49 L1213.67,717.25 L1213.94,718.00 L1214.20,718.76 L1214.48,719.51 L1214.76,720.26 L1215.04,721.01 L1215.34,721.76 L1215.63,722.51 L1215.94,723.25 L1216.24,723.99 L1216.56,724.73 L1216.87,725.47 L1217.19,726.20 L1217.52,726.93 L1217.84,727.66 L1218.18,728.39 L1218.51,729.12 L1218.84,729.86 L1219.18,730.60 L1219.52,731.35 L1219.87,732.09 L1220.22,732.83 L1220.59,733.56 L1220.97,734.28 L1221.36,734.98 L1221.76,735.67 L1222.18,736.34 L1222.61,736.98 L1223.07,737.60 L1223.54,738.19 L1224.06,738.76 L1224.61,739.31 L1225.20,739.85 L1225.81,740.37 L1226.45,740.88 L1227.10,741.38 L1227.76,741.87 L1228.42,742.35 L1229.08,742.83 L1229.73,743.30 L1230.38,743.77 L1231.05,744.22 L1231.74,744.65 L1232.45,745.07 L1233.17,745.48 L1233.88,745.88 L1234.60,746.28 L1235.31,746.69 L1236.00,747.11 L1236.66,747.54 L1237.30,748.00 L1237.91,748.47 L1238.47,748.97 L1239.00,749.51 L1239.50,750.08 L1239.98,750.68 L1240.45,751.31 L1240.90,751.97 L1241.34,752.64 L1241.77,753.33 L1242.19,754.03 L1242.60,754.75 L1243.01,755.47 L1243.41,756.19 L1243.81,756.91 L1244.21,757.62 L1244.61,758.33 L1245.01,759.02 L1245.42,759.71 L1245.82,760.40 L1246.22,761.09 L1246.61,761.79 L1247.00,762.49 L1247.39,763.19 L1247.77,763.89 L1248.15,764.59 L1248.53,765.30 L1248.91,766.00 L1249.29,766.71 L1249.66,767.42 L1250.04,768.13 L1250.41,768.84 L1250.78,769.55 L1251.15,770.26 L1251.52,770.97 L1251.89,771.68 L1252.24,772.42 L1252.58,773.20 L1252.90,773.99 L1253.22,774.80 L1253.54,775.60 L1253.87,776.38 L1254.22,777.13 L1254.58,777.84 L1254.97,778.49 L1255.39,779.06 L1255.85,779.56 L1256.40,780.00 L1257.06,780.45 L1257.81,780.89 L1258.62,781.31 L1259.46,781.70 L1260.30,782.05 L1261.12,782.33 L1261.88,782.54 L1262.55,782.67 L1263.11,782.70 L1263.62,782.56 L1264.09,782.25 L1264.54,781.79 L1264.97,781.21 L1265.38,780.51 L1265.77,779.73 L1266.15,778.88 L1266.52,777.98 L1266.87,777.06 L1267.22,776.13 L1267.57,775.22 L1267.91,774.35 L1268.25,773.53 L1268.60,772.79 L1268.94,772.08 L1269.28,771.35 L1269.60,770.62 L1269.93,769.89 L1270.25,769.16 L1270.56,768.42 L1270.87,767.69 L1271.17,766.94 L1271.48,766.20 L1271.77,765.46 L1272.07,764.71 L1272.36,763.96 L1272.65,763.22 L1272.94,762.47 L1273.23,761.72 L1273.52,760.97 L1273.81,760.22 L1274.09,759.48 L1274.38,758.73 L1274.66,757.98 L1274.93,757.22 L1275.19,756.47 L1275.45,755.70 L1275.70,754.94 L1275.96,754.18 L1276.21,753.41 L1276.46,752.65 L1276.71,751.89 L1276.97,751.12 L1277.22,750.36 L1277.49,749.61 L1277.75,748.85 L1278.03,748.10 L1278.31,747.36 L1278.61,746.62 L1278.91,745.89 L1279.23,745.16 L1279.56,744.44 L1279.90,743.73 L1280.27,743.03 L1280.64,742.32 L1281.03,741.63 L1281.43,740.93 L1281.83,740.24 L1282.25,739.55 L1282.67,738.87 L1283.09,738.19 L1283.52,737.50 L1283.95,736.82 L1284.38,736.14 L1284.81,735.46 L1285.23,734.77 L1285.65,734.09 L1286.06,733.40 L1286.47,732.72 L1286.90,732.04 L1287.33,731.36 L1287.77,730.68 L1288.21,730.01 L1288.66,729.33 L1289.10,728.66 L1289.54,727.99 L1289.97,727.31 L1290.40,726.63 L1290.81,725.94 L1291.22,725.26 L1291.61,724.56 L1291.98,723.86 L1292.34,723.16 L1292.67,722.44 L1292.99,721.72 L1293.31,721.00 L1293.62,720.26 L1293.92,719.52 L1294.21,718.78 L1294.50,718.03 L1294.78,717.28 L1295.06,716.53 L1295.33,715.77 L1295.59,715.01 L1295.85,714.24 L1296.11,713.48 L1296.36,712.71 L1296.60,711.95 L1296.84,711.18 L1297.07,710.41 L1297.30,709.64 L1297.53,708.88 L1297.75,708.11 L1297.97,707.35 L1298.19,706.58 L1298.40,705.81 L1298.60,705.04 L1298.80,704.26 L1299.00,703.49 L1299.19,702.71 L1299.38,701.94 L1299.57,701.16 L1299.75,700.38 L1299.94,699.60 L1300.11,698.82 L1300.29,698.04 L1300.47,697.26 L1300.64,696.48 L1300.82,695.70 L1300.99,694.91 L1301.16,694.13 L1301.34,693.35 L1301.51,692.56 L1301.68,691.78 L1301.85,691.00 L1302.03,690.21 L1302.20,689.43 L1302.38,688.65 L1302.56,687.87 L1302.74,687.09 L1302.92,686.31 L1303.10,685.53 L1303.29,684.75 L1303.48,683.97 L1303.67,683.20 L1303.86,682.42 L1304.04,681.64 L1304.23,680.86 L1304.42,680.08 L1304.60,679.30 L1304.79,678.52 L1304.98,677.74 L1305.17,676.97 L1305.36,676.19 L1305.55,675.41 L1305.75,674.64 L1305.95,673.86 L1306.15,673.09 L1306.36,672.32 L1306.57,671.54 L1306.78,670.77 L1307.00,670.01 L1307.22,669.23 L1307.44,668.46 L1307.65,667.68 L1307.87,666.90 L1308.10,666.12 L1308.33,665.34 L1308.56,664.56 L1308.80,663.79 L1309.06,663.03 L1309.33,662.28 L1309.61,661.54 L1309.90,660.81 L1310.22,660.09 L1310.55,659.39 L1310.92,658.67 L1311.31,657.94 L1311.74,657.22 L1312.20,656.51 L1312.69,655.84 L1313.21,655.21 L1313.74,654.64 L1314.31,654.15 L1314.91,653.71 L1315.62,653.27 L1316.38,652.86 L1317.17,652.51 L1317.94,652.28 L1318.65,652.20 L1319.32,652.33 L1320.01,652.67 L1320.68,653.15 L1321.34,653.76 L1321.95,654.43 L1322.52,655.12 L1323.02,655.80 L1323.44,656.42 L1323.83,657.05 L1324.19,657.72 L1324.52,658.41 L1324.84,659.13 L1325.14,659.88 L1325.42,660.64 L1325.69,661.41 L1325.95,662.20 L1326.21,662.99 L1326.46,663.78 L1326.71,664.58 L1326.95,665.36 L1327.21,666.14 L1327.47,666.91 L1327.73,667.66 L1327.99,668.42 L1328.24,669.18 L1328.49,669.94 L1328.73,670.70 L1328.97,671.46 L1329.21,672.23 L1329.44,672.99 L1329.68,673.76 L1329.91,674.52 L1330.15,675.29 L1330.38,676.05 L1330.62,676.82 L1330.86,677.58 L1331.10,678.35 L1331.34,679.11 L1331.59,679.87 L1331.84,680.63 L1332.09,681.39 L1332.34,682.15 L1332.60,682.91 L1332.86,683.67 L1333.12,684.42 L1333.37,685.18 L1333.63,685.94 L1333.89,686.70 L1334.15,687.45 L1334.41,688.21 L1334.66,688.97 L1334.92,689.73 L1335.17,690.49 L1335.42,691.25 L1335.66,692.01 L1335.91,692.77 L1336.15,693.53 L1336.38,694.30 L1336.61,695.06 L1336.84,695.83 L1337.06,696.60 L1337.28,697.37 L1337.50,698.14 L1337.72,698.91 L1337.93,699.68 L1338.15,700.45 L1338.37,701.22 L1338.59,701.99 L1338.82,702.76 L1339.04,703.53 L1339.28,704.29 L1339.52,705.05 L1339.76,705.82 L1340.01,706.58 L1340.26,707.33 L1340.52,708.09 L1340.78,708.85 L1341.05,709.60 L1341.31,710.36 L1341.58,711.11 L1341.85,711.87 L1342.12,712.62 L1342.39,713.38 L1342.66,714.13 L1342.93,714.88 L1343.19,715.64 L1343.46,716.39 L1343.73,717.15 L1343.98,717.91 L1344.23,718.68 L1344.48,719.45 L1344.72,720.23 L1344.97,721.00 L1345.21,721.78 L1345.45,722.56 L1345.70,723.33 L1345.95,724.10 L1346.21,724.87 L1346.47,725.63 L1346.74,726.38 L1347.02,727.13 L1347.31,727.87 L1347.61,728.59 L1347.92,729.31 L1348.25,730.01 L1348.60,730.70 L1348.97,731.38 L1349.37,732.05 L1349.80,732.71 L1350.25,733.37 L1350.72,734.02 L1351.21,734.66 L1351.72,735.30 L1352.24,735.92 L1352.77,736.54 L1353.32,737.15 L1353.87,737.76 L1354.42,738.35 L1354.98,738.94 L1355.53,739.52 L1356.08,740.08 L1356.64,740.64 L1357.22,741.19 L1357.80,741.74 L1358.40,742.27 L1359.01,742.79 L1359.63,743.31 L1360.25,743.82 L1360.88,744.33 L1361.51,744.83 L1362.14,745.32 L1362.77,745.82 L1363.40,746.31 L1364.03,746.79 L1364.68,747.26 L1365.32,747.73 L1365.98,748.20 L1366.63,748.66 L1367.29,749.12 L1367.95,749.57 L1368.61,750.03 L1369.26,750.49 L1369.92,750.94 L1370.58,751.40 L1371.23,751.86 L1371.89,752.32 L1372.54,752.78 L1373.20,753.23 L1373.86,753.69 L1374.52,754.14 L1375.18,754.60 L1375.84,755.05 L1376.50,755.50" fill="none" stroke="#0000ff" stroke-width="5.6" stroke-linecap="round" stroke-linejoin="round" stroke-dasharray="16.00 21.61 16.00 20.81 16.00 21.61 14.40 24.01 13.60 21.61 14.62 16.87 14.41 22.41 14.42 15.35 15.62 22.41 15.21 24.88 17.80 27.28 17.50 25.22 14.41 25.61 11.20 23.21 15.21 21.84 15.27 24.01 15.20 22.51 18.36 28.82 21.13 24.04 15.21 23.21 14.41 23.25 17.60 25.65 16.32 23.22 16.01 24.00 17.64 27.27 20.39 26.43 16.02 21.61 15.21 22.41 15.21 21.61 15.21 23.25 16.88 25.18 15.22 23.21 15.21 24.07 20.00 24.88 17.70 26.84 15.20 24.84 16.01 22.41 16.01 12.01 18.63 23.33 16.00 23.21 15.99 28.89 8.00 1824.55" stroke-dashoffset="-1.62"/>
<path d="M754.50,737.40 L755.05,738.00 L755.59,738.61 L756.12,739.24 L756.62,739.87 L757.09,740.51 L757.52,741.17 L757.92,741.85 L758.28,742.53 L758.63,743.24 L758.97,743.96 L759.29,744.69 L759.61,745.43 L759.91,746.18 L760.20,746.94 L760.47,747.71 L760.73,748.48 L760.97,749.25 L761.20,750.03 L761.41,750.80 L761.60,751.57 L761.78,752.34 L761.94,753.12 L762.10,753.89 L762.25,754.67 L762.39,755.46 L762.52,756.24 L762.65,757.03 L762.77,757.82 L762.89,758.61 L763.01,759.41 L763.12,760.20 L763.23,761.00 L763.33,761.80 L763.44,762.59 L763.54,763.39 L763.64,764.19 L763.74,764.99 L763.85,765.79 L763.95,766.58 L764.06,767.38 L764.17,768.17 L764.28,768.96 L764.39,769.76 L764.50,770.55 L764.60,771.34 L764.71,772.13 L764.81,772.93 L764.92,773.72 L765.02,774.51 L765.13,775.31 L765.23,776.10 L765.33,776.89 L765.43,777.69 L765.53,778.48 L765.63,779.28 L765.73,780.07 L765.84,780.86 L765.94,781.66 L766.04,782.45 L766.14,783.24 L766.24,784.04 L766.35,784.83 L766.45,785.62 L766.55,786.42 L766.65,787.21 L766.75,788.00 L766.85,788.80 L766.96,789.59 L767.06,790.39 L767.16,791.18 L767.26,791.97 L767.36,792.77 L767.46,793.56 L767.56,794.35 L767.67,795.15 L767.77,795.94 L767.87,796.73 L767.97,797.53 L768.08,798.32 L768.18,799.11 L768.29,799.91 L768.39,800.70 L768.50,801.49 L768.61,802.29 L768.71,803.08 L768.82,803.87 L768.93,804.66 L769.03,805.46 L769.14,806.25 L769.25,807.04 L769.36,807.83 L769.47,808.63 L769.58,809.42 L769.69,810.21 L769.80,811.00 L769.91,811.80 L770.02,812.59 L770.13,813.38 L770.24,814.17 L770.35,814.97 L770.46,815.76 L770.57,816.55 L770.68,817.34 L770.79,818.14 L770.90,818.93 L771.01,819.72 L771.12,820.52 L771.23,821.31 L771.34,822.10 L771.45,822.89 L771.56,823.68 L771.68,824.48 L771.80,825.27 L771.92,826.06 L772.04,826.85 L772.16,827.64 L772.29,828.43 L772.42,829.22 L772.56,830.00 L772.72,830.79 L772.88,831.58 L773.04,832.36 L773.21,833.15 L773.39,833.93 L773.56,834.71 L773.74,835.50 L773.91,836.28 L774.09,837.06 L774.26,837.85 L774.42,838.63 L774.58,839.42 L774.73,840.20 L774.88,840.99 L775.01,841.78 L775.13,842.56 L775.24,843.35 L775.33,844.14 L775.41,844.93 L775.48,845.73 L775.55,846.52 L775.60,847.32 L775.66,848.12 L775.71,848.91 L775.75,849.71 L775.79,850.51 L775.83,851.31 L775.87,852.11 L775.91,852.91 L775.95,853.71 L775.99,854.51 L776.03,855.32 L776.07,856.12 L776.11,856.92 L776.16,857.72 L776.21,858.52 L776.26,859.31 L776.32,860.11 L776.38,860.91 L776.45,861.70 L776.53,862.50 L776.62,863.29 L776.71,864.08 L776.81,864.88 L776.92,865.67 L777.03,866.46 L777.15,867.25 L777.27,868.05 L777.39,868.84 L777.51,869.63 L777.64,870.42 L777.76,871.21 L777.89,872.00 L778.01,872.79 L778.14,873.59 L778.26,874.38 L778.38,875.17 L778.49,875.97 L778.60,876.80 L778.69,877.66 L778.78,878.54 L778.86,879.42 L778.95,880.31 L779.03,881.20 L779.12,882.08 L779.21,882.95 L779.32,883.80 L779.43,884.61 L779.56,885.40 L779.71,886.15 L779.87,886.84 L780.06,887.49 L780.27,888.08 L780.50,888.60 L781.00,889.12 L781.80,889.61 L782.62,889.94 L783.23,889.98 L783.76,889.77 L784.27,889.37 L784.75,888.81 L785.22,888.11 L785.66,887.31 L786.07,886.44 L786.46,885.54 L786.82,884.64 L787.15,883.76 L787.44,882.93 L787.71,882.19 L787.95,881.46 L788.18,880.71 L788.40,879.95 L788.60,879.19 L788.79,878.42 L788.97,877.64 L789.15,876.85 L789.31,876.06 L789.47,875.27 L789.63,874.47 L789.79,873.67 L789.94,872.87 L790.10,872.08 L790.26,871.28 L790.42,870.49 L790.59,869.71 L790.76,868.92 L790.93,868.14 L791.10,867.36 L791.26,866.57 L791.42,865.78 L791.58,865.00 L791.73,864.21 L791.88,863.42 L792.04,862.63 L792.19,861.84 L792.34,861.05 L792.49,860.26 L792.65,859.47 L792.81,858.68 L792.97,857.90 L793.13,857.12 L793.31,856.33 L793.48,855.56 L793.66,854.78 L793.85,854.01 L794.05,853.23 L794.25,852.47 L794.46,851.70 L794.69,850.95 L794.92,850.17 L795.15,849.36 L795.40,848.53 L795.66,847.70 L795.94,846.88 L796.23,846.08 L796.55,845.31 L796.90,844.60 L797.27,843.95 L797.67,843.37 L798.11,842.89 L798.71,842.42 L799.46,841.96 L800.30,841.53 L801.14,841.16 L801.94,840.88 L802.62,840.72 L803.12,840.74 L803.55,841.02 L803.94,841.56 L804.29,842.28 L804.62,843.14 L804.93,844.07 L805.24,845.03 L805.56,845.95 L805.89,846.77 L806.25,847.50 L806.61,848.21 L806.97,848.93 L807.33,849.64 L807.70,850.35 L808.06,851.07 L808.42,851.78 L808.78,852.49 L809.14,853.21 L809.49,853.93 L809.83,854.65 L810.17,855.37 L810.51,856.10 L810.83,856.83 L811.15,857.57 L811.46,858.31 L811.77,859.05 L812.08,859.79 L812.38,860.54 L812.68,861.28 L812.98,862.03 L813.28,862.77 L813.58,863.52 L813.88,864.26 L814.19,865.00 L814.50,865.74 L814.81,866.48 L815.13,867.21 L815.46,867.94 L815.79,868.66 L816.13,869.38 L816.48,870.10 L816.84,870.80 L817.21,871.50 L817.59,872.20 L817.98,872.90 L818.38,873.60 L818.79,874.29 L819.21,874.98 L819.64,875.66 L820.08,876.34 L820.53,877.00 L820.99,877.66 L821.46,878.30 L821.94,878.93 L822.43,879.58 L822.93,880.31 L823.44,881.07 L823.97,881.84 L824.51,882.57 L825.07,883.23 L825.65,883.79 L826.25,884.21 L826.87,884.45 L827.52,884.50 L828.22,884.46 L828.96,884.40 L829.75,884.30 L830.55,884.18 L831.38,884.05 L832.22,883.92 L833.06,883.78 L833.89,883.65 L834.71,883.54 L835.50,883.44 L836.30,883.35 L837.09,883.26 L837.89,883.17 L838.68,883.09 L839.48,883.00 L840.27,882.91 L841.07,882.82 L841.86,882.73 L842.66,882.63 L843.45,882.52 L844.24,882.41 L845.03,882.28 L845.82,882.15 L846.60,882.00 L847.39,881.86 L848.18,881.71 L848.96,881.56 L849.75,881.41 L850.54,881.26 L851.33,881.12 L852.11,880.98 L852.92,880.86 L853.76,880.75 L854.61,880.64 L855.47,880.55 L856.33,880.45 L857.19,880.35 L858.03,880.24 L858.84,880.13 L859.62,880.00 L860.35,879.85 L861.04,879.68 L861.67,879.48 L862.24,879.23 L862.77,878.82 L863.26,878.27 L863.72,877.61 L864.17,876.87 L864.60,876.08 L865.01,875.28 L865.43,874.50 L865.84,873.76 L866.26,873.07 L866.68,872.39 L867.10,871.71 L867.51,871.02 L867.91,870.32 L868.31,869.63 L868.70,868.93 L869.08,868.22 L869.45,867.51 L869.81,866.80 L870.16,866.08 L870.49,865.36 L870.83,864.64 L871.16,863.91 L871.48,863.18 L871.80,862.45 L872.12,861.71 L872.43,860.98 L872.73,860.23 L873.03,859.49 L873.33,858.74 L873.62,858.00 L873.91,857.25 L874.20,856.50 L874.48,855.75 L874.76,854.99 L875.03,854.24 L875.30,853.49 L875.57,852.73 L875.83,851.98 L876.09,851.22 L876.35,850.47 L876.60,849.71 L876.84,848.95 L877.07,848.18 L877.30,847.42 L877.53,846.65 L877.75,845.88 L877.97,845.11 L878.19,844.34 L878.40,843.57 L878.61,842.79 L878.82,842.02 L879.03,841.25 L879.25,840.47 L879.46,839.70 L879.68,838.93 L879.90,838.16 L880.12,837.39 L880.35,836.62 L880.58,835.86 L880.81,835.10 L881.06,834.33 L881.31,833.58 L881.56,832.82 L881.82,832.06 L882.09,831.31 L882.35,830.55 L882.62,829.80 L882.90,829.05 L883.17,828.30 L883.46,827.55 L883.74,826.80 L884.03,826.05 L884.32,825.30 L884.62,824.56 L884.92,823.82 L885.22,823.07 L885.53,822.34 L885.84,821.60 L886.15,820.87 L886.47,820.13 L886.79,819.40 L887.12,818.67 L887.46,817.94 L887.79,817.21 L888.14,816.49 L888.50,815.77 L888.86,815.05 L889.24,814.35 L889.62,813.65 L890.02,812.96 L890.45,812.29 L890.92,811.64 L891.42,811.00 L891.93,810.37 L892.45,809.74 L892.97,809.11 L893.48,808.48 L893.97,807.85 L894.42,807.19 L894.82,806.53 L895.18,805.84 L895.51,805.14 L895.83,804.44 L896.15,803.72 L896.46,802.99 L896.77,802.26 L897.07,801.52 L897.36,800.77 L897.64,800.02 L897.92,799.26 L898.19,798.50 L898.45,797.73 L898.71,796.96 L898.96,796.18 L899.19,795.40 L899.42,794.62 L899.64,793.84 L899.86,793.05 L900.06,792.27 L900.26,791.48 L900.44,790.69 L900.62,789.90 L900.78,789.12 L900.94,788.33 L901.09,787.55 L901.22,786.77 L901.35,785.99 L901.46,785.20 L901.57,784.42 L901.67,783.62 L901.76,782.83 L901.85,782.03 L901.94,781.24 L902.02,780.44 L902.10,779.64 L902.18,778.84 L902.27,778.04 L902.35,777.24 L902.44,776.44 L902.54,775.65 L902.64,774.85 L902.75,774.06 L902.86,773.27 L902.98,772.48 L903.10,771.69 L903.22,770.90 L903.35,770.11 L903.48,769.32 L903.61,768.53 L903.74,767.74 L903.88,766.95 L904.01,766.16 L904.15,765.37 L904.28,764.58 L904.42,763.80 L904.55,763.01 L904.68,762.22 L904.81,761.43 L904.93,760.64 L905.05,759.85 L905.18,759.06 L905.30,758.27 L905.42,757.47 L905.55,756.68 L905.67,755.89 L905.79,755.10 L905.91,754.31 L906.04,753.52 L906.16,752.73 L906.28,751.94 L906.40,751.15 L906.52,750.36 L906.63,749.56 L906.75,748.77 L906.86,747.98 L906.98,747.19 L907.09,746.40 L907.20,745.61 L907.31,744.81 L907.41,744.02 L907.52,743.23 L907.62,742.43 L907.72,741.64 L907.81,740.85 L907.90,740.05 L907.99,739.25 L908.07,738.46 L908.16,737.66 L908.24,736.87 L908.32,736.07 L908.40,735.27 L908.49,734.48 L908.57,733.68 L908.66,732.88 L908.74,732.09 L908.84,731.29 L908.93,730.50 L909.03,729.71 L909.14,728.92 L909.25,728.13 L909.38,727.34 L909.51,726.55 L909.64,725.76 L909.79,724.98 L909.93,724.19 L910.09,723.40 L910.24,722.62 L910.40,721.84 L910.57,721.05 L910.73,720.27 L910.89,719.48 L911.06,718.70 L911.22,717.91 L911.38,717.13 L911.53,716.34 L911.69,715.56 L911.83,714.77 L911.97,713.98 L912.10,713.19 L912.23,712.40 L912.35,711.60 L912.46,710.80 L912.57,710.00 L912.68,709.20 L912.80,708.40 L912.91,707.60 L913.03,706.81 L913.16,706.02 L913.30,705.23 L913.44,704.45 L913.60,703.67 L913.77,702.91 L913.96,702.15 L914.17,701.34 L914.41,700.42 L914.69,699.45 L915.00,698.51 L915.34,697.67 L915.73,697.01 L916.15,696.60 L916.63,696.51 L917.32,696.64 L918.17,696.91 L919.00,697.25 L919.69,697.61 L920.33,698.08 L920.94,698.65 L921.50,699.30 L921.97,699.98 L922.32,700.65 L922.61,701.33 L922.87,702.02 L923.11,702.74 L923.33,703.48 L923.54,704.23 L923.73,705.00 L923.91,705.79 L924.08,706.58 L924.24,707.38 L924.39,708.20 L924.54,709.01 L924.68,709.83 L924.81,710.65 L924.95,711.47 L925.09,712.29 L925.23,713.10 L925.37,713.91 L925.52,714.70 L925.68,715.49 L925.83,716.27 L925.99,717.06 L926.14,717.84 L926.29,718.63 L926.44,719.41 L926.59,720.20 L926.73,720.99 L926.88,721.77 L927.02,722.56 L927.16,723.35 L927.30,724.14 L927.44,724.93 L927.58,725.71 L927.71,726.50 L927.84,727.29 L927.97,728.08 L928.10,728.87 L928.23,729.66 L928.36,730.45 L928.48,731.24 L928.60,732.03 L928.72,732.82 L928.83,733.61 L928.94,734.41 L929.05,735.20 L929.15,735.99 L929.25,736.79 L929.35,737.58 L929.45,738.38 L929.54,739.17 L929.64,739.97 L929.74,740.76 L929.83,741.56 L929.93,742.35 L930.04,743.14 L930.14,743.94 L930.25,744.73 L930.37,745.52 L930.49,746.31 L930.61,747.10 L930.74,747.89 L930.88,748.67 L931.03,749.46 L931.17,750.25 L931.33,751.03 L931.48,751.82 L931.64,752.60 L931.80,753.39 L931.96,754.17 L932.12,754.95 L932.28,755.74 L932.45,756.52 L932.60,757.31 L932.76,758.09 L932.92,758.88 L933.07,759.66 L933.22,760.45 L933.36,761.24 L933.50,762.02 L933.64,762.81 L933.77,763.60 L933.90,764.39 L934.03,765.18 L934.16,765.97 L934.29,766.76 L934.42,767.55 L934.54,768.34 L934.67,769.13 L934.80,769.92 L934.93,770.71 L935.05,771.50 L935.18,772.29 L935.32,773.08 L935.45,773.87 L935.59,774.66 L935.73,775.44 L935.87,776.23 L936.01,777.02 L936.16,777.80 L936.32,778.59 L936.48,779.37 L936.64,780.15 L936.81,780.93 L936.99,781.71 L937.17,782.49 L937.36,783.27 L937.54,784.05 L937.73,784.82 L937.92,785.60 L938.11,786.38 L938.30,787.16 L938.49,787.94 L938.68,788.71 L938.87,789.49 L939.05,790.27 L939.23,791.05 L939.41,791.83 L939.57,792.61 L939.73,793.40 L939.89,794.19 L940.04,794.99 L940.18,795.78 L940.32,796.58 L940.46,797.38 L940.60,798.17 L940.75,798.97 L940.89,799.76 L941.04,800.55 L941.20,801.33 L941.37,802.12 L941.55,802.89 L941.73,803.66 L941.93,804.42 L942.15,805.18 L942.38,805.92 L942.63,806.67 L942.92,807.43 L943.23,808.18 L943.58,808.93 L943.96,809.67 L944.37,810.37 L944.79,811.05 L945.25,811.68 L945.73,812.28 L946.28,812.92 L946.90,813.55 L947.56,814.07 L948.26,814.37 L948.98,814.43 L949.78,814.46 L950.62,814.48 L951.44,814.50 L952.21,814.49 L952.95,814.32 L953.67,813.99 L954.38,813.53 L955.07,813.01 L955.72,812.48 L956.34,811.99 L956.92,811.47 L957.47,810.90 L957.99,810.29 L958.49,809.65 L958.99,808.99 L959.48,808.33 L959.97,807.67 L960.48,807.04 L961.01,806.44 L961.56,805.88 L962.15,805.38 L962.77,804.89 L963.40,804.40 L964.06,803.91 L964.73,803.43 L965.42,802.97 L966.12,802.53 L966.84,802.12 L967.56,801.75 L968.29,801.42 L969.03,801.15 L969.77,800.93 L970.52,800.76 L971.29,800.60 L972.07,800.45 L972.87,800.32 L973.68,800.21 L974.49,800.12 L975.29,800.04 L976.09,800.00 L976.90,799.96 L977.72,799.92 L978.55,799.89 L979.38,799.86 L980.20,799.84 L981.01,799.82 L981.79,799.81 L982.53,799.80 L983.24,799.82 L983.92,799.98 L984.59,800.27 L985.23,800.69 L985.86,801.19 L986.48,801.77 L987.09,802.40 L987.69,803.06 L988.28,803.73 L988.88,804.38 L989.47,805.00 L990.06,805.56 L990.65,806.14 L991.23,806.80 L991.80,807.50 L992.36,808.24 L992.91,808.99 L993.47,809.73 L994.02,810.43 L994.58,811.09 L995.14,811.66 L995.70,812.14 L996.28,812.51 L996.87,812.73 L997.47,812.80 L998.10,812.67 L998.77,812.37 L999.45,811.92 L1000.14,811.37 L1000.81,810.76 L1001.45,810.12 L1002.05,809.49 L1002.58,808.91 L1003.09,808.33 L1003.59,807.71 L1004.07,807.06 L1004.54,806.39 L1004.99,805.70 L1005.41,804.99 L1005.81,804.27 L1006.18,803.54 L1006.52,802.81 L1006.82,802.08 L1007.09,801.35 L1007.32,800.62 L1007.55,799.87 L1007.76,799.12 L1007.95,798.35 L1008.13,797.58 L1008.31,796.80 L1008.47,796.01 L1008.63,795.22 L1008.79,794.42 L1008.94,793.62 L1009.08,792.83 L1009.23,792.03 L1009.38,791.23 L1009.54,790.43 L1009.70,789.64 L1009.86,788.85 L1010.04,788.07 L1010.22,787.29 L1010.40,786.51 L1010.59,785.73 L1010.78,784.95 L1010.96,784.17 L1011.15,783.40 L1011.34,782.62 L1011.53,781.84 L1011.73,781.07 L1011.92,780.29 L1012.12,779.51 L1012.31,778.74 L1012.51,777.96 L1012.72,777.19 L1012.95,776.42 L1013.19,775.65 L1013.44,774.88 L1013.69,774.11 L1013.93,773.34 L1014.16,772.57 L1014.36,771.80 L1014.54,771.02 L1014.69,770.25 L1014.79,769.46 L1014.87,768.68 L1014.93,767.89 L1014.99,767.09 L1015.04,766.30 L1015.09,765.50 L1015.13,764.70 L1015.17,763.90 L1015.20,763.10 L1015.23,762.30 L1015.27,761.49 L1015.30,760.69 L1015.33,759.88 L1015.37,759.08 L1015.41,758.28 L1015.46,757.48 L1015.52,756.68 L1015.58,755.88 L1015.65,755.09 L1015.73,754.30 L1015.82,753.50 L1015.92,752.71 L1016.03,751.92 L1016.15,751.13 L1016.28,750.34 L1016.41,749.55 L1016.54,748.76 L1016.68,747.97 L1016.83,747.18 L1016.97,746.39 L1017.12,745.60 L1017.26,744.81 L1017.41,744.03 L1017.55,743.24 L1017.69,742.45 L1017.83,741.66 L1017.97,740.88 L1018.12,740.09 L1018.27,739.31 L1018.42,738.52 L1018.58,737.74 L1018.74,736.95 L1018.90,736.17 L1019.06,735.38 L1019.22,734.60 L1019.38,733.82 L1019.54,733.03 L1019.71,732.25 L1019.87,731.47 L1020.04,730.68 L1020.20,729.90 L1020.36,729.12 L1020.52,728.33 L1020.68,727.55 L1020.84,726.76 L1020.99,725.98 L1021.14,725.19 L1021.29,724.41 L1021.44,723.62 L1021.58,722.83 L1021.72,722.05 L1021.86,721.26 L1021.99,720.47 L1022.12,719.68 L1022.25,718.89 L1022.38,718.10 L1022.50,717.31 L1022.63,716.52 L1022.76,715.73 L1022.88,714.94 L1023.01,714.15 L1023.15,713.36 L1023.28,712.57 L1023.42,711.78 L1023.57,711.00 L1023.72,710.21 L1023.87,709.43 L1024.03,708.64 L1024.19,707.86 L1024.36,707.07 L1024.52,706.29 L1024.69,705.51 L1024.86,704.72 L1025.04,703.94 L1025.22,703.16 L1025.40,702.37 L1025.59,701.60 L1025.78,700.82 L1025.97,700.04 L1026.17,699.27 L1026.38,698.49 L1026.59,697.72 L1026.80,696.96 L1027.02,696.19 L1027.25,695.43 L1027.49,694.67 L1027.74,693.92 L1028.00,693.16 L1028.27,692.41 L1028.54,691.66 L1028.83,690.92 L1029.12,690.17 L1029.42,689.43 L1029.73,688.69 L1030.04,687.95 L1030.35,687.21 L1030.67,686.47 L1030.99,685.73 L1031.30,685.00 L1031.62,684.26 L1031.94,683.52 L1032.25,682.78 L1032.57,682.04 L1032.87,681.30 L1033.18,680.57 L1033.49,679.83 L1033.81,679.09 L1034.14,678.36 L1034.47,677.63 L1034.81,676.90 L1035.15,676.17 L1035.49,675.44 L1035.83,674.71 L1036.16,673.98 L1036.50,673.25 L1036.83,672.52 L1037.15,671.79 L1037.47,671.05 L1037.78,670.32 L1038.08,669.58 L1038.38,668.84 L1038.66,668.09 L1038.92,667.34 L1039.18,666.59 L1039.41,665.83 L1039.64,665.07 L1039.86,664.31 L1040.08,663.54 L1040.28,662.77 L1040.49,662.00 L1040.68,661.22 L1040.87,660.45 L1041.06,659.67 L1041.24,658.89 L1041.43,658.10 L1041.60,657.32 L1041.78,656.54 L1041.96,655.75 L1042.13,654.97 L1042.31,654.19 L1042.48,653.40 L1042.66,652.62 L1042.84,651.84 L1043.01,651.06 L1043.19,650.28 L1043.36,649.50 L1043.53,648.72 L1043.70,647.94 L1043.87,647.16 L1044.03,646.37 L1044.20,645.59 L1044.36,644.81 L1044.53,644.02 L1044.69,643.24 L1044.86,642.46 L1045.02,641.67 L1045.19,640.89 L1045.35,640.11 L1045.52,639.33 L1045.69,638.55 L1045.86,637.76 L1046.02,636.98 L1046.19,636.19 L1046.35,635.41 L1046.51,634.62 L1046.67,633.84 L1046.82,633.05 L1046.98,632.27 L1047.14,631.48 L1047.30,630.69 L1047.46,629.91 L1047.62,629.12 L1047.78,628.34 L1047.95,627.55 L1048.12,626.77 L1048.29,625.99 L1048.47,625.21 L1048.65,624.43 L1048.83,623.65 L1049.02,622.88 L1049.22,622.11 L1049.42,621.34 L1049.63,620.57 L1049.84,619.80 L1050.05,619.02 L1050.27,618.23 L1050.50,617.44 L1050.73,616.64 L1050.97,615.86 L1051.22,615.08 L1051.49,614.31 L1051.77,613.56 L1052.08,612.83 L1052.40,612.12 L1052.75,611.44 L1053.13,610.79 L1053.60,610.08 L1054.16,609.32 L1054.77,608.60 L1055.40,607.97 L1056.02,607.52 L1056.58,607.31 L1057.09,607.40 L1057.60,607.79 L1058.10,608.41 L1058.59,609.18 L1059.04,610.03 L1059.47,610.90 L1059.86,611.71 L1060.20,612.42 L1060.52,613.14 L1060.82,613.87 L1061.11,614.61 L1061.38,615.37 L1061.63,616.13 L1061.88,616.90 L1062.13,617.67 L1062.36,618.44 L1062.60,619.22 L1062.84,619.99 L1063.08,620.75 L1063.33,621.51 L1063.58,622.27 L1063.82,623.03 L1064.07,623.80 L1064.31,624.56 L1064.55,625.32 L1064.80,626.09 L1065.04,626.85 L1065.27,627.62 L1065.51,628.38 L1065.74,629.15 L1065.97,629.91 L1066.20,630.68 L1066.43,631.45 L1066.65,632.22 L1066.87,632.99 L1067.08,633.76 L1067.29,634.53 L1067.50,635.31 L1067.70,636.08 L1067.90,636.85 L1068.09,637.63 L1068.28,638.40 L1068.46,639.18 L1068.63,639.96 L1068.80,640.74 L1068.96,641.52 L1069.12,642.31 L1069.27,643.09 L1069.42,643.88 L1069.57,644.67 L1069.71,645.45 L1069.86,646.24 L1070.01,647.03 L1070.15,647.82 L1070.30,648.60 L1070.46,649.39 L1070.61,650.17 L1070.78,650.96 L1070.94,651.74 L1071.12,652.52 L1071.29,653.30 L1071.47,654.08 L1071.66,654.86 L1071.85,655.63 L1072.04,656.41 L1072.23,657.19 L1072.42,657.96 L1072.62,658.74 L1072.82,659.52 L1073.02,660.29 L1073.21,661.07 L1073.41,661.84 L1073.61,662.62 L1073.81,663.39 L1074.00,664.17 L1074.19,664.95 L1074.38,665.72 L1074.57,666.50 L1074.76,667.28 L1074.94,668.06 L1075.12,668.84 L1075.30,669.62 L1075.48,670.40 L1075.66,671.18 L1075.84,671.96 L1076.01,672.74 L1076.19,673.52 L1076.37,674.30 L1076.55,675.08 L1076.73,675.86 L1076.91,676.64 L1077.09,677.42 L1077.27,678.20 L1077.46,678.98 L1077.64,679.75 L1077.84,680.53 L1078.03,681.31 L1078.23,682.08 L1078.43,682.85 L1078.63,683.63 L1078.84,684.40 L1079.06,685.17 L1079.27,685.94 L1079.49,686.71 L1079.72,687.47 L1079.94,688.24 L1080.17,689.01 L1080.40,689.78 L1080.64,690.54 L1080.87,691.31 L1081.11,692.07 L1081.35,692.83 L1081.60,693.60 L1081.84,694.36 L1082.09,695.12 L1082.34,695.88 L1082.58,696.64 L1082.84,697.40 L1083.09,698.16 L1083.34,698.92 L1083.60,699.68 L1083.86,700.43 L1084.12,701.19 L1084.39,701.94 L1084.66,702.69 L1084.93,703.45 L1085.20,704.20 L1085.48,704.95 L1085.76,705.70 L1086.03,706.45 L1086.31,707.20 L1086.59,707.95 L1086.87,708.70 L1087.15,709.45 L1087.43,710.20 L1087.71,710.95 L1087.99,711.70 L1088.26,712.45 L1088.53,713.21 L1088.81,713.96 L1089.08,714.71 L1089.35,715.47 L1089.62,716.22 L1089.89,716.98 L1090.16,717.73 L1090.44,718.48 L1090.71,719.24 L1090.99,719.99 L1091.26,720.74 L1091.54,721.49 L1091.82,722.24 L1092.10,722.99 L1092.39,723.74 L1092.68,724.49 L1092.97,725.23 L1093.26,725.97 L1093.56,726.71 L1093.87,727.45 L1094.18,728.18 L1094.49,728.92 L1094.81,729.65 L1095.13,730.38 L1095.45,731.11 L1095.78,731.84 L1096.11,732.57 L1096.45,733.31 L1096.79,734.04 L1097.13,734.77 L1097.48,735.49 L1097.83,736.22 L1098.19,736.94 L1098.55,737.65 L1098.92,738.37 L1099.30,739.07 L1099.68,739.78 L1100.07,740.48 L1100.47,741.17 L1100.87,741.85 L1101.28,742.53 L1101.70,743.20 L1102.13,743.88 L1102.56,744.57 L1103.01,745.27 L1103.46,745.97 L1103.93,746.65 L1104.42,747.32 L1104.92,747.97 L1105.44,748.57 L1105.98,749.14 L1106.55,749.65 L1107.13,750.10 L1107.78,750.54 L1108.50,751.00 L1109.26,751.44 L1110.04,751.85 L1110.82,752.20 L1111.58,752.47 L1112.31,752.65 L1112.97,752.70 L1113.59,752.56 L1114.19,752.22 L1114.78,751.72 L1115.34,751.09 L1115.90,750.38 L1116.44,749.63 L1116.97,748.87 L1117.49,748.15 L1118.00,747.50 L1118.52,746.89 L1119.03,746.27 L1119.54,745.65 L1120.05,745.02 L1120.55,744.38 L1121.04,743.74 L1121.52,743.09 L1121.99,742.44 L1122.45,741.77 L1122.89,741.11 L1123.32,740.43 L1123.72,739.75 L1124.11,739.07 L1124.48,738.38 L1124.83,737.67 L1125.18,736.97 L1125.52,736.25 L1125.85,735.52 L1126.18,734.79 L1126.50,734.06 L1126.80,733.31 L1127.11,732.57 L1127.40,731.82 L1127.69,731.06 L1127.97,730.30 L1128.25,729.55 L1128.52,728.78 L1128.79,728.02 L1129.05,727.26 L1129.31,726.50 L1129.56,725.74 L1129.81,724.98 L1130.05,724.22 L1130.29,723.46 L1130.51,722.69 L1130.73,721.93 L1130.94,721.15 L1131.14,720.38 L1131.34,719.60 L1131.53,718.82 L1131.72,718.04 L1131.91,717.26 L1132.10,716.48 L1132.29,715.71 L1132.49,714.93 L1132.68,714.15 L1132.88,713.37 L1133.09,712.60 L1133.30,711.83 L1133.52,711.06 L1133.75,710.30 L1133.99,709.54 L1134.23,708.78 L1134.49,708.02 L1134.74,707.27 L1135.01,706.51 L1135.27,705.76 L1135.55,705.00 L1135.83,704.25 L1136.11,703.50 L1136.40,702.75 L1136.69,702.00 L1136.98,701.25 L1137.28,700.51 L1137.59,699.76 L1137.90,699.02 L1138.21,698.28 L1138.53,697.55 L1138.85,696.81 L1139.18,696.08 L1139.50,695.35 L1139.84,694.63 L1140.17,693.91 L1140.51,693.19 L1140.86,692.47 L1141.22,691.76 L1141.59,691.06 L1141.97,690.36 L1142.37,689.67 L1142.77,688.98 L1143.18,688.29 L1143.60,687.60 L1144.02,686.92 L1144.45,686.24 L1144.87,685.55 L1145.30,684.87 L1145.72,684.19 L1146.14,683.50 L1146.56,682.82 L1146.97,682.13 L1147.38,681.44 L1147.77,680.74 L1148.16,680.04 L1148.53,679.34 L1148.89,678.63 L1149.24,677.91 L1149.59,677.19 L1149.94,676.47 L1150.29,675.75 L1150.64,675.03 L1150.98,674.30 L1151.32,673.57 L1151.66,672.84 L1151.99,672.11 L1152.32,671.38 L1152.64,670.64 L1152.96,669.90 L1153.27,669.16 L1153.57,668.42 L1153.86,667.67 L1154.15,666.92 L1154.43,666.18 L1154.69,665.42 L1154.95,664.67 L1155.20,663.92 L1155.44,663.16 L1155.67,662.40 L1155.89,661.64 L1156.11,660.87 L1156.32,660.11 L1156.52,659.33 L1156.72,658.56 L1156.92,657.78 L1157.11,657.01 L1157.30,656.23 L1157.49,655.45 L1157.67,654.66 L1157.85,653.88 L1158.02,653.10 L1158.20,652.31 L1158.37,651.53 L1158.54,650.74 L1158.71,649.96 L1158.88,649.18 L1159.05,648.39 L1159.22,647.61 L1159.39,646.83 L1159.56,646.05 L1159.73,645.27 L1159.90,644.48 L1160.07,643.70 L1160.23,642.92 L1160.39,642.13 L1160.56,641.35 L1160.71,640.57 L1160.87,639.78 L1161.03,639.00 L1161.18,638.21 L1161.34,637.43 L1161.49,636.64 L1161.64,635.85 L1161.78,635.07 L1161.93,634.28 L1162.07,633.49 L1162.22,632.71 L1162.36,631.92 L1162.49,631.13 L1162.63,630.34 L1162.76,629.55 L1162.89,628.77 L1163.02,627.98 L1163.14,627.19 L1163.27,626.39 L1163.39,625.60 L1163.52,624.81 L1163.64,624.02 L1163.76,623.23 L1163.89,622.44 L1164.02,621.65 L1164.14,620.86 L1164.27,620.07 L1164.40,619.28 L1164.53,618.49 L1164.67,617.71 L1164.80,616.92 L1164.94,616.13 L1165.07,615.34 L1165.21,614.55 L1165.34,613.76 L1165.48,612.97 L1165.62,612.19 L1165.75,611.40 L1165.89,610.61 L1166.03,609.82 L1166.17,609.03 L1166.31,608.25 L1166.45,607.46 L1166.59,606.67 L1166.73,605.88 L1166.87,605.10 L1167.01,604.31 L1167.16,603.52 L1167.30,602.73 L1167.44,601.95 L1167.59,601.16 L1167.73,600.37 L1167.88,599.59 L1168.03,598.80 L1168.18,598.02 L1168.33,597.23 L1168.48,596.44 L1168.63,595.66 L1168.78,594.87 L1168.93,594.09 L1169.08,593.30 L1169.23,592.52 L1169.39,591.73 L1169.54,590.95 L1169.70,590.16 L1169.85,589.38 L1170.01,588.59 L1170.16,587.81 L1170.32,587.02 L1170.47,586.23 L1170.62,585.44 L1170.75,584.63 L1170.88,583.81 L1171.01,582.98 L1171.13,582.15 L1171.25,581.32 L1171.38,580.49 L1171.50,579.66 L1171.63,578.84 L1171.77,578.02 L1171.91,577.22 L1172.07,576.43 L1172.23,575.65 L1172.42,574.89 L1172.61,574.16 L1172.83,573.44 L1173.06,572.75 L1173.32,572.09 L1173.64,571.42 L1174.11,570.67 L1174.70,569.93 L1175.34,569.25 L1176.00,568.73 L1176.63,568.44 L1177.19,568.44 L1177.74,568.75 L1178.30,569.29 L1178.85,569.98 L1179.38,570.77 L1179.89,571.56 L1180.37,572.30 L1180.81,572.96 L1181.22,573.63 L1181.61,574.32 L1181.98,575.03 L1182.34,575.75 L1182.69,576.48 L1183.03,577.21 L1183.38,577.94 L1183.73,578.67 L1184.09,579.39 L1184.46,580.10 L1184.86,580.79 L1185.27,581.47 L1185.69,582.15 L1186.12,582.83 L1186.56,583.51 L1187.01,584.18 L1187.47,584.85 L1187.95,585.50 L1188.43,586.15 L1188.93,586.77 L1189.44,587.38 L1189.96,587.96 L1190.50,588.52 L1191.07,589.08 L1191.66,589.62 L1192.27,590.16 L1192.89,590.68 L1193.52,591.18 L1194.17,591.67 L1194.82,592.14 L1195.48,592.60 L1196.14,593.03 L1196.82,593.44 L1197.51,593.82 L1198.22,594.18 L1198.94,594.54 L1199.67,594.88 L1200.40,595.22 L1201.13,595.56 L1201.86,595.91 L1202.57,596.27 L1203.28,596.65 L1204.01,597.02 L1204.77,597.39 L1205.54,597.75 L1206.31,598.11 L1207.08,598.48 L1207.82,598.86 L1208.54,599.26 L1209.21,599.68 L1209.84,600.12 L1210.40,600.58 L1210.89,601.08 L1211.32,601.64 L1211.72,602.26 L1212.09,602.93 L1212.43,603.65 L1212.76,604.40 L1213.07,605.18 L1213.37,605.97 L1213.67,606.76 L1213.95,607.56 L1214.24,608.33 L1214.53,609.09 L1214.83,609.83 L1215.11,610.58 L1215.39,611.33 L1215.66,612.08 L1215.93,612.83 L1216.19,613.59 L1216.45,614.35 L1216.71,615.11 L1216.96,615.87 L1217.21,616.63 L1217.46,617.39 L1217.72,618.15 L1217.97,618.91 L1218.22,619.66 L1218.47,620.42 L1218.72,621.18 L1218.96,621.95 L1219.21,622.71 L1219.46,623.47 L1219.70,624.23 L1219.94,624.99 L1220.18,625.76 L1220.42,626.52 L1220.65,627.29 L1220.89,628.05 L1221.12,628.82 L1221.35,629.58 L1221.58,630.35 L1221.81,631.12 L1222.04,631.88 L1222.26,632.65 L1222.48,633.42 L1222.69,634.19 L1222.89,634.97 L1223.09,635.74 L1223.29,636.52 L1223.49,637.30 L1223.69,638.07 L1223.88,638.85 L1224.08,639.63 L1224.28,640.41 L1224.48,641.18 L1224.68,641.96 L1224.89,642.73 L1225.10,643.50 L1225.32,644.27 L1225.55,645.03 L1225.78,645.79 L1226.02,646.55 L1226.27,647.32 L1226.51,648.12 L1226.75,648.94 L1226.99,649.78 L1227.23,650.63 L1227.48,651.48 L1227.74,652.33 L1228.00,653.16 L1228.28,653.98 L1228.57,654.77 L1228.88,655.52 L1229.21,656.22 L1229.56,656.88 L1229.93,657.48 L1230.33,658.01 L1230.76,658.46 L1231.29,658.88 L1231.97,659.30 L1232.77,659.71 L1233.63,660.08 L1234.49,660.41 L1235.33,660.67 L1236.07,660.84 L1236.68,660.90 L1237.17,660.78 L1237.63,660.42 L1238.05,659.86 L1238.45,659.14 L1238.82,658.31 L1239.18,657.41 L1239.52,656.47 L1239.86,655.55 L1240.20,654.69 L1240.54,653.92 L1240.87,653.20 L1241.20,652.47 L1241.52,651.74 L1241.83,651.01 L1242.14,650.27 L1242.44,649.52 L1242.74,648.78 L1243.03,648.03 L1243.33,647.29 L1243.61,646.54 L1243.90,645.79 L1244.19,645.04 L1244.48,644.30 L1244.77,643.55 L1245.05,642.81 L1245.34,642.06 L1245.63,641.31 L1245.92,640.56 L1246.20,639.81 L1246.48,639.06 L1246.76,638.31 L1247.04,637.56 L1247.32,636.81 L1247.59,636.06 L1247.86,635.30 L1248.13,634.55 L1248.39,633.79 L1248.65,633.04 L1248.90,632.28 L1249.15,631.52 L1249.39,630.76 L1249.62,630.00 L1249.85,629.23 L1250.08,628.47 L1250.30,627.70 L1250.51,626.93 L1250.72,626.15 L1250.92,625.38 L1251.12,624.61 L1251.32,623.83 L1251.52,623.05 L1251.72,622.28 L1251.91,621.50 L1252.11,620.72 L1252.30,619.95 L1252.50,619.17 L1252.70,618.39 L1252.90,617.62 L1253.10,616.84 L1253.30,616.07 L1253.51,615.30 L1253.73,614.53 L1253.95,613.76 L1254.17,612.99 L1254.40,612.22 L1254.63,611.45 L1254.85,610.68 L1255.07,609.90 L1255.30,609.13 L1255.52,608.35 L1255.75,607.57 L1255.98,606.79 L1256.21,606.02 L1256.45,605.25 L1256.70,604.48 L1256.95,603.72 L1257.21,602.96 L1257.48,602.21 L1257.76,601.47 L1258.05,600.73 L1258.36,600.01 L1258.67,599.29 L1259.00,598.59 L1259.36,597.88 L1259.73,597.16 L1260.14,596.44 L1260.56,595.74 L1261.01,595.04 L1261.48,594.37 L1261.96,593.71 L1262.47,593.10 L1262.99,592.52 L1263.52,591.98 L1264.10,591.49 L1264.73,591.04 L1265.41,590.62 L1266.11,590.22 L1266.83,589.82 L1267.56,589.43 L1268.27,589.02 L1268.96,588.60 L1269.62,588.14 L1270.29,587.68 L1270.97,587.21 L1271.66,586.74 L1272.35,586.26 L1273.04,585.77 L1273.70,585.27 L1274.33,584.76 L1274.93,584.23 L1275.49,583.68 L1275.98,583.11 L1276.42,582.52 L1276.80,581.90 L1277.15,581.24 L1277.47,580.55 L1277.77,579.82 L1278.05,579.07 L1278.32,578.30 L1278.58,577.52 L1278.83,576.72 L1279.07,575.93 L1279.31,575.13 L1279.56,574.34 L1279.81,573.56 L1280.07,572.80 L1280.33,572.05 L1280.59,571.29 L1280.85,570.54 L1281.11,569.78 L1281.37,569.02 L1281.63,568.26 L1281.88,567.50 L1282.13,566.74 L1282.39,565.98 L1282.63,565.22 L1282.88,564.46 L1283.12,563.70 L1283.37,562.94 L1283.60,562.17 L1283.84,561.41 L1284.07,560.64 L1284.30,559.88 L1284.52,559.11 L1284.75,558.34 L1284.96,557.57 L1285.18,556.80 L1285.39,556.03 L1285.61,555.26 L1285.82,554.49 L1286.02,553.72 L1286.23,552.94 L1286.43,552.17 L1286.63,551.39 L1286.83,550.62 L1287.02,549.84 L1287.22,549.06 L1287.41,548.28 L1287.59,547.51 L1287.78,546.73 L1287.96,545.95 L1288.14,545.17 L1288.31,544.39 L1288.48,543.61 L1288.65,542.83 L1288.81,542.04 L1288.97,541.26 L1289.12,540.47 L1289.27,539.69 L1289.42,538.90 L1289.57,538.11 L1289.72,537.33 L1289.86,536.54 L1290.01,535.75 L1290.16,534.97 L1290.30,534.18 L1290.45,533.39 L1290.60,532.61 L1290.76,531.82 L1290.91,531.04 L1291.08,530.25 L1291.24,529.47 L1291.41,528.69 L1291.58,527.91 L1291.76,527.13 L1291.94,526.34 L1292.11,525.55 L1292.28,524.75 L1292.45,523.94 L1292.63,523.14 L1292.81,522.34 L1293.00,521.55 L1293.20,520.76 L1293.42,519.99 L1293.65,519.23 L1293.90,518.49 L1294.17,517.77 L1294.46,517.08 L1294.81,516.34 L1295.24,515.53 L1295.73,514.72 L1296.28,514.01 L1296.86,513.51 L1297.46,513.30 L1298.11,513.34 L1298.87,513.47 L1299.68,513.67 L1300.52,513.93 L1301.35,514.23 L1302.13,514.56 L1302.83,514.91 L1303.43,515.33 L1303.94,515.96 L1304.42,516.70 L1304.89,517.45 L1305.40,518.08 L1305.98,518.49 L1306.73,518.74 L1307.62,518.96 L1308.49,519.12 L1309.18,519.20 L1309.63,519.13 L1310.02,518.82 L1310.37,518.31 L1310.69,517.62 L1310.97,516.81 L1311.24,515.90 L1311.48,514.93 L1311.72,513.94 L1311.96,512.96 L1312.19,512.03 L1312.44,511.19 L1312.69,510.43 L1312.94,509.67 L1313.19,508.91 L1313.43,508.15 L1313.67,507.39 L1313.90,506.62 L1314.13,505.85 L1314.35,505.09 L1314.58,504.32 L1314.80,503.55 L1315.02,502.78 L1315.23,502.00 L1315.45,501.23 L1315.66,500.46 L1315.87,499.69 L1316.08,498.92 L1316.29,498.14 L1316.49,497.36 L1316.67,496.55 L1316.85,495.72 L1317.01,494.88 L1317.16,494.02 L1317.31,493.16 L1317.46,492.30 L1317.61,491.45 L1317.76,490.60 L1317.92,489.76 L1318.09,488.95 L1318.27,488.15 L1318.46,487.39 L1318.68,486.66 L1318.91,485.96 L1319.17,485.31 L1319.46,484.70 L1319.77,484.15 L1320.21,483.61 L1320.85,483.04 L1321.62,482.49 L1322.43,482.02 L1323.20,481.68 L1323.86,481.51 L1324.37,481.57 L1324.85,481.86 L1325.32,482.36 L1325.76,483.02 L1326.18,483.80 L1326.58,484.67 L1326.94,485.59 L1327.28,486.52 L1327.59,487.43 L1327.86,488.27 L1328.10,489.02 L1328.33,489.76 L1328.55,490.51 L1328.76,491.27 L1328.96,492.03 L1329.16,492.80 L1329.35,493.58 L1329.53,494.36 L1329.70,495.14 L1329.87,495.93 L1330.03,496.72 L1330.18,497.52 L1330.33,498.31 L1330.47,499.11 L1330.61,499.91 L1330.74,500.72 L1330.86,501.52 L1330.98,502.32 L1331.09,503.12 L1331.20,503.92 L1331.31,504.72 L1331.41,505.51 L1331.50,506.31 L1331.59,507.10 L1331.68,507.89 L1331.76,508.68 L1331.83,509.48 L1331.91,510.28 L1331.98,511.07 L1332.04,511.87 L1332.11,512.67 L1332.17,513.47 L1332.23,514.26 L1332.29,515.06 L1332.35,515.86 L1332.41,516.66 L1332.47,517.46 L1332.53,518.26 L1332.59,519.06 L1332.66,519.86 L1332.72,520.65 L1332.78,521.45 L1332.85,522.25 L1332.91,523.05 L1332.96,523.85 L1333.02,524.64 L1333.08,525.44 L1333.14,526.24 L1333.19,527.04 L1333.25,527.84 L1333.31,528.64 L1333.37,529.43 L1333.43,530.23 L1333.50,531.03 L1333.56,531.82 L1333.63,532.62 L1333.71,533.42 L1333.78,534.21 L1333.86,535.01 L1333.95,535.80 L1334.04,536.60 L1334.14,537.39 L1334.24,538.18 L1334.34,538.98 L1334.45,539.77 L1334.56,540.56 L1334.67,541.35 L1334.79,542.15 L1334.91,542.94 L1335.02,543.73 L1335.14,544.52 L1335.26,545.31 L1335.38,546.10 L1335.50,546.90 L1335.61,547.69 L1335.73,548.48 L1335.84,549.27 L1335.95,550.07 L1336.05,550.86 L1336.16,551.65 L1336.25,552.45 L1336.35,553.24 L1336.44,554.04 L1336.54,554.83 L1336.63,555.62 L1336.72,556.42 L1336.80,557.22 L1336.89,558.01 L1336.98,558.81 L1337.07,559.60 L1337.15,560.40 L1337.24,561.19 L1337.33,561.99 L1337.42,562.78 L1337.51,563.58 L1337.60,564.37 L1337.70,565.17 L1337.80,565.96 L1337.89,566.75 L1338.00,567.55 L1338.10,568.34 L1338.20,569.13 L1338.31,569.93 L1338.41,570.72 L1338.52,571.51 L1338.63,572.30 L1338.74,573.10 L1338.85,573.89 L1338.96,574.68 L1339.07,575.47 L1339.18,576.27 L1339.29,577.06 L1339.40,577.85 L1339.50,578.65 L1339.61,579.44 L1339.72,580.23 L1339.82,581.02 L1339.93,581.82 L1340.03,582.61 L1340.13,583.41 L1340.23,584.20 L1340.33,584.99 L1340.43,585.79 L1340.53,586.58 L1340.63,587.37 L1340.73,588.17 L1340.83,588.96 L1340.93,589.76 L1341.03,590.55 L1341.13,591.34 L1341.24,592.14 L1341.34,592.93 L1341.45,593.72 L1341.56,594.52 L1341.67,595.31 L1341.78,596.10 L1341.90,596.89 L1342.01,597.68 L1342.13,598.47 L1342.24,599.27 L1342.36,600.06 L1342.47,600.86 L1342.58,601.66 L1342.70,602.45 L1342.82,603.25 L1342.93,604.05 L1343.06,604.84 L1343.18,605.64 L1343.32,606.43 L1343.45,607.22 L1343.60,608.00 L1343.75,608.78 L1343.91,609.56 L1344.08,610.34 L1344.26,611.11 L1344.44,611.87 L1344.65,612.65 L1344.87,613.45 L1345.10,614.26 L1345.36,615.07 L1345.64,615.86 L1345.94,616.64 L1346.26,617.38 L1346.61,618.09 L1346.99,618.75 L1347.39,619.35 L1347.87,619.93 L1348.52,620.54 L1349.28,621.13 L1350.05,621.65 L1350.76,622.02 L1351.32,622.19 L1351.72,622.11 L1352.07,621.79 L1352.39,621.26 L1352.69,620.57 L1352.96,619.74 L1353.21,618.82 L1353.45,617.84 L1353.69,616.84 L1353.94,615.87 L1354.19,614.94 L1354.46,614.12 L1354.74,613.36 L1355.02,612.61 L1355.29,611.86 L1355.56,611.11 L1355.84,610.36 L1356.11,609.60 L1356.39,608.85 L1356.67,608.10 L1356.95,607.35 L1357.24,606.61 L1357.53,605.86 L1357.83,605.12 L1358.13,604.38 L1358.43,603.58 L1358.72,602.72 L1359.00,601.81 L1359.28,600.88 L1359.56,599.92 L1359.85,598.96 L1360.13,598.00 L1360.43,597.05 L1360.73,596.14 L1361.04,595.27 L1361.37,594.45 L1361.72,593.70 L1362.08,593.03 L1362.46,592.45 L1362.87,591.98 L1363.31,591.62 L1363.77,591.39 L1364.26,591.30 L1364.85,591.32 L1365.60,591.39 L1366.45,591.51 L1367.34,591.65 L1368.20,591.82 L1368.99,592.00 L1369.70,592.24 L1370.41,592.60 L1371.10,593.04 L1371.77,593.56 L1372.41,594.11 L1373.01,594.68 L1373.55,595.25 L1374.05,595.82 L1374.53,596.43 L1374.99,597.08 L1375.41,597.76 L1375.81,598.48 L1376.17,599.23 L1376.50,600.00" fill="none" stroke="#ff0000" stroke-width="5.6" stroke-linecap="round" stroke-linejoin="round" stroke-dasharray="20.01 13.64 0.10 14.30 18.40 13.60 0.10 13.50 18.40 13.61 0.10 14.30 17.00 9.84 0.10 12.72 19.21 13.88 0.10 15.97 20.00 15.40 0.10 15.15 19.91 15.42 0.10 15.11 19.20 15.20 0.10 15.15 20.05 13.60 0.10 14.30 17.60 14.40 0.10 13.50 18.26 8.42 0.10 15.14 17.60 13.60 0.10 15.10 17.60 13.60 0.10 14.31 19.40 17.71 0.10 12.75 19.77 16.00 0.10 13.52 19.22 13.60 0.10 13.51 19.20 14.40 0.10 14.31 32.02 14.41 0.10 13.50 18.41 15.42 0.10 15.21 18.41 13.60 0.10 15.10 17.60 15.20 0.10 13.50 20.00 15.22 0.10 15.21 17.84 15.22 0.10 15.90 17.61 16.81 0.10 15.13 18.40 14.40 0.10 14.30 17.60 15.20 0.10 14.36 21.07 16.04 0.10 16.76 19.24 13.60 0.10 15.10 20.50 16.75 0.10 15.10 18.40 15.21 0.10 15.16 20.08 14.40 0.10 14.30 18.41 15.25 0.10 13.01 22.61 14.48 0.10 13.08 18.43 13.60 0.10 14.30 17.60 14.40 0.10 12.70 20.00 13.60 0.10 12.90 17.76 16.54 0.10 9.57 6.41 1985.09" stroke-dashoffset="-0.00"/>
</g>
<line x1="132.80" y1="35.80" x2="1376.90" y2="35.80" stroke="#000" stroke-width="1.6"/>
<line x1="132.20" y1="898.00" x2="1377.00" y2="898.00" stroke="#000" stroke-width="2.0"/>
<line x1="132.20" y1="467.00" x2="1377.00" y2="467.00" stroke="#000" stroke-width="2.0"/>
<line x1="133.00" y1="35.00" x2="133.00" y2="899.00" stroke="#000" stroke-width="1.6"/>
<line x1="1376.00" y1="35.00" x2="1376.00" y2="899.00" stroke="#000" stroke-width="2.0"/>
<line x1="754.50" y1="35.00" x2="754.50" y2="899.00" stroke="#000" stroke-width="2.0"/>
<line x1="127.00" y1="466.90" x2="133.00" y2="466.90" stroke="#000" stroke-width="1.6"/>
<line x1="1376.00" y1="466.90" x2="1382.00" y2="466.90" stroke="#000" stroke-width="1.6"/>
<line x1="129.50" y1="439.94" x2="133.00" y2="439.94" stroke="#000" stroke-width="1.6"/>
<line x1="1376.00" y1="439.94" x2="1379.50" y2="439.94" stroke="#000" stroke-width="1.6"/>
<line x1="127.00" y1="412.98" x2="133.00" y2="412.98" stroke="#000" stroke-width="1.6"/>
<line x1="1376.00" y1="412.98" x2="1382.00" y2="412.98" stroke="#000" stroke-width="1.6"/>
<line x1="129.50" y1="386.02" x2="133.00" y2="386.02" stroke="#000" stroke-width="1.6"/>
<line x1="1376.00" y1="386.02" x2="1379.50" y2="386.02" stroke="#000" stroke-width="1.6"/>
<line x1="127.00" y1="359.06" x2="133.00" y2="359.06" stroke="#000" stroke-width="1.6"/>
<line x1="1376.00" y1="359.06" x2="1382.00" y2="359.06" stroke="#000" stroke-width="1.6"/>
<line x1="129.50" y1="332.10" x2="133.00" y2="332.10" stroke="#000" stroke-width="1.6"/>
<line x1="1376.00" y1="332.10" x2="1379.50" y2="332.10" stroke="#000" stroke-width="1.6"/>
<line x1="127.00" y1="305.14" x2="133.00" y2="305.14" stroke="#000" stroke-width="1.6"/>
<line x1="1376.00" y1="305.14" x2="1382.00" y2="305.14" stroke="#000" stroke-width="1.6"/>
<line x1="129.50" y1="278.18" x2="133.00" y2="278.18" stroke="#000" stroke-width="1.6"/>
<line x1="1376.00" y1="278.18" x2="1379.50" y2="278.18" stroke="#000" stroke-width="1.6"/>
<line x1="127.00" y1="251.22" x2="133.00" y2="251.22" stroke="#000" stroke-width="1.6"/>
<line x1="1376.00" y1="251.22" x2="1382.00" y2="251.22" stroke="#000" stroke-width="1.6"/>
<line x1="129.50" y1="224.26" x2="133.00" y2="224.26" stroke="#000" stroke-width="1.6"/>
<line x1="1376.00" y1="224.26" x2="1379.50" y2="224.26" stroke="#000" stroke-width="1.6"/>
<line x1="127.00" y1="197.30" x2="133.00" y2="197.30" stroke="#000" stroke-width="1.6"/>
<line x1="1376.00" y1="197.30" x2="1382.00" y2="197.30" stroke="#000" stroke-width="1.6"/>
<line x1="129.50" y1="170.34" x2="133.00" y2="170.34" stroke="#000" stroke-width="1.6"/>
<line x1="1376.00" y1="170.34" x2="1379.50" y2="170.34" stroke="#000" stroke-width="1.6"/>
<line x1="127.00" y1="143.38" x2="133.00" y2="143.38" stroke="#000" stroke-width="1.6"/>
<line x1="1376.00" y1="143.38" x2="1382.00" y2="143.38" stroke="#000" stroke-width="1.6"/>
<line x1="129.50" y1="116.42" x2="133.00" y2="116.42" stroke="#000" stroke-width="1.6"/>
<line x1="1376.00" y1="116.42" x2="1379.50" y2="116.42" stroke="#000" stroke-width="1.6"/>
<line x1="127.00" y1="89.46" x2="133.00" y2="89.46" stroke="#000" stroke-width="1.6"/>
<line x1="1376.00" y1="89.46" x2="1382.00" y2="89.46" stroke="#000" stroke-width="1.6"/>
<line x1="129.50" y1="62.50" x2="133.00" y2="62.50" stroke="#000" stroke-width="1.6"/>
<line x1="1376.00" y1="62.50" x2="1379.50" y2="62.50" stroke="#000" stroke-width="1.6"/>
<line x1="127.00" y1="35.54" x2="133.00" y2="35.54" stroke="#000" stroke-width="1.6"/>
<line x1="1376.00" y1="35.54" x2="1382.00" y2="35.54" stroke="#000" stroke-width="1.6"/>
<line x1="127.00" y1="897.50" x2="133.00" y2="897.50" stroke="#000" stroke-width="1.6"/>
<line x1="129.50" y1="866.75" x2="133.00" y2="866.75" stroke="#000" stroke-width="1.6"/>
<line x1="127.00" y1="836.00" x2="133.00" y2="836.00" stroke="#000" stroke-width="1.6"/>
<line x1="129.50" y1="805.25" x2="133.00" y2="805.25" stroke="#000" stroke-width="1.6"/>
<line x1="127.00" y1="774.50" x2="133.00" y2="774.50" stroke="#000" stroke-width="1.6"/>
<line x1="129.50" y1="743.75" x2="133.00" y2="743.75" stroke="#000" stroke-width="1.6"/>
<line x1="127.00" y1="713.00" x2="133.00" y2="713.00" stroke="#000" stroke-width="1.6"/>
<line x1="129.50" y1="682.25" x2="133.00" y2="682.25" stroke="#000" stroke-width="1.6"/>
<line x1="127.00" y1="651.50" x2="133.00" y2="651.50" stroke="#000" stroke-width="1.6"/>
<line x1="129.50" y1="620.75" x2="133.00" y2="620.75" stroke="#000" stroke-width="1.6"/>
<line x1="127.00" y1="590.00" x2="133.00" y2="590.00" stroke="#000" stroke-width="1.6"/>
<line x1="129.50" y1="559.25" x2="133.00" y2="559.25" stroke="#000" stroke-width="1.6"/>
<line x1="127.00" y1="528.50" x2="133.00" y2="528.50" stroke="#000" stroke-width="1.6"/>
<line x1="129.50" y1="497.75" x2="133.00" y2="497.75" stroke="#000" stroke-width="1.6"/>
<line x1="127.00" y1="467.00" x2="133.00" y2="467.00" stroke="#000" stroke-width="1.6"/>
<line x1="1376.00" y1="872.60" x2="1382.00" y2="872.60" stroke="#000" stroke-width="1.6"/>
<line x1="1376.00" y1="821.89" x2="1379.50" y2="821.89" stroke="#000" stroke-width="1.6"/>
<line x1="1376.00" y1="771.18" x2="1382.00" y2="771.18" stroke="#000" stroke-width="1.6"/>
<line x1="1376.00" y1="720.47" x2="1379.50" y2="720.47" stroke="#000" stroke-width="1.6"/>
<line x1="1376.00" y1="669.76" x2="1382.00" y2="669.76" stroke="#000" stroke-width="1.6"/>
<line x1="1376.00" y1="619.05" x2="1379.50" y2="619.05" stroke="#000" stroke-width="1.6"/>
<line x1="1376.00" y1="568.34" x2="1382.00" y2="568.34" stroke="#000" stroke-width="1.6"/>
<line x1="1376.00" y1="517.63" x2="1379.50" y2="517.63" stroke="#000" stroke-width="1.6"/>
<line x1="1376.00" y1="466.92" x2="1382.00" y2="466.92" stroke="#000" stroke-width="1.6"/>
<line x1="156.90" y1="898.00" x2="156.90" y2="904.00" stroke="#000" stroke-width="1.6"/>
<line x1="156.90" y1="461.00" x2="156.90" y2="473.00" stroke="#000" stroke-width="1.6"/>
<line x1="256.55" y1="898.00" x2="256.55" y2="901.50" stroke="#000" stroke-width="1.6"/>
<line x1="256.55" y1="463.50" x2="256.55" y2="470.50" stroke="#000" stroke-width="1.6"/>
<line x1="356.20" y1="898.00" x2="356.20" y2="904.00" stroke="#000" stroke-width="1.6"/>
<line x1="356.20" y1="461.00" x2="356.20" y2="473.00" stroke="#000" stroke-width="1.6"/>
<line x1="455.85" y1="898.00" x2="455.85" y2="901.50" stroke="#000" stroke-width="1.6"/>
<line x1="455.85" y1="463.50" x2="455.85" y2="470.50" stroke="#000" stroke-width="1.6"/>
<line x1="555.50" y1="898.00" x2="555.50" y2="904.00" stroke="#000" stroke-width="1.6"/>
<line x1="555.50" y1="461.00" x2="555.50" y2="473.00" stroke="#000" stroke-width="1.6"/>
<line x1="655.15" y1="898.00" x2="655.15" y2="901.50" stroke="#000" stroke-width="1.6"/>
<line x1="655.15" y1="463.50" x2="655.15" y2="470.50" stroke="#000" stroke-width="1.6"/>
<line x1="754.80" y1="898.00" x2="754.80" y2="904.00" stroke="#000" stroke-width="1.6"/>
<line x1="754.80" y1="461.00" x2="754.80" y2="473.00" stroke="#000" stroke-width="1.6"/>
<line x1="778.20" y1="898.00" x2="778.20" y2="904.00" stroke="#000" stroke-width="1.6"/>
<line x1="778.20" y1="461.00" x2="778.20" y2="473.00" stroke="#000" stroke-width="1.6"/>
<line x1="877.85" y1="898.00" x2="877.85" y2="901.50" stroke="#000" stroke-width="1.6"/>
<line x1="877.85" y1="463.50" x2="877.85" y2="470.50" stroke="#000" stroke-width="1.6"/>
<line x1="977.50" y1="898.00" x2="977.50" y2="904.00" stroke="#000" stroke-width="1.6"/>
<line x1="977.50" y1="461.00" x2="977.50" y2="473.00" stroke="#000" stroke-width="1.6"/>
<line x1="1077.15" y1="898.00" x2="1077.15" y2="901.50" stroke="#000" stroke-width="1.6"/>
<line x1="1077.15" y1="463.50" x2="1077.15" y2="470.50" stroke="#000" stroke-width="1.6"/>
<line x1="1176.80" y1="898.00" x2="1176.80" y2="904.00" stroke="#000" stroke-width="1.6"/>
<line x1="1176.80" y1="461.00" x2="1176.80" y2="473.00" stroke="#000" stroke-width="1.6"/>
<line x1="1276.45" y1="898.00" x2="1276.45" y2="901.50" stroke="#000" stroke-width="1.6"/>
<line x1="1276.45" y1="463.50" x2="1276.45" y2="470.50" stroke="#000" stroke-width="1.6"/>
<line x1="1376.10" y1="898.00" x2="1376.10" y2="904.00" stroke="#000" stroke-width="1.6"/>
<line x1="1376.10" y1="461.00" x2="1376.10" y2="473.00" stroke="#000" stroke-width="1.6"/>
<line x1="386.8" y1="706.8" x2="386.8" y2="755.0" stroke="#0000ff" stroke-width="3.4" stroke-linecap="round"/>
<path d="M381.60,753.80 L392.00,753.80 L386.80,767.22 Z" fill="#0000ff" stroke="#0000ff" stroke-width="1.6" stroke-linejoin="round"/>
<line x1="426.6" y1="703.7" x2="426.6" y2="758.6" stroke="#0000ff" stroke-width="3.4" stroke-linecap="round"/>
<path d="M421.40,757.40 L431.80,757.40 L426.60,773.72 Z" fill="#0000ff" stroke="#0000ff" stroke-width="1.6" stroke-linejoin="round"/>
<line x1="398.3" y1="722.1" x2="412.5" y2="722.1" stroke="#0000ff" stroke-width="3.4"/>
<path d="M389.28,722.10 L398.50,717.30 L398.50,726.90 Z" fill="#0000ff" stroke="#0000ff" stroke-width="1.6" stroke-linejoin="round"/>
<path d="M423.52,722.10 L412.30,717.30 L412.30,726.90 Z" fill="#0000ff" stroke="#0000ff" stroke-width="1.6" stroke-linejoin="round"/>
<line x1="472.4" y1="814.4" x2="472.4" y2="884.3" stroke="#000" stroke-width="3.5" stroke-linecap="round"/>
<path d="M467.10,883.10 L477.70,883.10 L472.40,899.22 Z" fill="#000" stroke="#000" stroke-width="1.6" stroke-linejoin="round"/>
<line x1="520.0" y1="805.4" x2="520.0" y2="881.0" stroke="#000" stroke-width="3.5" stroke-linecap="round"/>
<path d="M514.90,879.80 L525.10,879.80 L520.00,896.52 Z" fill="#000" stroke="#000" stroke-width="1.6" stroke-linejoin="round"/>
<line x1="484.8" y1="850.7" x2="507.5" y2="850.7" stroke="#000" stroke-width="3.4"/>
<path d="M475.08,850.70 L485.00,845.90 L485.00,855.50 Z" fill="#000" stroke="#000" stroke-width="1.6" stroke-linejoin="round"/>
<path d="M517.12,850.70 L507.30,845.90 L507.30,855.50 Z" fill="#000" stroke="#000" stroke-width="1.6" stroke-linejoin="round"/>
<g font-family="Liberation Sans" font-weight="bold">
<text transform="translate(410.19,26.00) scale(1.0692,1)" font-size="34.64" fill="#000">NVE</text>
<text transform="translate(1065.47,30.00) scale(1.0612,1)" font-size="35.22" fill="#000">NPH</text>
<text transform="translate(108.10,474.00) scale(1.0300,1)" font-size="28.10" fill="#000">0</text>
<text transform="translate(1385.00,474.00) scale(1.0300,1)" font-size="28.10" fill="#000">0</text>
<text transform="translate(108.10,420.08) scale(1.0300,1)" font-size="28.10" fill="#000">2</text>
<text transform="translate(1385.00,420.08) scale(1.0300,1)" font-size="28.10" fill="#000">2</text>
<text transform="translate(108.10,366.16) scale(1.0300,1)" font-size="28.10" fill="#000">4</text>
<text transform="translate(1385.00,366.16) scale(1.0300,1)" font-size="28.10" fill="#000">4</text>
<text transform="translate(108.10,312.24) scale(1.0300,1)" font-size="28.10" fill="#000">6</text>
<text transform="translate(1385.00,312.24) scale(1.0300,1)" font-size="28.10" fill="#000">6</text>
<text transform="translate(108.10,258.32) scale(1.0300,1)" font-size="28.10" fill="#000">8</text>
<text transform="translate(1385.00,258.32) scale(1.0300,1)" font-size="28.10" fill="#000">8</text>
<text transform="translate(92.01,204.40) scale(1.0300,1)" font-size="28.10" fill="#000"> 0</text>
<path transform="translate(92.01,204.40) scale(28.943,28.100)" d="M0.387,0 L0.387,-0.672 L0.262,-0.672 C0.225,-0.596 0.15,-0.537 0.051,-0.503 L0.051,-0.399 C0.12,-0.422 0.19,-0.451 0.245,-0.486 L0.245,0 Z" fill="#000"/>
<text transform="translate(1385.00,204.40) scale(1.0300,1)" font-size="28.10" fill="#000"> 0</text>
<path transform="translate(1385.00,204.40) scale(28.943,28.100)" d="M0.387,0 L0.387,-0.672 L0.262,-0.672 C0.225,-0.596 0.15,-0.537 0.051,-0.503 L0.051,-0.399 C0.12,-0.422 0.19,-0.451 0.245,-0.486 L0.245,0 Z" fill="#000"/>
<text transform="translate(92.01,150.48) scale(1.0300,1)" font-size="28.10" fill="#000"> 2</text>
<path transform="translate(92.01,150.48) scale(28.943,28.100)" d="M0.387,0 L0.387,-0.672 L0.262,-0.672 C0.225,-0.596 0.15,-0.537 0.051,-0.503 L0.051,-0.399 C0.12,-0.422 0.19,-0.451 0.245,-0.486 L0.245,0 Z" fill="#000"/>
<text transform="translate(1385.00,150.48) scale(1.0300,1)" font-size="28.10" fill="#000"> 2</text>
<path transform="translate(1385.00,150.48) scale(28.943,28.100)" d="M0.387,0 L0.387,-0.672 L0.262,-0.672 C0.225,-0.596 0.15,-0.537 0.051,-0.503 L0.051,-0.399 C0.12,-0.422 0.19,-0.451 0.245,-0.486 L0.245,0 Z" fill="#000"/>
<text transform="translate(92.01,96.56) scale(1.0300,1)" font-size="28.10" fill="#000"> 4</text>
<path transform="translate(92.01,96.56) scale(28.943,28.100)" d="M0.387,0 L0.387,-0.672 L0.262,-0.672 C0.225,-0.596 0.15,-0.537 0.051,-0.503 L0.051,-0.399 C0.12,-0.422 0.19,-0.451 0.245,-0.486 L0.245,0 Z" fill="#000"/>
<text transform="translate(1385.00,96.56) scale(1.0300,1)" font-size="28.10" fill="#000"> 4</text>
<path transform="translate(1385.00,96.56) scale(28.943,28.100)" d="M0.387,0 L0.387,-0.672 L0.262,-0.672 C0.225,-0.596 0.15,-0.537 0.051,-0.503 L0.051,-0.399 C0.12,-0.422 0.19,-0.451 0.245,-0.486 L0.245,0 Z" fill="#000"/>
<text transform="translate(92.01,42.64) scale(1.0300,1)" font-size="28.10" fill="#000"> 6</text>
<path transform="translate(92.01,42.64) scale(28.943,28.100)" d="M0.387,0 L0.387,-0.672 L0.262,-0.672 C0.225,-0.596 0.15,-0.537 0.051,-0.503 L0.051,-0.399 C0.12,-0.422 0.19,-0.451 0.245,-0.486 L0.245,0 Z" fill="#000"/>
<text transform="translate(1385.00,42.64) scale(1.0300,1)" font-size="28.10" fill="#000"> 6</text>
<path transform="translate(1385.00,42.64) scale(28.943,28.100)" d="M0.387,0 L0.387,-0.672 L0.262,-0.672 C0.225,-0.596 0.15,-0.537 0.051,-0.503 L0.051,-0.399 C0.12,-0.422 0.19,-0.451 0.245,-0.486 L0.245,0 Z" fill="#000"/>
<text transform="translate(108.10,904.60) scale(1.0300,1)" font-size="28.10" fill="#000">0</text>
<text transform="translate(75.91,843.10) scale(1.0300,1)" font-size="28.10" fill="#000">200</text>
<text transform="translate(75.91,781.60) scale(1.0300,1)" font-size="28.10" fill="#000">400</text>
<text transform="translate(75.91,720.10) scale(1.0300,1)" font-size="28.10" fill="#000">600</text>
<text transform="translate(75.91,658.60) scale(1.0300,1)" font-size="28.10" fill="#000">800</text>
<text transform="translate(59.81,597.10) scale(1.0300,1)" font-size="28.10" fill="#000"> 000</text>
<path transform="translate(59.81,597.10) scale(28.943,28.100)" d="M0.387,0 L0.387,-0.672 L0.262,-0.672 C0.225,-0.596 0.15,-0.537 0.051,-0.503 L0.051,-0.399 C0.12,-0.422 0.19,-0.451 0.245,-0.486 L0.245,0 Z" fill="#000"/>
<text transform="translate(59.81,535.60) scale(1.0300,1)" font-size="28.10" fill="#000"> 200</text>
<path transform="translate(59.81,535.60) scale(28.943,28.100)" d="M0.387,0 L0.387,-0.672 L0.262,-0.672 C0.225,-0.596 0.15,-0.537 0.051,-0.503 L0.051,-0.399 C0.12,-0.422 0.19,-0.451 0.245,-0.486 L0.245,0 Z" fill="#000"/>
<text transform="translate(1385.00,879.70) scale(1.0300,1)" font-size="28.10" fill="#000">200</text>
<text transform="translate(1385.00,778.28) scale(1.0300,1)" font-size="28.10" fill="#000">400</text>
<text transform="translate(1385.00,676.86) scale(1.0300,1)" font-size="28.10" fill="#000">600</text>
<text transform="translate(1385.00,575.44) scale(1.0300,1)" font-size="28.10" fill="#000">800</text>
<text transform="translate(131.17,931.80) scale(1.0700,1)" font-size="34.60" fill="#000">0.0</text>
<text transform="translate(330.47,931.80) scale(1.0700,1)" font-size="34.60" fill="#000">0.5</text>
<text transform="translate(529.77,931.80) scale(1.0700,1)" font-size="34.60" fill="#000"> .0</text>
<path transform="translate(529.77,931.80) scale(37.022,34.600)" d="M0.387,0 L0.387,-0.672 L0.262,-0.672 C0.225,-0.596 0.15,-0.537 0.051,-0.503 L0.051,-0.399 C0.12,-0.422 0.19,-0.451 0.245,-0.486 L0.245,0 Z" fill="#000"/>
<text transform="translate(752.47,931.80) scale(1.0700,1)" font-size="34.60" fill="#000">0.0</text>
<text transform="translate(951.77,931.80) scale(1.0700,1)" font-size="34.60" fill="#000">0.5</text>
<text transform="translate(1151.07,931.80) scale(1.0700,1)" font-size="34.60" fill="#000"> .0</text>
<path transform="translate(1151.07,931.80) scale(37.022,34.600)" d="M0.387,0 L0.387,-0.672 L0.262,-0.672 C0.225,-0.596 0.15,-0.537 0.051,-0.503 L0.051,-0.399 C0.12,-0.422 0.19,-0.451 0.245,-0.486 L0.245,0 Z" fill="#000"/>
<text transform="translate(1350.37,931.80) scale(1.0700,1)" font-size="34.60" fill="#000"> .5</text>
<path transform="translate(1350.37,931.80) scale(37.022,34.600)" d="M0.387,0 L0.387,-0.672 L0.262,-0.672 C0.225,-0.596 0.15,-0.537 0.051,-0.503 L0.051,-0.399 C0.12,-0.422 0.19,-0.451 0.245,-0.486 L0.245,0 Z" fill="#000"/>
<text transform="translate(379.63,975.00) scale(1.1319,1)" font-size="32.55" fill="#000">Time (ps)</text>
<text transform="translate(1000.63,971.30) scale(1.1305,1)" font-size="32.55" fill="#000">Time (ps)</text>
<text transform="translate(48.10,470.78) rotate(-90) scale(1,1.1750)" font-size="33.54" fill="#000">Electronic temperature (kK)</text>
<text transform="translate(1464.80,468.18) rotate(-90) scale(1,1.1700)" font-size="33.50" fill="#000">Electronic temperature (kK)</text>
<text transform="translate(27.00,872.84) rotate(-90) scale(1,1.1650)" font-size="33.58" fill="#000">Atomic temperature (K)</text>
<text transform="translate(1492.40,875.54) rotate(-90) scale(1,1.1570)" font-size="33.70" fill="#000">Atomic temperature (K)</text>
<rect x="1009.5" y="240.9" width="354.2" height="123.5" fill="#fff" stroke="#808080" stroke-width="1.2"/>
<text transform="translate(1117.60,275.60) scale(1.1100,1)" font-size="33.40" fill="#000">nonirradiated</text>
<text transform="translate(1117.60,316.40) scale(1.1100,1)" font-size="33.40" fill="#000">2 eV/atom BO</text>
<text transform="translate(1117.60,356.90) scale(1.1100,1)" font-size="33.40" fill="#000">2 eV/atom DC</text>
<text transform="translate(431.57,727.20) scale(1.1225,1)" font-size="26.14" fill="#0000ff">95 fs</text>
<text transform="translate(524.96,860.10) scale(1.1000,1)" font-size="26.42" fill="#000">  5 fs</text>
<path transform="translate(524.96,860.10) scale(29.068,26.425)" d="M0.387,0 L0.387,-0.672 L0.262,-0.672 C0.225,-0.596 0.15,-0.537 0.051,-0.503 L0.051,-0.399 C0.12,-0.422 0.19,-0.451 0.245,-0.486 L0.245,0 Z" fill="#000"/>
<path transform="translate(541.12,860.10) scale(29.068,26.425)" d="M0.387,0 L0.387,-0.672 L0.262,-0.672 C0.225,-0.596 0.15,-0.537 0.051,-0.503 L0.051,-0.399 C0.12,-0.422 0.19,-0.451 0.245,-0.486 L0.245,0 Z" fill="#000"/>
</g>
<line x1="1024" y1="263.1" x2="1107.7" y2="263.1" stroke="#000" stroke-width="5.6" stroke-linecap="round"/>
<line x1="1024" y1="304.7" x2="1107.7" y2="304.7" stroke="#0000ff" stroke-width="5.6" stroke-linecap="round" stroke-dasharray="14.8 26.4"/>
<line x1="1024" y1="345.9" x2="1107.7" y2="345.9" stroke="#ff0000" stroke-width="5.6" stroke-linecap="round" stroke-dasharray="18.4 17 0.1 17"/>
</svg>
</body></html>
